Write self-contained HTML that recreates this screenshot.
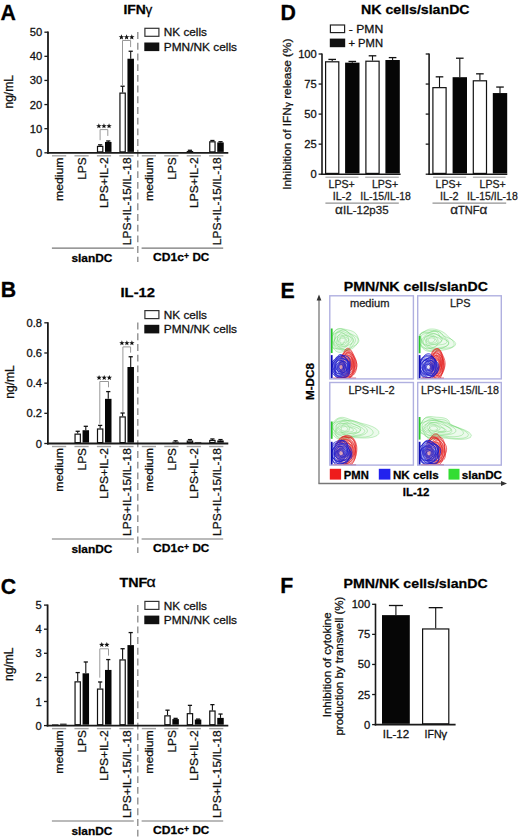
<!DOCTYPE html>
<html><head><meta charset="utf-8"><style>
html,body{margin:0;padding:0;background:#fff;}
svg{display:block;}
text{font-family:"Liberation Sans", sans-serif;stroke:#111;stroke-width:0.28px;paint-order:stroke;}
</style></head><body>
<svg width="520" height="838" viewBox="0 0 520 838">
<rect x="0" y="0" width="520" height="838" fill="#fff"/>
<text x="0.5" y="20.3" font-size="21.3" text-anchor="start" fill="#000" font-weight="bold" >A</text>
<text x="123.4" y="14.3" font-size="13.3" text-anchor="start" fill="#000" font-weight="bold" textLength="22.4" lengthAdjust="spacingAndGlyphs" >IFN</text>
<text x="145.6" y="14.3" font-size="13.5" text-anchor="start" fill="#000" font-family='Liberation Serif' >&#947;</text>
<text x="12.9" y="91.8" font-size="12" text-anchor="middle" fill="#111" textLength="33.5" lengthAdjust="spacingAndGlyphs" transform="rotate(-90 12.9 91.8)" >ng/mL</text>
<rect x="144.9" y="28.3" width="14" height="8" fill="#fff" stroke="#333" stroke-width="1.2"/>
<rect x="144.3" y="42.5" width="15" height="8.6" fill="#111"/>
<text x="163.8" y="36.4" font-size="11.3" text-anchor="start" fill="#111" textLength="43.2" lengthAdjust="spacingAndGlyphs" >NK cells</text>
<text x="163.8" y="50.9" font-size="11.3" text-anchor="start" fill="#111" textLength="73.2" lengthAdjust="spacingAndGlyphs" >PMN/NK cells</text>
<line x1="137.8" y1="32.1" x2="137.8" y2="262" stroke="#888" stroke-width="1.3" stroke-dasharray="6.9 3.8"/>
<line x1="48" y1="31.6" x2="48" y2="153.7" stroke="#1a1a1a" stroke-width="1.8" />
<line x1="47.1" y1="152.8" x2="228.3" y2="152.8" stroke="#1a1a1a" stroke-width="1.8" />
<line x1="44.4" y1="152.8" x2="48" y2="152.8" stroke="#1a1a1a" stroke-width="1.3" />
<text x="42.2" y="156.8" font-size="11.2" text-anchor="end" fill="#111" >0</text>
<line x1="44.4" y1="128.68" x2="48" y2="128.68" stroke="#1a1a1a" stroke-width="1.3" />
<text x="42.2" y="132.68" font-size="11.2" text-anchor="end" fill="#111" >10</text>
<line x1="44.4" y1="104.56" x2="48" y2="104.56" stroke="#1a1a1a" stroke-width="1.3" />
<text x="42.2" y="108.56" font-size="11.2" text-anchor="end" fill="#111" >20</text>
<line x1="44.4" y1="80.44" x2="48" y2="80.44" stroke="#1a1a1a" stroke-width="1.3" />
<text x="42.2" y="84.44" font-size="11.2" text-anchor="end" fill="#111" >30</text>
<line x1="44.4" y1="56.32" x2="48" y2="56.32" stroke="#1a1a1a" stroke-width="1.3" />
<text x="42.2" y="60.32" font-size="11.2" text-anchor="end" fill="#111" >40</text>
<line x1="44.4" y1="32.2" x2="48" y2="32.2" stroke="#1a1a1a" stroke-width="1.3" />
<text x="42.2" y="36.2" font-size="11.2" text-anchor="end" fill="#111" >50</text>
<line x1="52" y1="155.8" x2="66.2" y2="155.8" stroke="#a4a4a4" stroke-width="1.4" />
<text x="63.5" y="157.4" font-size="11.5" text-anchor="end" fill="#111" textLength="43.6" lengthAdjust="spacingAndGlyphs" transform="rotate(-90 63.5 157.4)" >medium</text>
<line x1="74.45" y1="155.8" x2="88.65" y2="155.8" stroke="#a4a4a4" stroke-width="1.4" />
<text x="85.95" y="157.4" font-size="11.5" text-anchor="end" fill="#111" textLength="22.3" lengthAdjust="spacingAndGlyphs" transform="rotate(-90 85.95 157.4)" >LPS</text>
<line x1="96.9" y1="155.8" x2="111.1" y2="155.8" stroke="#a4a4a4" stroke-width="1.4" />
<line x1="100.15" y1="145.81" x2="100.15" y2="144.84" stroke="#111" stroke-width="1.1" />
<line x1="98.05" y1="144.84" x2="102.25" y2="144.84" stroke="#111" stroke-width="1.3" />
<rect x="97.5" y="146.41" width="5.3" height="5.49" fill="#fff" stroke="#111" stroke-width="1.2"/>
<line x1="108.25" y1="141.95" x2="108.25" y2="140.98" stroke="#111" stroke-width="1.1" />
<line x1="106.15" y1="140.98" x2="110.35" y2="140.98" stroke="#111" stroke-width="1.3" />
<rect x="105" y="141.95" width="6.5" height="9.95" fill="#060606"/>
<text x="108.4" y="157.4" font-size="11.5" text-anchor="end" fill="#111" textLength="50.6" lengthAdjust="spacingAndGlyphs" transform="rotate(-90 108.4 157.4)" >LPS+IL-2</text>
<line x1="119.35" y1="155.8" x2="133.55" y2="155.8" stroke="#a4a4a4" stroke-width="1.4" />
<line x1="122.6" y1="92.5" x2="122.6" y2="86.23" stroke="#111" stroke-width="1.1" />
<line x1="120.5" y1="86.23" x2="124.7" y2="86.23" stroke="#111" stroke-width="1.3" />
<rect x="119.95" y="93.1" width="5.3" height="58.8" fill="#fff" stroke="#111" stroke-width="1.2"/>
<line x1="130.7" y1="58.73" x2="130.7" y2="51.25" stroke="#111" stroke-width="1.1" />
<line x1="128.6" y1="51.25" x2="132.8" y2="51.25" stroke="#111" stroke-width="1.3" />
<rect x="127.45" y="58.73" width="6.5" height="93.17" fill="#060606"/>
<text x="130.85" y="157.4" font-size="11.5" text-anchor="end" fill="#111" textLength="87.8" lengthAdjust="spacingAndGlyphs" transform="rotate(-90 130.85 157.4)" >LPS+IL-15/IL-18</text>
<line x1="141.8" y1="155.8" x2="156" y2="155.8" stroke="#a4a4a4" stroke-width="1.4" />
<text x="153.3" y="157.4" font-size="11.5" text-anchor="end" fill="#111" textLength="43.6" lengthAdjust="spacingAndGlyphs" transform="rotate(-90 153.3 157.4)" >medium</text>
<line x1="164.25" y1="155.8" x2="178.45" y2="155.8" stroke="#a4a4a4" stroke-width="1.4" />
<text x="175.75" y="157.4" font-size="11.5" text-anchor="end" fill="#111" textLength="22.3" lengthAdjust="spacingAndGlyphs" transform="rotate(-90 175.75 157.4)" >LPS</text>
<line x1="186.7" y1="155.8" x2="200.9" y2="155.8" stroke="#a4a4a4" stroke-width="1.4" />
<line x1="189.95" y1="150.99" x2="189.95" y2="150.27" stroke="#111" stroke-width="1.1" />
<line x1="187.85" y1="150.27" x2="192.05" y2="150.27" stroke="#111" stroke-width="1.3" />
<rect x="187.3" y="151.59" width="5.3" height="0.31" fill="#fff" stroke="#111" stroke-width="1.2"/>
<text x="198.2" y="157.4" font-size="11.5" text-anchor="end" fill="#111" textLength="50.6" lengthAdjust="spacingAndGlyphs" transform="rotate(-90 198.2 157.4)" >LPS+IL-2</text>
<line x1="209.15" y1="155.8" x2="223.35" y2="155.8" stroke="#a4a4a4" stroke-width="1.4" />
<line x1="212.4" y1="141.22" x2="212.4" y2="140.5" stroke="#111" stroke-width="1.1" />
<line x1="210.3" y1="140.5" x2="214.5" y2="140.5" stroke="#111" stroke-width="1.3" />
<rect x="209.75" y="141.82" width="5.3" height="10.08" fill="#fff" stroke="#111" stroke-width="1.2"/>
<line x1="220.5" y1="142.43" x2="220.5" y2="141.7" stroke="#111" stroke-width="1.1" />
<line x1="218.4" y1="141.7" x2="222.6" y2="141.7" stroke="#111" stroke-width="1.3" />
<rect x="217.25" y="142.43" width="6.5" height="9.47" fill="#060606"/>
<text x="220.65" y="157.4" font-size="11.5" text-anchor="end" fill="#111" textLength="87.8" lengthAdjust="spacingAndGlyphs" transform="rotate(-90 220.65 157.4)" >LPS+IL-15/IL-18</text>
<line x1="51.9" y1="248.1" x2="133.8" y2="248.1" stroke="#777" stroke-width="1.2" />
<line x1="141.6" y1="248.1" x2="223.2" y2="248.1" stroke="#777" stroke-width="1.2" />
<text x="91.9" y="261.6" font-size="11.6" text-anchor="middle" fill="#000" font-weight="bold" textLength="41" lengthAdjust="spacingAndGlyphs" >slanDC</text>
<text x="153.1" y="261.2" font-size="11.6" text-anchor="start" fill="#000" font-weight="bold" textLength="31" lengthAdjust="spacingAndGlyphs" >CD1c</text>
<text x="183.9" y="259.3" font-size="9.0" text-anchor="start" fill="#000" font-weight="bold" textLength="5" lengthAdjust="spacingAndGlyphs" >+</text>
<text x="192.4" y="261.2" font-size="11.6" text-anchor="start" fill="#000" font-weight="bold" textLength="16.9" lengthAdjust="spacingAndGlyphs" >DC</text>
<polyline points="100.1,140.2 100.1,129.6 107.8,129.6 107.8,135.9" fill="none" stroke="#999" stroke-width="1"/>
<polygon points="98.85,123.29 99.54,125.15 101.52,125.23 99.97,126.46 100.5,128.37 98.85,127.28 97.2,128.37 97.73,126.46 96.18,125.23 98.16,125.15" fill="#111"/>
<polygon points="103.95,123.29 104.64,125.15 106.62,125.23 105.07,126.46 105.6,128.37 103.95,127.28 102.3,128.37 102.83,126.46 101.28,125.23 103.26,125.15" fill="#111"/>
<polygon points="109.05,123.29 109.74,125.15 111.72,125.23 110.17,126.46 110.7,128.37 109.05,127.28 107.4,128.37 107.93,126.46 106.38,125.23 108.36,125.15" fill="#111"/>
<polyline points="122.5,85 122.5,40.5 130.6,40.5 130.6,47.1" fill="none" stroke="#999" stroke-width="1"/>
<polygon points="121.4,34.34 122.11,36.23 124.12,36.32 122.54,37.57 123.08,39.51 121.4,38.4 119.72,39.51 120.26,37.57 118.68,36.32 120.69,36.23" fill="#111"/>
<polygon points="126.6,34.34 127.31,36.23 129.32,36.32 127.74,37.57 128.28,39.51 126.6,38.4 124.92,39.51 125.46,37.57 123.88,36.32 125.89,36.23" fill="#111"/>
<polygon points="131.8,34.34 132.51,36.23 134.52,36.32 132.94,37.57 133.48,39.51 131.8,38.4 130.12,39.51 130.66,37.57 129.08,36.32 131.09,36.23" fill="#111"/>
<text x="0.8" y="297.4" font-size="21.3" text-anchor="start" fill="#000" font-weight="bold" >B</text>
<text x="120.5" y="296.6" font-size="13.3" text-anchor="start" fill="#000" font-weight="bold" textLength="34.5" lengthAdjust="spacingAndGlyphs" >IL-12</text>
<text x="13.6" y="382" font-size="12" text-anchor="middle" fill="#111" textLength="33.5" lengthAdjust="spacingAndGlyphs" transform="rotate(-90 13.6 382)" >ng/mL</text>
<rect x="144.9" y="310.6" width="14" height="8" fill="#fff" stroke="#333" stroke-width="1.2"/>
<rect x="144.3" y="324.8" width="15" height="8.6" fill="#111"/>
<text x="163.8" y="318.7" font-size="11.3" text-anchor="start" fill="#111" textLength="43.2" lengthAdjust="spacingAndGlyphs" >NK cells</text>
<text x="163.8" y="333.2" font-size="11.3" text-anchor="start" fill="#111" textLength="73.2" lengthAdjust="spacingAndGlyphs" >PMN/NK cells</text>
<line x1="137.8" y1="322.6" x2="137.8" y2="553" stroke="#888" stroke-width="1.3" stroke-dasharray="6.9 3.8"/>
<line x1="47.9" y1="322.2" x2="47.9" y2="444.4" stroke="#1a1a1a" stroke-width="1.8" />
<line x1="47" y1="443.5" x2="228.3" y2="443.5" stroke="#1a1a1a" stroke-width="1.8" />
<line x1="44.3" y1="443.5" x2="47.9" y2="443.5" stroke="#1a1a1a" stroke-width="1.3" />
<text x="42.1" y="447.5" font-size="11.2" text-anchor="end" fill="#111" >0</text>
<line x1="44.3" y1="413.32" x2="47.9" y2="413.32" stroke="#1a1a1a" stroke-width="1.3" />
<text x="42.1" y="417.32" font-size="11.2" text-anchor="end" fill="#111" >0.2</text>
<line x1="44.3" y1="383.15" x2="47.9" y2="383.15" stroke="#1a1a1a" stroke-width="1.3" />
<text x="42.1" y="387.15" font-size="11.2" text-anchor="end" fill="#111" >0.4</text>
<line x1="44.3" y1="352.98" x2="47.9" y2="352.98" stroke="#1a1a1a" stroke-width="1.3" />
<text x="42.1" y="356.98" font-size="11.2" text-anchor="end" fill="#111" >0.6</text>
<line x1="44.3" y1="322.8" x2="47.9" y2="322.8" stroke="#1a1a1a" stroke-width="1.3" />
<text x="42.1" y="326.8" font-size="11.2" text-anchor="end" fill="#111" >0.8</text>
<line x1="52" y1="446.5" x2="66.2" y2="446.5" stroke="#a4a4a4" stroke-width="1.4" />
<text x="63.5" y="448.1" font-size="11.5" text-anchor="end" fill="#111" textLength="43.6" lengthAdjust="spacingAndGlyphs" transform="rotate(-90 63.5 448.1)" >medium</text>
<line x1="74.45" y1="446.5" x2="88.65" y2="446.5" stroke="#a4a4a4" stroke-width="1.4" />
<line x1="77.7" y1="433.54" x2="77.7" y2="431.28" stroke="#111" stroke-width="1.1" />
<line x1="75.6" y1="431.28" x2="79.8" y2="431.28" stroke="#111" stroke-width="1.3" />
<rect x="75.05" y="434.14" width="5.3" height="8.46" fill="#fff" stroke="#111" stroke-width="1.2"/>
<line x1="85.8" y1="430.22" x2="85.8" y2="426.3" stroke="#111" stroke-width="1.1" />
<line x1="83.7" y1="426.3" x2="87.9" y2="426.3" stroke="#111" stroke-width="1.3" />
<rect x="82.55" y="430.22" width="6.5" height="12.38" fill="#060606"/>
<text x="85.95" y="448.1" font-size="11.5" text-anchor="end" fill="#111" textLength="22.3" lengthAdjust="spacingAndGlyphs" transform="rotate(-90 85.95 448.1)" >LPS</text>
<line x1="96.9" y1="446.5" x2="111.1" y2="446.5" stroke="#a4a4a4" stroke-width="1.4" />
<line x1="100.15" y1="428.41" x2="100.15" y2="425.39" stroke="#111" stroke-width="1.1" />
<line x1="98.05" y1="425.39" x2="102.25" y2="425.39" stroke="#111" stroke-width="1.3" />
<rect x="97.5" y="429.01" width="5.3" height="13.59" fill="#fff" stroke="#111" stroke-width="1.2"/>
<line x1="108.25" y1="398.84" x2="108.25" y2="391.6" stroke="#111" stroke-width="1.1" />
<line x1="106.15" y1="391.6" x2="110.35" y2="391.6" stroke="#111" stroke-width="1.3" />
<rect x="105" y="398.84" width="6.5" height="43.76" fill="#060606"/>
<text x="108.4" y="448.1" font-size="11.5" text-anchor="end" fill="#111" textLength="50.6" lengthAdjust="spacingAndGlyphs" transform="rotate(-90 108.4 448.1)" >LPS+IL-2</text>
<line x1="119.35" y1="446.5" x2="133.55" y2="446.5" stroke="#a4a4a4" stroke-width="1.4" />
<line x1="122.6" y1="416.34" x2="122.6" y2="413.02" stroke="#111" stroke-width="1.1" />
<line x1="120.5" y1="413.02" x2="124.7" y2="413.02" stroke="#111" stroke-width="1.3" />
<rect x="119.95" y="416.94" width="5.3" height="25.66" fill="#fff" stroke="#111" stroke-width="1.2"/>
<line x1="130.7" y1="367.01" x2="130.7" y2="356.75" stroke="#111" stroke-width="1.1" />
<line x1="128.6" y1="356.75" x2="132.8" y2="356.75" stroke="#111" stroke-width="1.3" />
<rect x="127.45" y="367.01" width="6.5" height="75.59" fill="#060606"/>
<text x="130.85" y="448.1" font-size="11.5" text-anchor="end" fill="#111" textLength="87.8" lengthAdjust="spacingAndGlyphs" transform="rotate(-90 130.85 448.1)" >LPS+IL-15/IL-18</text>
<line x1="141.8" y1="446.5" x2="156" y2="446.5" stroke="#a4a4a4" stroke-width="1.4" />
<text x="153.3" y="448.1" font-size="11.5" text-anchor="end" fill="#111" textLength="43.6" lengthAdjust="spacingAndGlyphs" transform="rotate(-90 153.3 448.1)" >medium</text>
<line x1="164.25" y1="446.5" x2="178.45" y2="446.5" stroke="#a4a4a4" stroke-width="1.4" />
<line x1="175.6" y1="441.69" x2="175.6" y2="440.78" stroke="#111" stroke-width="1.1" />
<line x1="173.5" y1="440.78" x2="177.7" y2="440.78" stroke="#111" stroke-width="1.3" />
<rect x="172.35" y="441.69" width="6.5" height="0.91" fill="#060606"/>
<text x="175.75" y="448.1" font-size="11.5" text-anchor="end" fill="#111" textLength="22.3" lengthAdjust="spacingAndGlyphs" transform="rotate(-90 175.75 448.1)" >LPS</text>
<line x1="186.7" y1="446.5" x2="200.9" y2="446.5" stroke="#a4a4a4" stroke-width="1.4" />
<line x1="189.95" y1="440.48" x2="189.95" y2="439.58" stroke="#111" stroke-width="1.1" />
<line x1="187.85" y1="439.58" x2="192.05" y2="439.58" stroke="#111" stroke-width="1.3" />
<rect x="187.3" y="441.08" width="5.3" height="1.52" fill="#fff" stroke="#111" stroke-width="1.2"/>
<rect x="194.8" y="441.99" width="6.5" height="0.61" fill="#060606"/>
<text x="198.2" y="448.1" font-size="11.5" text-anchor="end" fill="#111" textLength="50.6" lengthAdjust="spacingAndGlyphs" transform="rotate(-90 198.2 448.1)" >LPS+IL-2</text>
<line x1="209.15" y1="446.5" x2="223.35" y2="446.5" stroke="#a4a4a4" stroke-width="1.4" />
<line x1="212.4" y1="439.88" x2="212.4" y2="438.97" stroke="#111" stroke-width="1.1" />
<line x1="210.3" y1="438.97" x2="214.5" y2="438.97" stroke="#111" stroke-width="1.3" />
<rect x="209.75" y="440.48" width="5.3" height="2.12" fill="#fff" stroke="#111" stroke-width="1.2"/>
<line x1="220.5" y1="440.48" x2="220.5" y2="439.58" stroke="#111" stroke-width="1.1" />
<line x1="218.4" y1="439.58" x2="222.6" y2="439.58" stroke="#111" stroke-width="1.3" />
<rect x="217.25" y="440.48" width="6.5" height="2.12" fill="#060606"/>
<text x="220.65" y="448.1" font-size="11.5" text-anchor="end" fill="#111" textLength="87.8" lengthAdjust="spacingAndGlyphs" transform="rotate(-90 220.65 448.1)" >LPS+IL-15/IL-18</text>
<line x1="51.9" y1="539" x2="133.8" y2="539" stroke="#777" stroke-width="1.2" />
<line x1="141.6" y1="539" x2="223.2" y2="539" stroke="#777" stroke-width="1.2" />
<text x="91.9" y="552.5" font-size="11.6" text-anchor="middle" fill="#000" font-weight="bold" textLength="41" lengthAdjust="spacingAndGlyphs" >slanDC</text>
<text x="153.1" y="552.1" font-size="11.6" text-anchor="start" fill="#000" font-weight="bold" textLength="31" lengthAdjust="spacingAndGlyphs" >CD1c</text>
<text x="183.9" y="550.2" font-size="9.0" text-anchor="start" fill="#000" font-weight="bold" textLength="5" lengthAdjust="spacingAndGlyphs" >+</text>
<text x="192.4" y="552.1" font-size="11.6" text-anchor="start" fill="#000" font-weight="bold" textLength="16.9" lengthAdjust="spacingAndGlyphs" >DC</text>
<polyline points="99.8,423.8 99.8,381.5 108.5,381.5 108.5,387.3" fill="none" stroke="#999" stroke-width="1"/>
<polygon points="99.07,374.88 99.76,376.74 101.75,376.83 100.19,378.07 100.73,379.98 99.07,378.89 97.41,379.98 97.94,378.07 96.38,376.83 98.37,376.74" fill="#111"/>
<polygon points="104.2,374.88 104.9,376.74 106.89,376.83 105.33,378.07 105.86,379.98 104.2,378.89 102.54,379.98 103.07,378.07 101.51,376.83 103.5,376.74" fill="#111"/>
<polygon points="109.33,374.88 110.03,376.74 112.02,376.83 110.46,378.07 110.99,379.98 109.33,378.89 107.67,379.98 108.21,378.07 106.65,376.83 108.64,376.74" fill="#111"/>
<polyline points="122.9,411.9 122.9,346.9 130.6,346.9 130.6,352.7" fill="none" stroke="#999" stroke-width="1"/>
<polygon points="121.9,340.35 122.58,342.17 124.52,342.25 123,343.46 123.52,345.32 121.9,344.25 120.28,345.32 120.8,343.46 119.28,342.25 121.22,342.17" fill="#111"/>
<polygon points="126.9,340.35 127.58,342.17 129.52,342.25 128,343.46 128.52,345.32 126.9,344.25 125.28,345.32 125.8,343.46 124.28,342.25 126.22,342.17" fill="#111"/>
<polygon points="131.9,340.35 132.58,342.17 134.52,342.25 133,343.46 133.52,345.32 131.9,344.25 130.28,345.32 130.8,343.46 129.28,342.25 131.22,342.17" fill="#111"/>
<text x="0.8" y="593.5" font-size="21.3" text-anchor="start" fill="#000" font-weight="bold" >C</text>
<text x="119.5" y="587.3" font-size="13.3" text-anchor="start" fill="#000" font-weight="bold" textLength="27.8" lengthAdjust="spacingAndGlyphs" >TNF</text>
<text x="146.6" y="587.3" font-size="14.5" text-anchor="start" fill="#000" font-family='Liberation Serif' textLength="9.2" lengthAdjust="spacingAndGlyphs" >&#945;</text>
<text x="13" y="664.2" font-size="12" text-anchor="middle" fill="#111" textLength="33.5" lengthAdjust="spacingAndGlyphs" transform="rotate(-90 13 664.2)" >ng/mL</text>
<rect x="144.9" y="601.4" width="14" height="8" fill="#fff" stroke="#333" stroke-width="1.2"/>
<rect x="144.3" y="615.6" width="15" height="8.6" fill="#111"/>
<text x="163.8" y="609.5" font-size="11.3" text-anchor="start" fill="#111" textLength="43.2" lengthAdjust="spacingAndGlyphs" >NK cells</text>
<text x="163.8" y="624" font-size="11.3" text-anchor="start" fill="#111" textLength="73.2" lengthAdjust="spacingAndGlyphs" >PMN/NK cells</text>
<line x1="137.8" y1="605" x2="137.8" y2="838" stroke="#888" stroke-width="1.3" stroke-dasharray="6.9 3.8"/>
<line x1="47.6" y1="604.5" x2="47.6" y2="726.5" stroke="#1a1a1a" stroke-width="1.8" />
<line x1="46.7" y1="725.6" x2="228.3" y2="725.6" stroke="#1a1a1a" stroke-width="1.8" />
<line x1="44" y1="725.6" x2="47.6" y2="725.6" stroke="#1a1a1a" stroke-width="1.3" />
<text x="41.8" y="729.6" font-size="11.2" text-anchor="end" fill="#111" >0</text>
<line x1="44" y1="701.5" x2="47.6" y2="701.5" stroke="#1a1a1a" stroke-width="1.3" />
<text x="41.8" y="705.5" font-size="11.2" text-anchor="end" fill="#111" >1</text>
<line x1="44" y1="677.4" x2="47.6" y2="677.4" stroke="#1a1a1a" stroke-width="1.3" />
<text x="41.8" y="681.4" font-size="11.2" text-anchor="end" fill="#111" >2</text>
<line x1="44" y1="653.3" x2="47.6" y2="653.3" stroke="#1a1a1a" stroke-width="1.3" />
<text x="41.8" y="657.3" font-size="11.2" text-anchor="end" fill="#111" >3</text>
<line x1="44" y1="629.2" x2="47.6" y2="629.2" stroke="#1a1a1a" stroke-width="1.3" />
<text x="41.8" y="633.2" font-size="11.2" text-anchor="end" fill="#111" >4</text>
<line x1="44" y1="605.1" x2="47.6" y2="605.1" stroke="#1a1a1a" stroke-width="1.3" />
<text x="41.8" y="609.1" font-size="11.2" text-anchor="end" fill="#111" >5</text>
<line x1="52" y1="728.6" x2="66.2" y2="728.6" stroke="#a4a4a4" stroke-width="1.4" />
<rect x="52.6" y="725" width="5.3" height="0.1" fill="#fff" stroke="#111" stroke-width="1.2"/>
<rect x="60.1" y="723.67" width="6.5" height="1.03" fill="#060606"/>
<text x="63.5" y="730.2" font-size="11.5" text-anchor="end" fill="#111" textLength="43.6" lengthAdjust="spacingAndGlyphs" transform="rotate(-90 63.5 730.2)" >medium</text>
<line x1="74.45" y1="728.6" x2="88.65" y2="728.6" stroke="#a4a4a4" stroke-width="1.4" />
<line x1="77.7" y1="681.26" x2="77.7" y2="672.58" stroke="#111" stroke-width="1.1" />
<line x1="75.6" y1="672.58" x2="79.8" y2="672.58" stroke="#111" stroke-width="1.3" />
<rect x="75.05" y="681.86" width="5.3" height="42.84" fill="#fff" stroke="#111" stroke-width="1.2"/>
<line x1="85.8" y1="673.3" x2="85.8" y2="661.98" stroke="#111" stroke-width="1.1" />
<line x1="83.7" y1="661.98" x2="87.9" y2="661.98" stroke="#111" stroke-width="1.3" />
<rect x="82.55" y="673.3" width="6.5" height="51.4" fill="#060606"/>
<text x="85.95" y="730.2" font-size="11.5" text-anchor="end" fill="#111" textLength="22.3" lengthAdjust="spacingAndGlyphs" transform="rotate(-90 85.95 730.2)" >LPS</text>
<line x1="96.9" y1="728.6" x2="111.1" y2="728.6" stroke="#a4a4a4" stroke-width="1.4" />
<line x1="100.15" y1="688.49" x2="100.15" y2="681.98" stroke="#111" stroke-width="1.1" />
<line x1="98.05" y1="681.98" x2="102.25" y2="681.98" stroke="#111" stroke-width="1.3" />
<rect x="97.5" y="689.09" width="5.3" height="35.61" fill="#fff" stroke="#111" stroke-width="1.2"/>
<line x1="108.25" y1="669.93" x2="108.25" y2="659.57" stroke="#111" stroke-width="1.1" />
<line x1="106.15" y1="659.57" x2="110.35" y2="659.57" stroke="#111" stroke-width="1.3" />
<rect x="105" y="669.93" width="6.5" height="54.77" fill="#060606"/>
<text x="108.4" y="730.2" font-size="11.5" text-anchor="end" fill="#111" textLength="50.6" lengthAdjust="spacingAndGlyphs" transform="rotate(-90 108.4 730.2)" >LPS+IL-2</text>
<line x1="119.35" y1="728.6" x2="133.55" y2="728.6" stroke="#a4a4a4" stroke-width="1.4" />
<line x1="122.6" y1="659.33" x2="122.6" y2="648.72" stroke="#111" stroke-width="1.1" />
<line x1="120.5" y1="648.72" x2="124.7" y2="648.72" stroke="#111" stroke-width="1.3" />
<rect x="119.95" y="659.93" width="5.3" height="64.78" fill="#fff" stroke="#111" stroke-width="1.2"/>
<line x1="130.7" y1="645.11" x2="130.7" y2="632.57" stroke="#111" stroke-width="1.1" />
<line x1="128.6" y1="632.57" x2="132.8" y2="632.57" stroke="#111" stroke-width="1.3" />
<rect x="127.45" y="645.11" width="6.5" height="79.59" fill="#060606"/>
<text x="130.85" y="730.2" font-size="11.5" text-anchor="end" fill="#111" textLength="87.8" lengthAdjust="spacingAndGlyphs" transform="rotate(-90 130.85 730.2)" >LPS+IL-15/IL-18</text>
<line x1="141.8" y1="728.6" x2="156" y2="728.6" stroke="#a4a4a4" stroke-width="1.4" />
<text x="153.3" y="730.2" font-size="11.5" text-anchor="end" fill="#111" textLength="43.6" lengthAdjust="spacingAndGlyphs" transform="rotate(-90 153.3 730.2)" >medium</text>
<line x1="164.25" y1="728.6" x2="178.45" y2="728.6" stroke="#a4a4a4" stroke-width="1.4" />
<line x1="167.5" y1="715.24" x2="167.5" y2="710.18" stroke="#111" stroke-width="1.1" />
<line x1="165.4" y1="710.18" x2="169.6" y2="710.18" stroke="#111" stroke-width="1.3" />
<rect x="164.85" y="715.84" width="5.3" height="8.86" fill="#fff" stroke="#111" stroke-width="1.2"/>
<line x1="175.6" y1="719.09" x2="175.6" y2="718.37" stroke="#111" stroke-width="1.1" />
<line x1="173.5" y1="718.37" x2="177.7" y2="718.37" stroke="#111" stroke-width="1.3" />
<rect x="172.35" y="719.09" width="6.5" height="5.61" fill="#060606"/>
<text x="175.75" y="730.2" font-size="11.5" text-anchor="end" fill="#111" textLength="22.3" lengthAdjust="spacingAndGlyphs" transform="rotate(-90 175.75 730.2)" >LPS</text>
<line x1="186.7" y1="728.6" x2="200.9" y2="728.6" stroke="#a4a4a4" stroke-width="1.4" />
<line x1="189.95" y1="713.07" x2="189.95" y2="705.36" stroke="#111" stroke-width="1.1" />
<line x1="187.85" y1="705.36" x2="192.05" y2="705.36" stroke="#111" stroke-width="1.3" />
<rect x="187.3" y="713.67" width="5.3" height="11.03" fill="#fff" stroke="#111" stroke-width="1.2"/>
<line x1="198.05" y1="719.58" x2="198.05" y2="719.09" stroke="#111" stroke-width="1.1" />
<line x1="195.95" y1="719.09" x2="200.15" y2="719.09" stroke="#111" stroke-width="1.3" />
<rect x="194.8" y="719.58" width="6.5" height="5.12" fill="#060606"/>
<text x="198.2" y="730.2" font-size="11.5" text-anchor="end" fill="#111" textLength="50.6" lengthAdjust="spacingAndGlyphs" transform="rotate(-90 198.2 730.2)" >LPS+IL-2</text>
<line x1="209.15" y1="728.6" x2="223.35" y2="728.6" stroke="#a4a4a4" stroke-width="1.4" />
<line x1="212.4" y1="710.42" x2="212.4" y2="704.63" stroke="#111" stroke-width="1.1" />
<line x1="210.3" y1="704.63" x2="214.5" y2="704.63" stroke="#111" stroke-width="1.3" />
<rect x="209.75" y="711.02" width="5.3" height="13.68" fill="#fff" stroke="#111" stroke-width="1.2"/>
<line x1="220.5" y1="717.89" x2="220.5" y2="714.03" stroke="#111" stroke-width="1.1" />
<line x1="218.4" y1="714.03" x2="222.6" y2="714.03" stroke="#111" stroke-width="1.3" />
<rect x="217.25" y="717.89" width="6.5" height="6.81" fill="#060606"/>
<text x="220.65" y="730.2" font-size="11.5" text-anchor="end" fill="#111" textLength="87.8" lengthAdjust="spacingAndGlyphs" transform="rotate(-90 220.65 730.2)" >LPS+IL-15/IL-18</text>
<line x1="51.9" y1="821" x2="133.8" y2="821" stroke="#777" stroke-width="1.2" />
<line x1="141.6" y1="821" x2="223.2" y2="821" stroke="#777" stroke-width="1.2" />
<text x="91.9" y="834.5" font-size="11.6" text-anchor="middle" fill="#000" font-weight="bold" textLength="41" lengthAdjust="spacingAndGlyphs" >slanDC</text>
<text x="153.1" y="834.1" font-size="11.6" text-anchor="start" fill="#000" font-weight="bold" textLength="31" lengthAdjust="spacingAndGlyphs" >CD1c</text>
<text x="183.9" y="832.2" font-size="9.0" text-anchor="start" fill="#000" font-weight="bold" textLength="5" lengthAdjust="spacingAndGlyphs" >+</text>
<text x="192.4" y="834.1" font-size="11.6" text-anchor="start" fill="#000" font-weight="bold" textLength="16.9" lengthAdjust="spacingAndGlyphs" >DC</text>
<polyline points="99.8,677.7 99.8,648.8 108.5,648.8 108.5,655.6" fill="none" stroke="#999" stroke-width="1"/>
<polygon points="101.75,642 102.44,643.85 104.42,643.93 102.87,645.16 103.4,647.07 101.75,645.98 100.1,647.07 100.63,645.16 99.08,643.93 101.06,643.85" fill="#111"/>
<polygon points="106.85,642 107.54,643.85 109.52,643.93 107.97,645.16 108.5,647.07 106.85,645.98 105.2,647.07 105.73,645.16 104.18,643.93 106.16,643.85" fill="#111"/>
<text x="280.6" y="20.2" font-size="21.3" text-anchor="start" fill="#000" font-weight="bold" >D</text>
<text x="361" y="14.3" font-size="13.3" text-anchor="start" fill="#000" font-weight="bold" textLength="108.6" lengthAdjust="spacingAndGlyphs" >NK cells/slanDC</text>
<rect x="330.4" y="25" width="14.2" height="7.6" fill="#fff" stroke="#222" stroke-width="1.2"/>
<rect x="329.8" y="38.6" width="15.4" height="8.6" fill="#111"/>
<text x="348.8" y="33" font-size="11.4" text-anchor="start" fill="#111" textLength="34.4" lengthAdjust="spacingAndGlyphs" >- PMN</text>
<text x="348.4" y="47" font-size="11.4" text-anchor="start" fill="#111" textLength="34.6" lengthAdjust="spacingAndGlyphs" >+ PMN</text>
<text x="291.2" y="114.2" font-size="11.2" text-anchor="middle" fill="#111" textLength="151.3" lengthAdjust="spacingAndGlyphs" transform="rotate(-90 291.2 114.2)" >Inhibition of IFN<tspan font-family="Liberation Serif">&#947;</tspan> release (%)</text>
<line x1="322" y1="53.4" x2="322" y2="175.1" stroke="#1a1a1a" stroke-width="1.6" />
<line x1="321.2" y1="174.2" x2="400.6" y2="174.2" stroke="#1a1a1a" stroke-width="1.6" />
<line x1="318.6" y1="174.2" x2="322" y2="174.2" stroke="#1a1a1a" stroke-width="1.3" />
<text x="316.8" y="178.2" font-size="11.2" text-anchor="end" fill="#111" >0</text>
<line x1="318.6" y1="144.15" x2="322" y2="144.15" stroke="#1a1a1a" stroke-width="1.3" />
<text x="316.8" y="148.15" font-size="11.2" text-anchor="end" fill="#111" >25</text>
<line x1="318.6" y1="114.1" x2="322" y2="114.1" stroke="#1a1a1a" stroke-width="1.3" />
<text x="316.8" y="118.1" font-size="11.2" text-anchor="end" fill="#111" >50</text>
<line x1="318.6" y1="84.05" x2="322" y2="84.05" stroke="#1a1a1a" stroke-width="1.3" />
<text x="316.8" y="88.05" font-size="11.2" text-anchor="end" fill="#111" >75</text>
<line x1="318.6" y1="54" x2="322" y2="54" stroke="#1a1a1a" stroke-width="1.3" />
<text x="316.8" y="58" font-size="11.2" text-anchor="end" fill="#111" >100</text>
<line x1="332.2" y1="61.21" x2="332.2" y2="59.41" stroke="#111" stroke-width="1.1" />
<line x1="328.4" y1="59.41" x2="336" y2="59.41" stroke="#111" stroke-width="1.3" />
<rect x="325.6" y="61.81" width="13.2" height="111.59" fill="#fff" stroke="#111" stroke-width="1.2"/>
<line x1="352.3" y1="62.65" x2="352.3" y2="61.45" stroke="#111" stroke-width="1.1" />
<line x1="348.5" y1="61.45" x2="356.1" y2="61.45" stroke="#111" stroke-width="1.3" />
<rect x="345.1" y="62.65" width="14.4" height="110.75" fill="#060606"/>
<line x1="372.5" y1="60.61" x2="372.5" y2="55.8" stroke="#111" stroke-width="1.1" />
<line x1="368.7" y1="55.8" x2="376.3" y2="55.8" stroke="#111" stroke-width="1.3" />
<rect x="365.9" y="61.21" width="13.2" height="112.19" fill="#fff" stroke="#111" stroke-width="1.2"/>
<line x1="392.6" y1="60.01" x2="392.6" y2="57.61" stroke="#111" stroke-width="1.1" />
<line x1="388.8" y1="57.61" x2="396.4" y2="57.61" stroke="#111" stroke-width="1.3" />
<rect x="385.4" y="60.01" width="14.4" height="113.39" fill="#060606"/>
<line x1="325.4" y1="177.2" x2="358.5" y2="177.2" stroke="#999" stroke-width="1" />
<line x1="365.2" y1="177.2" x2="398.8" y2="177.2" stroke="#999" stroke-width="1" />
<text x="341.7" y="187.9" font-size="10.9" text-anchor="middle" fill="#222" textLength="26.2" lengthAdjust="spacingAndGlyphs" >LPS+</text>
<text x="342.1" y="200" font-size="10.9" text-anchor="middle" fill="#222" textLength="18.6" lengthAdjust="spacingAndGlyphs" >IL-2</text>
<text x="385" y="187.9" font-size="10.9" text-anchor="middle" fill="#222" textLength="26.2" lengthAdjust="spacingAndGlyphs" >LPS+</text>
<text x="385.6" y="200" font-size="10.9" text-anchor="middle" fill="#222" textLength="50.6" lengthAdjust="spacingAndGlyphs" >IL-15/IL-18</text>
<line x1="325.4" y1="203.1" x2="398.8" y2="203.1" stroke="#777" stroke-width="1" />
<line x1="429.1" y1="53.4" x2="429.1" y2="175.1" stroke="#1a1a1a" stroke-width="1.6" />
<line x1="428.3" y1="174.2" x2="507.3" y2="174.2" stroke="#1a1a1a" stroke-width="1.6" />
<line x1="425.7" y1="174.2" x2="429.1" y2="174.2" stroke="#1a1a1a" stroke-width="1.3" />
<line x1="425.7" y1="144.15" x2="429.1" y2="144.15" stroke="#1a1a1a" stroke-width="1.3" />
<line x1="425.7" y1="114.1" x2="429.1" y2="114.1" stroke="#1a1a1a" stroke-width="1.3" />
<line x1="425.7" y1="84.05" x2="429.1" y2="84.05" stroke="#1a1a1a" stroke-width="1.3" />
<line x1="425.7" y1="54" x2="429.1" y2="54" stroke="#1a1a1a" stroke-width="1.3" />
<line x1="439.5" y1="87.05" x2="439.5" y2="76.84" stroke="#111" stroke-width="1.1" />
<line x1="435.7" y1="76.84" x2="443.3" y2="76.84" stroke="#111" stroke-width="1.3" />
<rect x="432.9" y="87.65" width="13.2" height="85.74" fill="#fff" stroke="#111" stroke-width="1.2"/>
<line x1="459.8" y1="77.2" x2="459.8" y2="58.21" stroke="#111" stroke-width="1.1" />
<line x1="456" y1="58.21" x2="463.6" y2="58.21" stroke="#111" stroke-width="1.3" />
<rect x="452.6" y="77.2" width="14.4" height="96.2" fill="#060606"/>
<line x1="479.9" y1="80.2" x2="479.9" y2="73.83" stroke="#111" stroke-width="1.1" />
<line x1="476.1" y1="73.83" x2="483.7" y2="73.83" stroke="#111" stroke-width="1.3" />
<rect x="473.3" y="80.8" width="13.2" height="92.6" fill="#fff" stroke="#111" stroke-width="1.2"/>
<line x1="500" y1="93.06" x2="500" y2="87.05" stroke="#111" stroke-width="1.1" />
<line x1="496.2" y1="87.05" x2="503.8" y2="87.05" stroke="#111" stroke-width="1.3" />
<rect x="492.8" y="93.06" width="14.4" height="80.33" fill="#060606"/>
<line x1="433.1" y1="177.2" x2="466.2" y2="177.2" stroke="#999" stroke-width="1" />
<line x1="472.9" y1="177.2" x2="505.6" y2="177.2" stroke="#999" stroke-width="1" />
<text x="448.6" y="187.9" font-size="10.9" text-anchor="middle" fill="#222" textLength="26.2" lengthAdjust="spacingAndGlyphs" >LPS+</text>
<text x="449.3" y="200" font-size="10.9" text-anchor="middle" fill="#222" textLength="18.6" lengthAdjust="spacingAndGlyphs" >IL-2</text>
<text x="492.6" y="187.9" font-size="10.9" text-anchor="middle" fill="#222" textLength="26.2" lengthAdjust="spacingAndGlyphs" >LPS+</text>
<text x="492.4" y="200" font-size="10.9" text-anchor="middle" fill="#222" textLength="50.6" lengthAdjust="spacingAndGlyphs" >IL-15/IL-18</text>
<line x1="432.5" y1="203.1" x2="506.2" y2="203.1" stroke="#777" stroke-width="1" />
<text x="335" y="214.3" font-size="13.5" text-anchor="start" fill="#222" font-family='Liberation Serif' >&#945;</text>
<text x="343" y="214.3" font-size="11.5" text-anchor="start" fill="#222" textLength="45.6" lengthAdjust="spacingAndGlyphs" >IL-12p35</text>
<text x="450.2" y="214.3" font-size="13.5" text-anchor="start" fill="#222" font-family='Liberation Serif' >&#945;</text>
<text x="458" y="214.3" font-size="11.5" text-anchor="start" fill="#222" textLength="21.5" lengthAdjust="spacingAndGlyphs" >TNF</text>
<text x="479.6" y="214.3" font-size="13.5" text-anchor="start" fill="#222" font-family='Liberation Serif' >&#945;</text>
<text x="280.3" y="593" font-size="21.3" text-anchor="start" fill="#000" font-weight="bold" >F</text>
<text x="343.5" y="587.5" font-size="13.4" text-anchor="start" fill="#000" font-weight="bold" textLength="144.2" lengthAdjust="spacingAndGlyphs" >PMN/NK cells/slanDC</text>
<line x1="375.5" y1="603.7" x2="375.5" y2="725.5" stroke="#1a1a1a" stroke-width="1.6" />
<line x1="374.7" y1="724.6" x2="455.6" y2="724.6" stroke="#1a1a1a" stroke-width="1.6" />
<line x1="372.1" y1="724.6" x2="375.5" y2="724.6" stroke="#1a1a1a" stroke-width="1.3" />
<text x="370.3" y="728.6" font-size="11.2" text-anchor="end" fill="#111" >0</text>
<line x1="372.1" y1="694.52" x2="375.5" y2="694.52" stroke="#1a1a1a" stroke-width="1.3" />
<text x="370.3" y="698.52" font-size="11.2" text-anchor="end" fill="#111" >25</text>
<line x1="372.1" y1="664.45" x2="375.5" y2="664.45" stroke="#1a1a1a" stroke-width="1.3" />
<text x="370.3" y="668.45" font-size="11.2" text-anchor="end" fill="#111" >50</text>
<line x1="372.1" y1="634.38" x2="375.5" y2="634.38" stroke="#1a1a1a" stroke-width="1.3" />
<text x="370.3" y="638.38" font-size="11.2" text-anchor="end" fill="#111" >75</text>
<line x1="372.1" y1="604.3" x2="375.5" y2="604.3" stroke="#1a1a1a" stroke-width="1.3" />
<text x="370.3" y="608.3" font-size="11.2" text-anchor="end" fill="#111" >100</text>
<line x1="395.9" y1="615.13" x2="395.9" y2="605.5" stroke="#111" stroke-width="1.1" />
<line x1="388.9" y1="605.5" x2="402.9" y2="605.5" stroke="#111" stroke-width="1.3" />
<rect x="382" y="615.13" width="27.8" height="108.67" fill="#060606"/>
<line x1="435.7" y1="628.36" x2="435.7" y2="607.67" stroke="#111" stroke-width="1.1" />
<line x1="428.7" y1="607.67" x2="442.7" y2="607.67" stroke="#111" stroke-width="1.3" />
<rect x="422.6" y="628.96" width="26.2" height="94.84" fill="#fff" stroke="#111" stroke-width="1.2"/>
<text x="396" y="738.1" font-size="11.3" text-anchor="middle" fill="#111" textLength="26.4" lengthAdjust="spacingAndGlyphs" >IL-12</text>
<text x="424.6" y="738.1" font-size="11.3" text-anchor="start" fill="#111" textLength="17" lengthAdjust="spacingAndGlyphs" >IFN</text>
<text x="441.2" y="738.1" font-size="11.8" text-anchor="start" fill="#111" font-family='Liberation Serif' >&#947;</text>
<text x="331.4" y="664.8" font-size="11.2" text-anchor="middle" fill="#111" textLength="105" lengthAdjust="spacingAndGlyphs" transform="rotate(-90 331.4 664.8)" >Inhibition of cytokine</text>
<text x="343" y="666.1" font-size="11.2" text-anchor="middle" fill="#111" textLength="139" lengthAdjust="spacingAndGlyphs" transform="rotate(-90 343 666.1)" >production by transwell (%)</text>
<text x="280.6" y="297.6" font-size="21.3" text-anchor="start" fill="#000" font-weight="bold" >E</text>
<text x="343.7" y="290.7" font-size="13.4" text-anchor="start" fill="#000" font-weight="bold" textLength="144.2" lengthAdjust="spacingAndGlyphs" >PMN/NK cells/slanDC</text>
<line x1="319" y1="299" x2="319" y2="483.5" stroke="#777" stroke-width="1.3" />
<line x1="318.4" y1="483.5" x2="503" y2="483.5" stroke="#777" stroke-width="1.3" />
<polygon points="319,294.5 316.6,300.5 321.4,300.5" fill="#333"/>
<polygon points="507,483.5 501,481.1 501,485.9" fill="#333"/>
<text x="314.2" y="381.5" font-size="11.7" text-anchor="middle" fill="#000" font-weight="bold" textLength="37" lengthAdjust="spacingAndGlyphs" transform="rotate(-90 314.2 381.5)" >M-DC8</text>
<text x="416.1" y="496.2" font-size="11.7" text-anchor="middle" fill="#000" font-weight="bold" textLength="26.7" lengthAdjust="spacingAndGlyphs" >IL-12</text>
<defs><clipPath id="cb0"><rect x="331.3" y="296.2" width="82.2" height="82.2"/></clipPath><clipPath id="cb1"><rect x="419.2" y="296.2" width="82.2" height="82.2"/></clipPath><clipPath id="cb2"><rect x="331.3" y="382.9" width="82.2" height="82.2"/></clipPath><clipPath id="cb3"><rect x="419.2" y="382.9" width="82.2" height="82.2"/></clipPath></defs>
<g clip-path="url(#cb0)">
<path d="M329.47,340.6 L329.46,339.22 L329.72,337.86 L330.22,336.58 L330.91,335.41 L331.7,334.35 L332.54,333.37 L333.39,332.44 L334.27,331.54 L335.18,330.68 L336.16,329.89 L337.24,329.23 L338.41,328.75 L339.63,328.5 L340.88,328.47 L342.1,328.61 L343.48,328.88 L344.82,329.19 L346.14,329.5 L347.49,329.8 L348.89,330.1 L350.35,330.46 L351.83,330.96 L353.26,331.63 L354.6,332.49 L355.77,333.55 L356.76,334.77 L357.52,336.13 L358.02,337.58 L358.23,339.09 L358.15,340.6 L357.8,341.96 L357.25,343.24 L356.53,344.45 L355.7,345.58 L354.77,346.61 L353.74,347.54 L352.59,348.36 L351.34,349.03 L350.03,349.57 L348.71,350 L347.41,350.39 L346.13,350.78 L344.84,351.19 L343.51,351.62 L342.1,352.02 L340.82,352.3 L339.49,352.38 L338.16,352.21 L336.92,351.75 L335.81,351.04 L334.87,350.14 L334.08,349.13 L333.41,348.1 L332.79,347.08 L332.17,346.1 L331.52,345.12 L330.85,344.1 L330.24,343.02 L329.75,341.84Z" fill="#44cc44" fill-opacity="0.1" stroke="none"/>
<path d="M339.87,340.6 L339.9,340.36 L339.93,340.12 L339.94,339.87 L339.96,339.61 L340,339.34 L340.07,339.06 L340.18,338.8 L340.34,338.57 L340.55,338.38 L340.79,338.24 L341.06,338.16 L341.33,338.13 L341.6,338.13 L341.85,338.15 L342.1,338.17 L342.38,338.2 L342.67,338.22 L342.96,338.24 L343.27,338.26 L343.59,338.3 L343.91,338.37 L344.24,338.48 L344.54,338.64 L344.81,338.84 L345.03,339.09 L345.19,339.37 L345.27,339.68 L345.27,340 L345.2,340.31 L345.06,340.6 L344.88,340.84 L344.68,341.05 L344.49,341.24 L344.32,341.41 L344.18,341.59 L344.07,341.77 L343.97,341.98 L343.86,342.2 L343.72,342.43 L343.54,342.65 L343.32,342.84 L343.05,343 L342.75,343.11 L342.43,343.16 L342.1,343.17 L341.82,343.14 L341.55,343.08 L341.28,343.01 L341.03,342.91 L340.77,342.8 L340.53,342.67 L340.3,342.51 L340.11,342.32 L339.95,342.1 L339.84,341.85 L339.78,341.59 L339.76,341.33 L339.78,341.07 L339.82,340.83Z M338.27,340.6 L338.47,340.2 L338.74,339.86 L339.03,339.56 L339.29,339.3 L339.51,339.04 L339.7,338.78 L339.86,338.49 L340.01,338.19 L340.2,337.87 L340.42,337.57 L340.69,337.3 L341,337.09 L341.35,336.93 L341.72,336.83 L342.1,336.77 L342.55,336.76 L343.01,336.78 L343.46,336.85 L343.91,336.97 L344.33,337.15 L344.72,337.38 L345.06,337.67 L345.35,337.99 L345.59,338.33 L345.81,338.69 L346.02,339.04 L346.22,339.4 L346.42,339.78 L346.58,340.18 L346.66,340.6 L346.63,340.99 L346.48,341.37 L346.21,341.7 L345.84,341.97 L345.43,342.18 L345.01,342.34 L344.63,342.47 L344.31,342.62 L344.05,342.81 L343.83,343.06 L343.6,343.37 L343.33,343.72 L342.99,344.05 L342.58,344.33 L342.1,344.49 L341.67,344.51 L341.26,344.4 L340.89,344.18 L340.57,343.89 L340.3,343.58 L340.06,343.29 L339.81,343.04 L339.53,342.81 L339.22,342.6 L338.89,342.37 L338.58,342.1 L338.33,341.77 L338.19,341.4 L338.17,341Z M337.7,340.6 L337.59,340.11 L337.52,339.58 L337.54,339.06 L337.68,338.55 L337.93,338.09 L338.28,337.71 L338.69,337.4 L339.11,337.15 L339.53,336.92 L339.93,336.69 L340.33,336.45 L340.73,336.21 L341.16,335.99 L341.62,335.84 L342.1,335.79 L342.66,335.86 L343.19,336.03 L343.68,336.27 L344.12,336.54 L344.55,336.81 L345,337.03 L345.5,337.23 L346.06,337.42 L346.67,337.63 L347.3,337.92 L347.87,338.31 L348.31,338.8 L348.57,339.37 L348.59,339.99 L348.4,340.6 L348.04,341.11 L347.6,341.56 L347.16,341.95 L346.77,342.31 L346.45,342.66 L346.16,343.03 L345.88,343.39 L345.54,343.74 L345.15,344.04 L344.68,344.27 L344.16,344.4 L343.63,344.46 L343.1,344.48 L342.6,344.5 L342.1,344.55 L341.66,344.64 L341.18,344.76 L340.65,344.88 L340.08,344.95 L339.51,344.9 L338.98,344.72 L338.53,344.4 L338.21,343.95 L338.03,343.44 L337.95,342.9 L337.93,342.38 L337.93,341.9 L337.9,341.46 L337.82,341.03Z M336.78,340.6 L337.02,340.04 L337.2,339.52 L337.32,338.98 L337.38,338.41 L337.42,337.79 L337.51,337.12 L337.68,336.46 L337.99,335.84 L338.43,335.33 L338.98,334.98 L339.62,334.79 L340.28,334.75 L340.92,334.83 L341.53,334.97 L342.1,335.11 L342.73,335.22 L343.36,335.29 L344.02,335.34 L344.7,335.39 L345.41,335.49 L346.11,335.67 L346.77,335.97 L347.36,336.37 L347.85,336.87 L348.23,337.44 L348.51,338.05 L348.7,338.68 L348.81,339.33 L348.85,339.97 L348.82,340.6 L348.72,341.17 L348.57,341.73 L348.37,342.27 L348.14,342.81 L347.87,343.34 L347.56,343.86 L347.19,344.37 L346.75,344.85 L346.23,345.27 L345.63,345.62 L344.95,345.87 L344.24,346 L343.5,346.03 L342.79,345.95 L342.1,345.81 L341.55,345.62 L341.03,345.44 L340.52,345.27 L339.99,345.14 L339.43,345.03 L338.83,344.91 L338.21,344.74 L337.6,344.48 L337.06,344.11 L336.63,343.62 L336.37,343.05 L336.28,342.41 L336.35,341.77 L336.53,341.16Z M334.68,340.6 L334.64,339.78 L334.82,338.99 L335.23,338.28 L335.82,337.69 L336.5,337.23 L337.18,336.88 L337.79,336.56 L338.29,336.19 L338.7,335.72 L339.07,335.13 L339.48,334.47 L339.99,333.82 L340.61,333.29 L341.33,332.97 L342.1,332.93 L342.98,333.16 L343.77,333.59 L344.45,334.14 L345.04,334.7 L345.61,335.17 L346.22,335.53 L346.94,335.8 L347.77,336.04 L348.69,336.33 L349.61,336.73 L350.43,337.29 L351.04,338.01 L351.36,338.84 L351.34,339.73 L351.03,340.6 L350.53,341.33 L349.95,341.97 L349.42,342.55 L348.97,343.11 L348.61,343.69 L348.27,344.28 L347.89,344.88 L347.4,345.44 L346.79,345.9 L346.07,346.24 L345.27,346.45 L344.46,346.56 L343.65,346.6 L342.87,346.63 L342.1,346.67 L341.43,346.72 L340.73,346.76 L340.01,346.75 L339.3,346.63 L338.62,346.38 L338.01,345.99 L337.5,345.49 L337.09,344.93 L336.73,344.34 L336.4,343.75 L336.05,343.18 L335.66,342.6 L335.27,341.99 L334.92,341.32Z M334.45,340.6 L334.8,339.8 L335.14,339.06 L335.39,338.33 L335.56,337.57 L335.67,336.73 L335.79,335.83 L336.01,334.89 L336.38,333.99 L336.94,333.2 L337.67,332.61 L338.54,332.26 L339.46,332.15 L340.4,332.25 L341.28,332.5 L342.1,332.83 L342.97,333.19 L343.78,333.53 L344.56,333.85 L345.31,334.16 L346.07,334.47 L346.82,334.8 L347.58,335.17 L348.35,335.57 L349.15,336.03 L350,336.53 L350.89,337.11 L351.79,337.79 L352.61,338.6 L353.25,339.55 L353.56,340.6 L353.48,341.58 L353,342.5 L352.21,343.3 L351.23,343.94 L350.21,344.44 L349.23,344.86 L348.36,345.23 L347.6,345.62 L346.93,346.06 L346.29,346.56 L345.62,347.1 L344.87,347.6 L344.01,348 L343.08,348.23 L342.1,348.26 L341.28,348.1 L340.51,347.79 L339.8,347.39 L339.14,346.97 L338.49,346.59 L337.82,346.24 L337.1,345.92 L336.33,345.58 L335.57,345.14 L334.89,344.59 L334.37,343.9 L334.06,343.1 L334,342.25 L334.15,341.4Z M334.03,340.6 L334.19,339.73 L334.33,338.88 L334.44,338.01 L334.55,337.1 L334.69,336.14 L334.91,335.16 L335.24,334.16 L335.72,333.22 L336.36,332.38 L337.16,331.68 L338.07,331.18 L339.07,330.89 L340.1,330.81 L341.12,330.91 L342.1,331.16 L343.17,331.5 L344.17,331.89 L345.12,332.3 L346.04,332.7 L346.95,333.1 L347.87,333.51 L348.79,333.96 L349.71,334.49 L350.58,335.1 L351.38,335.82 L352.07,336.64 L352.6,337.55 L352.93,338.54 L353.03,339.57 L352.89,340.6 L352.57,341.5 L352.15,342.36 L351.72,343.17 L351.31,343.97 L350.95,344.8 L350.57,345.66 L350.13,346.54 L349.56,347.4 L348.8,348.18 L347.87,348.81 L346.79,349.25 L345.61,349.47 L344.4,349.49 L343.22,349.34 L342.1,349.08 L341.2,348.78 L340.35,348.47 L339.53,348.19 L338.7,347.93 L337.85,347.65 L337,347.33 L336.16,346.92 L335.39,346.39 L334.74,345.73 L334.24,344.95 L333.92,344.09 L333.77,343.19 L333.77,342.3 L333.87,341.43Z M331.99,340.6 L331.67,339.46 L331.52,338.26 L331.63,337.06 L332.04,335.93 L332.73,334.97 L333.64,334.2 L334.67,333.63 L335.72,333.22 L336.71,332.87 L337.61,332.5 L338.45,332.06 L339.27,331.54 L340.14,330.98 L341.08,330.47 L342.1,330.11 L343.35,329.99 L344.59,330.14 L345.76,330.54 L346.82,331.14 L347.76,331.85 L348.61,332.6 L349.44,333.32 L350.3,334 L351.23,334.68 L352.22,335.38 L353.23,336.18 L354.17,337.1 L354.92,338.17 L355.35,339.36 L355.4,340.6 L355.1,341.72 L354.56,342.78 L353.91,343.75 L353.24,344.68 L352.61,345.58 L351.97,346.49 L351.26,347.37 L350.41,348.18 L349.39,348.84 L348.22,349.3 L346.94,349.54 L345.65,349.57 L344.39,349.46 L343.21,349.29 L342.1,349.14 L341.17,349.06 L340.23,349.05 L339.23,349.06 L338.19,349.02 L337.14,348.84 L336.14,348.46 L335.26,347.88 L334.55,347.11 L334.03,346.22 L333.66,345.27 L333.37,344.32 L333.09,343.41 L332.77,342.5 L332.39,341.58Z M331.33,340.6 L331.88,339.48 L332.35,338.44 L332.69,337.42 L332.93,336.34 L333.12,335.2 L333.36,333.99 L333.75,332.77 L334.33,331.61 L335.12,330.59 L336.11,329.79 L337.24,329.23 L338.46,328.92 L339.7,328.83 L340.92,328.94 L342.1,329.21 L343.39,329.61 L344.6,330.12 L345.7,330.7 L346.72,331.34 L347.66,331.99 L348.58,332.64 L349.52,333.25 L350.54,333.82 L351.7,334.37 L353.04,334.96 L354.53,335.66 L356.07,336.55 L357.48,337.68 L358.5,339.06 L358.93,340.6 L358.66,342.03 L357.79,343.34 L356.51,344.45 L355.08,345.35 L353.7,346.1 L352.46,346.78 L351.38,347.46 L350.41,348.18 L349.46,348.92 L348.45,349.63 L347.32,350.23 L346.07,350.64 L344.74,350.81 L343.39,350.71 L342.1,350.4 L341.07,349.97 L340.12,349.52 L339.2,349.14 L338.25,348.89 L337.19,348.74 L336.01,348.64 L334.72,348.46 L333.4,348.11 L332.18,347.51 L331.2,346.63 L330.56,345.53 L330.3,344.27 L330.41,342.98 L330.79,341.74Z M329.47,340.6 L329.46,339.22 L329.72,337.86 L330.22,336.58 L330.91,335.41 L331.7,334.35 L332.54,333.37 L333.39,332.44 L334.27,331.54 L335.18,330.68 L336.16,329.89 L337.24,329.23 L338.41,328.75 L339.63,328.5 L340.88,328.47 L342.1,328.61 L343.48,328.88 L344.82,329.19 L346.14,329.5 L347.49,329.8 L348.89,330.1 L350.35,330.46 L351.83,330.96 L353.26,331.63 L354.6,332.49 L355.77,333.55 L356.76,334.77 L357.52,336.13 L358.02,337.58 L358.23,339.09 L358.15,340.6 L357.8,341.96 L357.25,343.24 L356.53,344.45 L355.7,345.58 L354.77,346.61 L353.74,347.54 L352.59,348.36 L351.34,349.03 L350.03,349.57 L348.71,350 L347.41,350.39 L346.13,350.78 L344.84,351.19 L343.51,351.62 L342.1,352.02 L340.82,352.3 L339.49,352.38 L338.16,352.21 L336.92,351.75 L335.81,351.04 L334.87,350.14 L334.08,349.13 L333.41,348.1 L332.79,347.08 L332.17,346.1 L331.52,345.12 L330.85,344.1 L330.24,343.02 L329.75,341.84Z" fill="none" stroke="#44cc44" stroke-width="0.55" stroke-opacity="0.55"/>
<path d="M339.13,364.6 L339.26,362.96 L339.56,361.4 L340,359.97 L340.55,358.71 L341.13,357.6 L341.72,356.59 L342.27,355.61 L342.8,354.6 L343.3,353.51 L343.83,352.36 L344.42,351.19 L345.09,350.09 L345.85,349.18 L346.7,348.55 L347.6,348.28 L348.6,348.4 L349.56,348.87 L350.45,349.64 L351.25,350.62 L351.97,351.71 L352.61,352.85 L353.21,353.99 L353.78,355.12 L354.34,356.25 L354.89,357.43 L355.41,358.67 L355.88,360.01 L356.28,361.46 L356.57,362.99 L356.74,364.6 L356.76,366.19 L356.64,367.77 L356.37,369.3 L355.96,370.73 L355.43,372.05 L354.8,373.22 L354.09,374.23 L353.33,375.09 L352.55,375.84 L351.76,376.48 L350.97,377.07 L350.17,377.61 L349.34,378.11 L348.49,378.54 L347.6,378.86 L346.76,379.02 L345.91,378.98 L345.07,378.7 L344.27,378.18 L343.51,377.44 L342.82,376.52 L342.2,375.48 L341.62,374.35 L341.09,373.17 L340.59,371.94 L340.12,370.63 L339.71,369.25 L339.38,367.77 L339.18,366.2Z" fill="#e41e1e" fill-opacity="0.18" stroke="none"/>
<path d="M345.54,364.6 L345.57,364.2 L345.62,363.81 L345.68,363.43 L345.74,363.05 L345.81,362.66 L345.89,362.28 L346,361.9 L346.15,361.57 L346.32,361.3 L346.52,361.11 L346.75,361 L346.97,360.98 L347.19,361 L347.4,361.05 L347.6,361.08 L347.82,361.07 L348.04,361.04 L348.29,361 L348.54,360.98 L348.81,361.03 L349.06,361.17 L349.28,361.42 L349.45,361.77 L349.55,362.18 L349.6,362.63 L349.61,363.08 L349.59,363.5 L349.58,363.88 L349.59,364.24 L349.62,364.6 L349.67,364.96 L349.72,365.34 L349.75,365.75 L349.74,366.17 L349.68,366.57 L349.56,366.94 L349.39,367.26 L349.19,367.52 L348.98,367.72 L348.75,367.88 L348.53,368.02 L348.3,368.15 L348.07,368.25 L347.84,368.33 L347.6,368.37 L347.38,368.35 L347.17,368.28 L346.97,368.14 L346.78,367.96 L346.6,367.74 L346.43,367.51 L346.28,367.26 L346.12,367.01 L345.98,366.74 L345.84,366.45 L345.71,366.12 L345.62,365.77 L345.56,365.39 L345.53,364.99Z M345.06,364.6 L345.16,364.12 L345.27,363.67 L345.38,363.25 L345.49,362.83 L345.58,362.41 L345.67,361.98 L345.78,361.53 L345.91,361.08 L346.07,360.66 L346.28,360.3 L346.51,360.02 L346.77,359.84 L347.05,359.75 L347.33,359.76 L347.6,359.83 L347.89,359.94 L348.16,360.1 L348.43,360.27 L348.68,360.46 L348.93,360.67 L349.17,360.91 L349.41,361.18 L349.63,361.49 L349.83,361.84 L350.01,362.23 L350.17,362.65 L350.3,363.1 L350.4,363.59 L350.45,364.09 L350.46,364.6 L350.43,365.09 L350.35,365.56 L350.24,366.01 L350.09,366.42 L349.92,366.8 L349.74,367.16 L349.55,367.5 L349.37,367.83 L349.17,368.16 L348.96,368.49 L348.73,368.8 L348.48,369.06 L348.2,369.25 L347.9,369.35 L347.6,369.35 L347.33,369.25 L347.07,369.08 L346.84,368.85 L346.62,368.61 L346.4,368.36 L346.19,368.12 L345.97,367.88 L345.75,367.62 L345.53,367.33 L345.33,366.98 L345.16,366.57 L345.05,366.1 L344.99,365.6 L345,365.1Z M344.78,364.6 L344.7,364.03 L344.65,363.42 L344.63,362.79 L344.67,362.16 L344.79,361.56 L344.98,361.03 L345.23,360.59 L345.52,360.26 L345.83,360.02 L346.14,359.86 L346.44,359.73 L346.73,359.61 L347.02,359.49 L347.31,359.37 L347.6,359.27 L347.93,359.21 L348.27,359.22 L348.61,359.32 L348.93,359.52 L349.23,359.79 L349.5,360.14 L349.75,360.53 L349.98,360.95 L350.19,361.39 L350.4,361.85 L350.59,362.33 L350.75,362.85 L350.89,363.41 L350.98,363.99 L351.03,364.6 L351.01,365.19 L350.95,365.77 L350.83,366.33 L350.67,366.85 L350.48,367.34 L350.26,367.79 L350.02,368.19 L349.76,368.55 L349.48,368.86 L349.18,369.12 L348.88,369.32 L348.56,369.48 L348.24,369.6 L347.92,369.69 L347.6,369.76 L347.3,369.81 L346.99,369.83 L346.67,369.8 L346.35,369.7 L346.03,369.52 L345.75,369.23 L345.5,368.83 L345.3,368.36 L345.16,367.82 L345.06,367.26 L345,366.7 L344.96,366.16 L344.91,365.64 L344.85,365.12Z M344.16,364.6 L344.16,363.92 L344.19,363.24 L344.25,362.56 L344.34,361.88 L344.47,361.21 L344.66,360.6 L344.91,360.06 L345.21,359.62 L345.55,359.3 L345.9,359.08 L346.26,358.95 L346.61,358.86 L346.94,358.78 L347.27,358.68 L347.6,358.57 L347.98,358.45 L348.38,358.37 L348.79,358.37 L349.2,358.49 L349.58,358.75 L349.93,359.14 L350.22,359.65 L350.45,360.22 L350.64,360.83 L350.81,361.44 L350.95,362.06 L351.09,362.66 L351.23,363.29 L351.34,363.93 L351.42,364.6 L351.43,365.26 L351.38,365.92 L351.25,366.55 L351.06,367.14 L350.82,367.66 L350.56,368.15 L350.29,368.6 L350.03,369.04 L349.76,369.49 L349.47,369.94 L349.16,370.37 L348.81,370.74 L348.43,371.02 L348.02,371.17 L347.6,371.18 L347.23,371.04 L346.87,370.79 L346.55,370.46 L346.25,370.1 L345.97,369.72 L345.7,369.34 L345.43,368.97 L345.17,368.57 L344.92,368.14 L344.69,367.65 L344.49,367.11 L344.34,366.52 L344.24,365.89 L344.18,365.25Z M343.59,364.6 L343.59,363.81 L343.64,363.02 L343.74,362.25 L343.9,361.51 L344.11,360.82 L344.36,360.18 L344.64,359.61 L344.96,359.1 L345.3,358.67 L345.66,358.31 L346.04,358.01 L346.42,357.78 L346.81,357.62 L347.2,357.53 L347.6,357.51 L348.03,357.56 L348.46,357.69 L348.88,357.9 L349.28,358.18 L349.66,358.52 L350.02,358.92 L350.36,359.38 L350.67,359.89 L350.96,360.44 L351.23,361.03 L351.47,361.66 L351.68,362.34 L351.86,363.06 L351.99,363.81 L352.07,364.6 L352.09,365.38 L352.04,366.16 L351.93,366.92 L351.75,367.64 L351.51,368.32 L351.21,368.92 L350.87,369.45 L350.5,369.9 L350.11,370.28 L349.7,370.59 L349.29,370.84 L348.87,371.04 L348.45,371.19 L348.03,371.29 L347.6,371.34 L347.21,371.33 L346.82,371.25 L346.43,371.1 L346.06,370.88 L345.7,370.57 L345.36,370.2 L345.04,369.76 L344.75,369.26 L344.48,368.7 L344.25,368.11 L344.05,367.47 L343.87,366.79 L343.74,366.09 L343.64,365.35Z M343.32,364.6 L343.31,363.75 L343.37,362.92 L343.51,362.11 L343.72,361.36 L343.96,360.66 L344.22,360 L344.5,359.36 L344.78,358.73 L345.09,358.11 L345.42,357.51 L345.79,356.96 L346.2,356.52 L346.65,356.21 L347.12,356.08 L347.6,356.12 L348.11,356.3 L348.6,356.59 L349.06,356.93 L349.5,357.31 L349.94,357.7 L350.37,358.11 L350.79,358.55 L351.2,359.07 L351.57,359.68 L351.88,360.38 L352.12,361.17 L352.26,362.02 L352.33,362.89 L352.32,363.75 L352.27,364.6 L352.19,365.4 L352.1,366.17 L351.98,366.95 L351.84,367.71 L351.65,368.45 L351.41,369.16 L351.11,369.8 L350.75,370.37 L350.35,370.83 L349.92,371.22 L349.48,371.55 L349.03,371.84 L348.57,372.11 L348.1,372.37 L347.6,372.61 L347.13,372.77 L346.64,372.82 L346.15,372.71 L345.68,372.42 L345.26,371.96 L344.89,371.35 L344.6,370.64 L344.36,369.89 L344.17,369.12 L344,368.37 L343.83,367.64 L343.67,366.91 L343.52,366.17 L343.39,365.4Z M342.67,364.6 L342.73,363.64 L342.87,362.71 L343.07,361.84 L343.31,361.02 L343.59,360.25 L343.88,359.53 L344.18,358.83 L344.52,358.18 L344.88,357.57 L345.27,357.02 L345.69,356.56 L346.14,356.19 L346.61,355.91 L347.1,355.71 L347.6,355.6 L348.16,355.57 L348.72,355.62 L349.28,355.78 L349.83,356.05 L350.36,356.45 L350.85,356.98 L351.28,357.64 L351.65,358.38 L351.97,359.19 L352.23,360.04 L352.46,360.91 L352.66,361.79 L352.84,362.7 L352.97,363.64 L353.04,364.6 L353.02,365.54 L352.9,366.46 L352.68,367.32 L352.35,368.08 L351.95,368.74 L351.51,369.28 L351.08,369.76 L350.67,370.21 L350.29,370.7 L349.94,371.27 L349.58,371.93 L349.19,372.64 L348.73,373.33 L348.19,373.91 L347.6,374.3 L347.03,374.42 L346.47,374.26 L345.95,373.83 L345.49,373.2 L345.1,372.44 L344.78,371.65 L344.49,370.87 L344.21,370.13 L343.93,369.44 L343.63,368.75 L343.34,368.04 L343.07,367.27 L342.85,366.43 L342.71,365.53Z M342.56,364.6 L342.69,363.63 L342.84,362.7 L342.98,361.78 L343.12,360.86 L343.28,359.93 L343.47,358.98 L343.71,358.04 L344.02,357.14 L344.39,356.33 L344.84,355.63 L345.34,355.1 L345.89,354.75 L346.47,354.59 L347.04,354.6 L347.6,354.76 L348.19,355.02 L348.75,355.35 L349.29,355.72 L349.82,356.1 L350.34,356.51 L350.86,356.95 L351.38,357.45 L351.88,358.04 L352.34,358.73 L352.75,359.54 L353.08,360.44 L353.32,361.43 L353.47,362.47 L353.53,363.54 L353.52,364.6 L353.45,365.61 L353.33,366.61 L353.16,367.58 L352.96,368.53 L352.7,369.45 L352.38,370.32 L351.99,371.12 L351.54,371.81 L351.03,372.38 L350.47,372.8 L349.89,373.07 L349.3,373.23 L348.72,373.29 L348.16,373.3 L347.6,373.3 L347.1,373.3 L346.58,373.3 L346.04,373.29 L345.48,373.22 L344.91,373.06 L344.34,372.75 L343.79,372.26 L343.31,371.6 L342.91,370.77 L342.62,369.82 L342.43,368.77 L342.35,367.69 L342.36,366.62 L342.44,365.58Z M342.35,364.6 L342.38,363.57 L342.4,362.53 L342.43,361.45 L342.51,360.35 L342.66,359.25 L342.9,358.2 L343.24,357.24 L343.66,356.39 L344.14,355.67 L344.66,355.04 L345.2,354.5 L345.77,354.03 L346.36,353.63 L346.97,353.34 L347.6,353.18 L348.3,353.22 L348.99,353.48 L349.63,353.95 L350.21,354.62 L350.71,355.42 L351.15,356.28 L351.53,357.16 L351.89,358.02 L352.24,358.85 L352.6,359.68 L352.95,360.54 L353.28,361.46 L353.54,362.45 L353.73,363.5 L353.82,364.6 L353.81,365.68 L353.72,366.74 L353.57,367.8 L353.37,368.84 L353.14,369.87 L352.87,370.91 L352.54,371.93 L352.13,372.89 L351.62,373.73 L351.03,374.38 L350.35,374.79 L349.64,374.94 L348.93,374.87 L348.24,374.64 L347.6,374.34 L347.05,374.04 L346.52,373.81 L345.98,373.66 L345.4,373.55 L344.79,373.41 L344.17,373.15 L343.58,372.7 L343.05,372.03 L342.64,371.14 L342.36,370.08 L342.22,368.94 L342.19,367.79 L342.23,366.67 L342.3,365.61Z M341.23,364.6 L341.17,363.33 L341.23,362.06 L341.4,360.83 L341.69,359.67 L342.08,358.62 L342.53,357.7 L343.03,356.89 L343.55,356.17 L344.08,355.52 L344.62,354.91 L345.16,354.34 L345.73,353.8 L346.32,353.33 L346.95,352.98 L347.6,352.77 L348.33,352.76 L349.05,352.95 L349.75,353.34 L350.39,353.91 L350.98,354.63 L351.5,355.44 L351.98,356.31 L352.42,357.21 L352.83,358.13 L353.22,359.07 L353.59,360.05 L353.93,361.09 L354.23,362.2 L354.45,363.37 L354.58,364.6 L354.61,365.81 L354.52,367.02 L354.31,368.19 L354.01,369.3 L353.61,370.32 L353.15,371.24 L352.64,372.08 L352.09,372.82 L351.52,373.5 L350.93,374.11 L350.32,374.66 L349.68,375.14 L349.01,375.54 L348.32,375.82 L347.6,375.97 L346.94,375.97 L346.29,375.78 L345.66,375.42 L345.07,374.9 L344.53,374.24 L344.04,373.47 L343.61,372.63 L343.22,371.75 L342.86,370.84 L342.52,369.91 L342.2,368.96 L341.89,367.96 L341.61,366.91 L341.38,365.78Z M341.18,364.6 L341.18,363.34 L341.21,362.05 L341.3,360.76 L341.46,359.47 L341.72,358.23 L342.09,357.09 L342.55,356.08 L343.1,355.23 L343.69,354.52 L344.32,353.94 L344.95,353.46 L345.6,353.04 L346.25,352.68 L346.92,352.39 L347.6,352.2 L348.37,352.16 L349.14,352.29 L349.88,352.61 L350.6,353.13 L351.26,353.8 L351.86,354.6 L352.42,355.48 L352.93,356.41 L353.42,357.39 L353.87,358.43 L354.28,359.53 L354.62,360.71 L354.87,361.97 L355,363.27 L355.02,364.6 L354.92,365.87 L354.72,367.09 L354.44,368.26 L354.12,369.38 L353.77,370.47 L353.39,371.53 L352.97,372.57 L352.5,373.57 L351.96,374.49 L351.34,375.28 L350.65,375.89 L349.91,376.3 L349.13,376.49 L348.36,376.49 L347.6,376.37 L346.93,376.16 L346.27,375.91 L345.62,375.63 L344.97,375.33 L344.3,374.94 L343.65,374.44 L343.04,373.78 L342.49,372.94 L342.04,371.92 L341.69,370.78 L341.46,369.56 L341.31,368.3 L341.24,367.05 L341.2,365.82Z M340.55,364.6 L340.57,363.21 L340.67,361.84 L340.87,360.5 L341.14,359.21 L341.49,357.99 L341.91,356.85 L342.38,355.79 L342.89,354.8 L343.45,353.89 L344.05,353.06 L344.69,352.33 L345.37,351.74 L346.09,351.3 L346.84,351.05 L347.6,351.01 L348.43,351.17 L349.23,351.52 L350,352.02 L350.73,352.63 L351.41,353.34 L352.07,354.12 L352.69,354.96 L353.28,355.88 L353.82,356.89 L354.3,358 L354.71,359.21 L355.01,360.49 L355.22,361.84 L355.33,363.21 L355.36,364.6 L355.3,365.93 L355.19,367.26 L355.01,368.57 L354.77,369.86 L354.46,371.13 L354.07,372.34 L353.57,373.46 L352.99,374.46 L352.31,375.29 L351.57,375.94 L350.79,376.4 L349.99,376.71 L349.19,376.89 L348.39,376.98 L347.6,376.99 L346.88,376.95 L346.16,376.85 L345.44,376.64 L344.72,376.31 L344.02,375.82 L343.37,375.16 L342.77,374.33 L342.24,373.35 L341.79,372.25 L341.42,371.06 L341.13,369.82 L340.89,368.55 L340.72,367.25 L340.6,365.93Z M340.11,364.6 L340.15,363.13 L340.24,361.67 L340.41,360.22 L340.67,358.81 L341.03,357.48 L341.49,356.27 L342.03,355.2 L342.64,354.27 L343.29,353.47 L343.95,352.75 L344.63,352.09 L345.32,351.45 L346.04,350.85 L346.8,350.34 L347.6,349.99 L348.51,349.89 L349.41,350.1 L350.26,350.63 L351.04,351.45 L351.71,352.48 L352.28,353.62 L352.79,354.77 L353.29,355.87 L353.81,356.9 L354.4,357.91 L355.02,358.97 L355.65,360.14 L356.22,361.48 L356.63,362.98 L356.82,364.6 L356.75,366.18 L356.43,367.69 L355.91,369.05 L355.25,370.21 L354.55,371.21 L353.85,372.09 L353.21,372.92 L352.62,373.79 L352.06,374.72 L351.48,375.69 L350.85,376.64 L350.14,377.49 L349.35,378.15 L348.49,378.56 L347.6,378.7 L346.79,378.58 L346,378.25 L345.24,377.76 L344.51,377.16 L343.82,376.48 L343.14,375.72 L342.5,374.86 L341.91,373.88 L341.39,372.77 L340.96,371.55 L340.62,370.24 L340.37,368.86 L340.22,367.44 L340.14,366.02Z M339.13,364.6 L339.26,362.96 L339.56,361.4 L340,359.97 L340.55,358.71 L341.13,357.6 L341.72,356.59 L342.27,355.61 L342.8,354.6 L343.3,353.51 L343.83,352.36 L344.42,351.19 L345.09,350.09 L345.85,349.18 L346.7,348.55 L347.6,348.28 L348.6,348.4 L349.56,348.87 L350.45,349.64 L351.25,350.62 L351.97,351.71 L352.61,352.85 L353.21,353.99 L353.78,355.12 L354.34,356.25 L354.89,357.43 L355.41,358.67 L355.88,360.01 L356.28,361.46 L356.57,362.99 L356.74,364.6 L356.76,366.19 L356.64,367.77 L356.37,369.3 L355.96,370.73 L355.43,372.05 L354.8,373.22 L354.09,374.23 L353.33,375.09 L352.55,375.84 L351.76,376.48 L350.97,377.07 L350.17,377.61 L349.34,378.11 L348.49,378.54 L347.6,378.86 L346.76,379.02 L345.91,378.98 L345.07,378.7 L344.27,378.18 L343.51,377.44 L342.82,376.52 L342.2,375.48 L341.62,374.35 L341.09,373.17 L340.59,371.94 L340.12,370.63 L339.71,369.25 L339.38,367.77 L339.18,366.2Z" fill="none" stroke="#e41e1e" stroke-width="0.75" stroke-opacity="0.85"/>
<ellipse cx="341.1" cy="367.1" rx="8.07" ry="10.2" fill="#fff" fill-opacity="0.55"/>
<path d="M330.08,367.1 L330.29,365.74 L330.72,364.45 L331.31,363.28 L332,362.24 L332.73,361.3 L333.47,360.45 L334.2,359.64 L334.93,358.87 L335.68,358.14 L336.47,357.48 L337.32,356.9 L338.22,356.45 L339.15,356.11 L340.12,355.89 L341.1,355.75 L342.05,355.65 L343.04,355.6 L344.06,355.59 L345.13,355.68 L346.21,355.92 L347.26,356.38 L348.23,357.1 L349.02,358.09 L349.61,359.29 L349.95,360.64 L350.08,362.05 L350.04,363.43 L349.92,364.73 L349.8,365.94 L349.74,367.1 L349.75,368.2 L349.81,369.34 L349.85,370.54 L349.81,371.8 L349.61,373.05 L349.21,374.23 L348.6,375.27 L347.81,376.12 L346.89,376.74 L345.91,377.18 L344.91,377.46 L343.93,377.65 L342.98,377.8 L342.04,377.91 L341.1,378 L340.1,378.01 L339.1,377.92 L338.11,377.7 L337.14,377.33 L336.22,376.82 L335.35,376.2 L334.52,375.5 L333.73,374.73 L332.95,373.91 L332.19,373.02 L331.48,372.03 L330.86,370.93 L330.39,369.72 L330.12,368.43Z" fill="#1a1acc" fill-opacity="0.12" stroke="none"/>
<path d="M338.99,367.1 L338.96,366.83 L338.99,366.56 L339.07,366.31 L339.18,366.07 L339.32,365.87 L339.48,365.69 L339.63,365.52 L339.78,365.35 L339.93,365.17 L340.09,365 L340.26,364.84 L340.45,364.7 L340.66,364.6 L340.88,364.54 L341.1,364.55 L341.31,364.59 L341.51,364.67 L341.7,364.78 L341.88,364.89 L342.06,365 L342.24,365.12 L342.41,365.26 L342.58,365.41 L342.73,365.6 L342.86,365.82 L342.95,366.06 L343.01,366.32 L343.03,366.58 L343.04,366.84 L343.03,367.1 L343.01,367.34 L342.99,367.59 L342.96,367.83 L342.91,368.08 L342.84,368.31 L342.73,368.53 L342.58,368.72 L342.41,368.87 L342.23,368.97 L342.03,369.05 L341.84,369.12 L341.66,369.18 L341.48,369.26 L341.3,369.35 L341.1,369.45 L340.88,369.53 L340.64,369.58 L340.4,369.57 L340.17,369.49 L339.97,369.35 L339.8,369.15 L339.68,368.92 L339.58,368.68 L339.5,368.44 L339.43,368.21 L339.34,368 L339.25,367.79 L339.15,367.58 L339.06,367.35Z M338.47,367.1 L338.53,366.78 L338.61,366.47 L338.69,366.16 L338.75,365.85 L338.83,365.52 L338.92,365.2 L339.04,364.88 L339.22,364.59 L339.44,364.36 L339.7,364.2 L339.99,364.12 L340.29,364.09 L340.57,364.1 L340.84,364.13 L341.1,364.14 L341.35,364.13 L341.6,364.12 L341.87,364.11 L342.14,364.15 L342.41,364.24 L342.64,364.41 L342.84,364.66 L342.99,364.95 L343.09,365.27 L343.17,365.59 L343.23,365.9 L343.3,366.2 L343.39,366.49 L343.49,366.78 L343.59,367.1 L343.67,367.43 L343.7,367.77 L343.66,368.11 L343.55,368.42 L343.38,368.69 L343.17,368.92 L342.94,369.1 L342.71,369.26 L342.5,369.42 L342.29,369.6 L342.09,369.79 L341.87,369.98 L341.64,370.15 L341.38,370.27 L341.1,370.32 L340.81,370.29 L340.53,370.18 L340.28,370 L340.06,369.8 L339.85,369.59 L339.66,369.38 L339.46,369.2 L339.25,369.02 L339.03,368.83 L338.83,368.61 L338.65,368.36 L338.51,368.07 L338.44,367.75 L338.43,367.42Z M337.81,367.1 L337.82,366.69 L337.91,366.29 L338.07,365.92 L338.28,365.59 L338.51,365.3 L338.73,365.04 L338.94,364.77 L339.14,364.48 L339.33,364.17 L339.54,363.85 L339.78,363.54 L340.07,363.28 L340.39,363.1 L340.74,363.02 L341.1,363.04 L341.43,363.14 L341.74,363.29 L342.03,363.47 L342.32,363.64 L342.61,363.81 L342.9,363.98 L343.19,364.17 L343.47,364.4 L343.72,364.7 L343.91,365.05 L344.02,365.46 L344.07,365.88 L344.05,366.31 L343.99,366.72 L343.92,367.1 L343.87,367.45 L343.83,367.8 L343.81,368.16 L343.77,368.54 L343.71,368.93 L343.6,369.3 L343.42,369.63 L343.19,369.91 L342.91,370.11 L342.61,370.26 L342.3,370.35 L341.99,370.43 L341.7,370.51 L341.41,370.61 L341.1,370.73 L340.76,370.83 L340.4,370.89 L340.03,370.88 L339.68,370.77 L339.36,370.57 L339.09,370.28 L338.88,369.94 L338.71,369.58 L338.57,369.22 L338.43,368.87 L338.29,368.54 L338.14,368.2 L338,367.86 L337.88,367.49Z M337.14,367.1 L337.19,366.61 L337.32,366.14 L337.53,365.71 L337.78,365.33 L338.05,364.99 L338.32,364.68 L338.58,364.37 L338.82,364.06 L339.06,363.73 L339.31,363.39 L339.6,363.06 L339.93,362.77 L340.29,362.54 L340.69,362.39 L341.1,362.32 L341.5,362.34 L341.89,362.42 L342.27,362.55 L342.65,362.72 L343.01,362.92 L343.36,363.18 L343.68,363.49 L343.95,363.86 L344.17,364.28 L344.31,364.76 L344.38,365.26 L344.37,365.76 L344.32,366.23 L344.25,366.68 L344.19,367.1 L344.16,367.49 L344.15,367.88 L344.16,368.3 L344.17,368.75 L344.14,369.22 L344.06,369.7 L343.9,370.15 L343.66,370.55 L343.36,370.87 L343.01,371.11 L342.64,371.28 L342.25,371.39 L341.87,371.46 L341.48,371.49 L341.1,371.5 L340.7,371.47 L340.31,371.4 L339.92,371.28 L339.55,371.09 L339.22,370.85 L338.91,370.56 L338.64,370.25 L338.38,369.91 L338.15,369.57 L337.91,369.22 L337.69,368.85 L337.48,368.45 L337.3,368.03 L337.18,367.57Z M336.98,367.1 L336.95,366.58 L336.92,366.03 L336.91,365.47 L336.97,364.89 L337.12,364.34 L337.37,363.85 L337.73,363.45 L338.15,363.16 L338.6,362.97 L339.05,362.83 L339.47,362.72 L339.88,362.58 L340.27,362.4 L340.67,362.18 L341.1,361.96 L341.54,361.79 L342.01,361.71 L342.47,361.77 L342.91,361.98 L343.29,362.32 L343.6,362.75 L343.85,363.24 L344.07,363.73 L344.26,364.2 L344.47,364.65 L344.68,365.09 L344.9,365.54 L345.1,366.03 L345.26,366.55 L345.33,367.1 L345.32,367.64 L345.22,368.16 L345.06,368.66 L344.84,369.12 L344.61,369.55 L344.36,369.97 L344.12,370.39 L343.85,370.8 L343.56,371.2 L343.22,371.55 L342.84,371.83 L342.42,372.01 L341.97,372.08 L341.53,372.04 L341.1,371.94 L340.67,371.8 L340.26,371.66 L339.85,371.54 L339.42,371.43 L338.98,371.33 L338.53,371.18 L338.08,370.95 L337.69,370.63 L337.37,370.22 L337.15,369.72 L337.02,369.19 L336.98,368.64 L336.98,368.11 L336.99,367.6Z M335.73,367.1 L335.68,366.42 L335.78,365.74 L336.04,365.13 L336.43,364.61 L336.9,364.19 L337.39,363.87 L337.86,363.6 L338.26,363.32 L338.61,362.99 L338.93,362.58 L339.25,362.11 L339.61,361.61 L340.05,361.17 L340.55,360.85 L341.1,360.71 L341.63,360.77 L342.13,361 L342.58,361.35 L342.98,361.76 L343.35,362.17 L343.72,362.55 L344.1,362.89 L344.51,363.22 L344.92,363.59 L345.31,364.03 L345.62,364.56 L345.82,365.16 L345.89,365.81 L345.84,366.47 L345.69,367.1 L345.5,367.66 L345.31,368.18 L345.14,368.69 L345.01,369.21 L344.91,369.76 L344.79,370.35 L344.62,370.94 L344.37,371.5 L344.03,371.97 L343.6,372.33 L343.11,372.56 L342.59,372.66 L342.08,372.66 L341.58,372.62 L341.1,372.55 L340.61,372.48 L340.12,372.41 L339.63,372.31 L339.14,372.16 L338.67,371.93 L338.25,371.62 L337.87,371.23 L337.55,370.78 L337.26,370.31 L336.99,369.83 L336.72,369.34 L336.44,368.84 L336.16,368.31 L335.91,367.73Z M335.51,367.1 L335.54,366.4 L335.64,365.71 L335.79,365.03 L335.96,364.35 L336.16,363.67 L336.39,363 L336.69,362.34 L337.08,361.74 L337.56,361.25 L338.12,360.9 L338.73,360.71 L339.36,360.66 L339.97,360.72 L340.55,360.82 L341.1,360.92 L341.61,360.98 L342.13,361 L342.66,361.03 L343.21,361.11 L343.75,361.31 L344.24,361.64 L344.64,362.13 L344.94,362.73 L345.14,363.39 L345.26,364.06 L345.36,364.71 L345.47,365.31 L345.64,365.88 L345.86,366.47 L346.1,367.1 L346.33,367.76 L346.46,368.48 L346.46,369.21 L346.29,369.9 L345.97,370.5 L345.53,371 L345.04,371.39 L344.54,371.72 L344.06,372.03 L343.62,372.38 L343.19,372.79 L342.75,373.24 L342.25,373.67 L341.7,374.02 L341.1,374.19 L340.46,374.15 L339.85,373.88 L339.32,373.41 L338.89,372.81 L338.55,372.18 L338.27,371.57 L338.01,371.05 L337.71,370.61 L337.36,370.23 L336.95,369.86 L336.52,369.44 L336.12,368.96 L335.8,368.39 L335.6,367.77Z M335.17,367.1 L335.18,366.35 L335.25,365.61 L335.38,364.87 L335.56,364.14 L335.79,363.42 L336.08,362.73 L336.43,362.06 L336.85,361.44 L337.34,360.89 L337.9,360.44 L338.52,360.13 L339.17,359.98 L339.84,359.99 L340.49,360.13 L341.1,360.37 L341.64,360.65 L342.14,360.92 L342.63,361.14 L343.14,361.31 L343.68,361.45 L344.26,361.6 L344.87,361.81 L345.47,362.13 L346.02,362.59 L346.48,363.18 L346.82,363.88 L347.04,364.66 L347.14,365.48 L347.15,366.3 L347.1,367.1 L347.01,367.85 L346.89,368.59 L346.74,369.32 L346.55,370.04 L346.28,370.72 L345.92,371.34 L345.48,371.87 L344.96,372.29 L344.39,372.58 L343.8,372.77 L343.23,372.88 L342.68,372.97 L342.15,373.07 L341.63,373.22 L341.1,373.39 L340.51,373.58 L339.87,373.73 L339.21,373.79 L338.54,373.72 L337.88,373.5 L337.29,373.13 L336.78,372.62 L336.36,372.01 L336.02,371.34 L335.77,370.64 L335.57,369.93 L335.41,369.23 L335.29,368.52 L335.21,367.81Z M334.34,367.1 L334.37,366.25 L334.48,365.41 L334.68,364.6 L334.97,363.82 L335.33,363.1 L335.75,362.43 L336.21,361.82 L336.71,361.24 L337.23,360.71 L337.78,360.21 L338.38,359.76 L339.01,359.39 L339.69,359.14 L340.39,359.04 L341.1,359.11 L341.75,359.34 L342.34,359.71 L342.89,360.16 L343.38,360.64 L343.85,361.09 L344.32,361.5 L344.83,361.86 L345.4,362.21 L346.01,362.59 L346.63,363.06 L347.22,363.66 L347.71,364.39 L348.05,365.23 L348.21,366.16 L348.19,367.1 L348,367.98 L347.69,368.79 L347.3,369.54 L346.88,370.22 L346.46,370.84 L346.04,371.44 L345.61,372.02 L345.17,372.57 L344.68,373.07 L344.15,373.5 L343.58,373.84 L342.97,374.07 L342.35,374.2 L341.72,374.25 L341.1,374.24 L340.45,374.19 L339.8,374.11 L339.15,374 L338.49,373.84 L337.83,373.61 L337.19,373.29 L336.58,372.87 L336.04,372.34 L335.57,371.72 L335.19,371.02 L334.88,370.28 L334.65,369.51 L334.49,368.72 L334.38,367.91Z M334.27,367.1 L334.18,366.23 L334.21,365.34 L334.37,364.47 L334.65,363.65 L335.02,362.89 L335.45,362.17 L335.91,361.49 L336.4,360.84 L336.92,360.2 L337.5,359.61 L338.13,359.09 L338.82,358.68 L339.56,358.43 L340.33,358.34 L341.1,358.4 L341.81,358.57 L342.49,358.81 L343.17,359.07 L343.84,359.32 L344.53,359.59 L345.24,359.9 L345.95,360.3 L346.6,360.85 L347.14,361.56 L347.53,362.41 L347.73,363.37 L347.76,364.37 L347.66,365.34 L347.48,366.25 L347.29,367.1 L347.14,367.87 L347.06,368.63 L347.02,369.43 L346.98,370.27 L346.87,371.13 L346.65,371.98 L346.27,372.74 L345.76,373.36 L345.14,373.82 L344.45,374.13 L343.76,374.34 L343.09,374.5 L342.43,374.69 L341.78,374.94 L341.1,375.24 L340.33,375.54 L339.5,375.76 L338.64,375.82 L337.79,375.65 L337.02,375.22 L336.38,374.57 L335.9,373.74 L335.57,372.83 L335.35,371.9 L335.19,371.02 L335.04,370.2 L334.87,369.43 L334.66,368.67 L334.45,367.9Z M333.06,367.1 L333.02,366.08 L333.16,365.08 L333.46,364.12 L333.89,363.25 L334.38,362.45 L334.91,361.7 L335.45,360.99 L336,360.3 L336.57,359.62 L337.2,358.99 L337.89,358.44 L338.65,358.03 L339.45,357.8 L340.28,357.75 L341.1,357.86 L341.85,358.09 L342.57,358.39 L343.26,358.71 L343.95,359.02 L344.65,359.34 L345.36,359.69 L346.08,360.12 L346.75,360.67 L347.34,361.37 L347.8,362.21 L348.11,363.16 L348.27,364.16 L348.3,365.17 L348.24,366.15 L348.15,367.1 L348.05,367.98 L347.96,368.86 L347.86,369.76 L347.71,370.66 L347.49,371.57 L347.16,372.43 L346.71,373.22 L346.15,373.89 L345.5,374.43 L344.8,374.85 L344.07,375.19 L343.35,375.47 L342.61,375.71 L341.87,375.93 L341.1,376.11 L340.27,376.19 L339.43,376.14 L338.61,375.92 L337.84,375.52 L337.16,374.95 L336.58,374.25 L336.09,373.5 L335.67,372.72 L335.27,371.97 L334.87,371.24 L334.44,370.51 L334.01,369.75 L333.6,368.93 L333.26,368.05Z M332.59,367.1 L332.45,366.01 L332.53,364.92 L332.83,363.87 L333.29,362.93 L333.86,362.08 L334.47,361.32 L335.09,360.6 L335.68,359.88 L336.28,359.14 L336.92,358.41 L337.63,357.75 L338.43,357.22 L339.3,356.91 L340.2,356.85 L341.1,357.03 L341.91,357.4 L342.65,357.86 L343.35,358.34 L344.04,358.77 L344.75,359.12 L345.51,359.44 L346.31,359.79 L347.12,360.25 L347.87,360.89 L348.49,361.71 L348.92,362.7 L349.13,363.8 L349.15,364.94 L349.02,366.05 L348.81,367.1 L348.6,368.05 L348.42,368.98 L348.27,369.92 L348.11,370.88 L347.9,371.85 L347.58,372.8 L347.11,373.65 L346.51,374.37 L345.79,374.91 L345.01,375.29 L344.21,375.55 L343.42,375.75 L342.66,375.96 L341.89,376.21 L341.1,376.48 L340.22,376.73 L339.29,376.87 L338.35,376.82 L337.45,376.53 L336.65,375.97 L335.98,375.2 L335.47,374.29 L335.09,373.32 L334.78,372.38 L334.48,371.5 L334.14,370.66 L333.74,369.85 L333.3,369.01 L332.89,368.09Z M331.51,367.1 L331.75,365.92 L332.15,364.82 L332.68,363.82 L333.29,362.93 L333.92,362.12 L334.55,361.39 L335.15,360.67 L335.74,359.96 L336.33,359.23 L336.95,358.48 L337.63,357.75 L338.39,357.07 L339.22,356.5 L340.13,356.07 L341.1,355.82 L342.04,355.77 L342.98,355.94 L343.88,356.3 L344.72,356.83 L345.49,357.5 L346.17,358.29 L346.77,359.15 L347.29,360.06 L347.74,361 L348.13,361.97 L348.47,362.95 L348.76,363.95 L349,364.98 L349.19,366.03 L349.3,367.1 L349.34,368.15 L349.29,369.21 L349.13,370.26 L348.88,371.29 L348.52,372.28 L348.06,373.22 L347.51,374.09 L346.88,374.87 L346.18,375.56 L345.42,376.15 L344.6,376.63 L343.75,376.98 L342.87,377.2 L341.98,377.29 L341.1,377.23 L340.19,377.05 L339.32,376.75 L338.48,376.37 L337.69,375.92 L336.92,375.43 L336.16,374.92 L335.41,374.37 L334.65,373.78 L333.91,373.11 L333.19,372.35 L332.55,371.48 L332.02,370.49 L331.65,369.41 L331.48,368.26Z M331.18,367.1 L330.94,365.82 L331,364.52 L331.39,363.31 L332.04,362.26 L332.86,361.39 L333.73,360.67 L334.55,360.02 L335.27,359.34 L335.92,358.55 L336.55,357.63 L337.22,356.65 L338.02,355.72 L338.95,354.98 L340,354.56 L341.1,354.53 L342.12,354.89 L343.04,355.56 L343.85,356.4 L344.56,357.28 L345.22,358.09 L345.88,358.79 L346.59,359.4 L347.35,359.99 L348.12,360.66 L348.83,361.46 L349.41,362.43 L349.79,363.53 L349.95,364.72 L349.94,365.93 L349.8,367.1 L349.61,368.18 L349.43,369.24 L349.29,370.32 L349.15,371.44 L348.97,372.6 L348.67,373.76 L348.22,374.86 L347.57,375.8 L346.76,376.52 L345.83,377.01 L344.85,377.29 L343.87,377.43 L342.93,377.51 L342.01,377.6 L341.1,377.73 L340.12,377.85 L339.1,377.91 L338.08,377.8 L337.09,377.46 L336.2,376.85 L335.47,376.01 L334.91,375 L334.5,373.94 L334.16,372.9 L333.82,371.93 L333.4,371.04 L332.87,370.17 L332.27,369.26 L331.66,368.24Z M330.08,367.1 L330.29,365.74 L330.72,364.45 L331.31,363.28 L332,362.24 L332.73,361.3 L333.47,360.45 L334.2,359.64 L334.93,358.87 L335.68,358.14 L336.47,357.48 L337.32,356.9 L338.22,356.45 L339.15,356.11 L340.12,355.89 L341.1,355.75 L342.05,355.65 L343.04,355.6 L344.06,355.59 L345.13,355.68 L346.21,355.92 L347.26,356.38 L348.23,357.1 L349.02,358.09 L349.61,359.29 L349.95,360.64 L350.08,362.05 L350.04,363.43 L349.92,364.73 L349.8,365.94 L349.74,367.1 L349.75,368.2 L349.81,369.34 L349.85,370.54 L349.81,371.8 L349.61,373.05 L349.21,374.23 L348.6,375.27 L347.81,376.12 L346.89,376.74 L345.91,377.18 L344.91,377.46 L343.93,377.65 L342.98,377.8 L342.04,377.91 L341.1,378 L340.1,378.01 L339.1,377.92 L338.11,377.7 L337.14,377.33 L336.22,376.82 L335.35,376.2 L334.52,375.5 L333.73,374.73 L332.95,373.91 L332.19,373.02 L331.48,372.03 L330.86,370.93 L330.39,369.72 L330.12,368.43Z" fill="none" stroke="#1a1acc" stroke-width="0.8" stroke-opacity="0.95"/>
</g>
<rect x="330.7" y="328.5" width="1.9" height="24.5" fill="#28c828"/>
<rect x="330.7" y="355.1" width="1.9" height="23.4" fill="#0c0cb4"/>
<line x1="333.1" y1="378.2" x2="356.1" y2="378.2" stroke="#c82040" stroke-width="1" />
<rect x="329.8" y="295.8" width="83.6" height="83.1" fill="none" stroke="#b0b0e0" stroke-width="1.4"/>
<text x="369.7" y="306.8" font-size="11.0" text-anchor="middle" fill="#222" textLength="39.6" lengthAdjust="spacingAndGlyphs" >medium</text>
<g clip-path="url(#cb1)">
<path d="M416.95,340.1 L416.91,338.85 L417.2,337.62 L417.8,336.47 L418.65,335.45 L419.65,334.56 L420.73,333.79 L421.81,333.1 L422.86,332.45 L423.88,331.81 L424.9,331.16 L425.96,330.52 L427.09,329.93 L428.32,329.44 L429.63,329.1 L431,328.94 L432.81,328.95 L434.6,329.14 L436.33,329.48 L438,329.93 L439.59,330.47 L441.11,331.09 L442.54,331.81 L443.86,332.61 L445.05,333.49 L446.13,334.45 L447.15,335.45 L448.2,336.48 L449.38,337.57 L450.75,338.76 L452.19,340.1 L453.45,341.7 L454.19,343.44 L454.11,345.18 L453.08,346.75 L451.24,348 L448.9,348.9 L446.43,349.5 L444.07,349.92 L441.91,350.26 L439.93,350.56 L438.07,350.84 L436.28,351.09 L434.52,351.3 L432.76,351.45 L431,351.53 L429.65,351.5 L428.3,351.34 L426.99,351.01 L425.76,350.52 L424.62,349.87 L423.61,349.1 L422.7,348.26 L421.86,347.38 L421.06,346.49 L420.25,345.59 L419.43,344.66 L418.62,343.66 L417.89,342.57 L417.3,341.37Z" fill="#44cc44" fill-opacity="0.1" stroke="none"/>
<path d="M428.25,340.1 L428.17,339.85 L428.15,339.59 L428.19,339.33 L428.31,339.09 L428.5,338.88 L428.75,338.72 L429.02,338.59 L429.3,338.5 L429.56,338.43 L429.81,338.35 L430.03,338.26 L430.25,338.16 L430.48,338.05 L430.73,337.95 L431,337.87 L431.37,337.83 L431.75,337.83 L432.12,337.87 L432.48,337.95 L432.83,338.05 L433.16,338.17 L433.49,338.31 L433.81,338.46 L434.11,338.64 L434.38,338.84 L434.59,339.07 L434.73,339.32 L434.8,339.58 L434.8,339.84 L434.74,340.1 L434.62,340.36 L434.48,340.6 L434.31,340.83 L434.14,341.05 L433.97,341.26 L433.8,341.47 L433.6,341.68 L433.37,341.88 L433.1,342.06 L432.8,342.2 L432.46,342.31 L432.1,342.38 L431.73,342.42 L431.36,342.44 L431,342.45 L430.72,342.46 L430.43,342.46 L430.14,342.44 L429.85,342.39 L429.56,342.3 L429.31,342.16 L429.1,341.97 L428.93,341.75 L428.81,341.51 L428.72,341.26 L428.65,341.03 L428.57,340.8 L428.47,340.58 L428.36,340.35Z M426.78,340.1 L426.77,339.72 L426.86,339.36 L427.05,339.01 L427.32,338.71 L427.65,338.47 L428.02,338.27 L428.38,338.1 L428.73,337.96 L429.05,337.82 L429.34,337.67 L429.62,337.48 L429.91,337.27 L430.23,337.04 L430.59,336.83 L431,336.64 L431.58,336.53 L432.18,336.5 L432.77,336.57 L433.32,336.73 L433.78,336.98 L434.16,337.28 L434.45,337.62 L434.68,337.96 L434.85,338.29 L435.02,338.6 L435.2,338.89 L435.42,339.17 L435.68,339.46 L435.97,339.76 L436.25,340.1 L436.49,340.49 L436.6,340.91 L436.56,341.32 L436.34,341.71 L435.98,342.05 L435.53,342.33 L435.04,342.56 L434.54,342.76 L434.04,342.94 L433.56,343.1 L433.07,343.25 L432.58,343.38 L432.06,343.48 L431.54,343.55 L431,343.57 L430.59,343.54 L430.19,343.46 L429.82,343.33 L429.46,343.15 L429.14,342.94 L428.85,342.72 L428.58,342.48 L428.32,342.24 L428.06,341.99 L427.8,341.74 L427.53,341.46 L427.28,341.17 L427.06,340.84 L426.89,340.48Z M426.19,340.1 L426.24,339.68 L426.3,339.25 L426.38,338.83 L426.5,338.4 L426.65,337.98 L426.87,337.56 L427.14,337.16 L427.49,336.8 L427.9,336.49 L428.37,336.24 L428.88,336.07 L429.42,335.97 L429.95,335.94 L430.49,335.96 L431,336.01 L431.65,336.09 L432.29,336.18 L432.92,336.27 L433.56,336.38 L434.2,336.52 L434.83,336.69 L435.44,336.91 L436,337.19 L436.49,337.52 L436.88,337.9 L437.19,338.32 L437.42,338.75 L437.61,339.19 L437.78,339.64 L437.93,340.1 L438.05,340.6 L438.1,341.12 L438.03,341.65 L437.83,342.16 L437.48,342.63 L437.01,343.05 L436.46,343.42 L435.84,343.74 L435.18,343.99 L434.49,344.19 L433.78,344.32 L433.06,344.39 L432.35,344.4 L431.66,344.38 L431,344.33 L430.5,344.27 L430.01,344.2 L429.52,344.12 L429.03,344.02 L428.53,343.88 L428.05,343.7 L427.59,343.45 L427.18,343.14 L426.84,342.78 L426.56,342.37 L426.37,341.92 L426.25,341.47 L426.19,341.01 L426.17,340.55Z M425.13,340.1 L424.84,339.55 L424.65,338.96 L424.62,338.35 L424.79,337.76 L425.14,337.24 L425.65,336.81 L426.24,336.47 L426.86,336.21 L427.45,335.97 L428.02,335.74 L428.57,335.48 L429.13,335.22 L429.71,334.98 L430.34,334.8 L431,334.74 L431.86,334.82 L432.67,335.03 L433.39,335.35 L434.01,335.73 L434.56,336.11 L435.08,336.47 L435.64,336.77 L436.28,337.02 L437.01,337.27 L437.82,337.55 L438.67,337.89 L439.5,338.31 L440.26,338.83 L440.89,339.43 L441.34,340.1 L441.53,340.85 L441.4,341.6 L440.96,342.29 L440.24,342.88 L439.35,343.36 L438.39,343.73 L437.43,344.02 L436.51,344.24 L435.62,344.4 L434.78,344.53 L433.97,344.62 L433.21,344.69 L432.47,344.77 L431.74,344.89 L431,345.05 L430.39,345.24 L429.72,345.42 L429,345.54 L428.26,345.54 L427.56,345.37 L426.95,345.04 L426.48,344.54 L426.17,343.94 L426.02,343.3 L425.96,342.68 L425.92,342.1 L425.85,341.58 L425.69,341.1 L425.43,340.62Z M423.47,340.1 L423.7,339.45 L423.95,338.83 L424.23,338.24 L424.56,337.67 L424.97,337.16 L425.47,336.7 L426.03,336.32 L426.65,336.01 L427.27,335.75 L427.88,335.52 L428.46,335.28 L429.04,335 L429.64,334.68 L430.29,334.35 L431,334.04 L432.02,333.81 L433.1,333.7 L434.2,333.74 L435.25,333.92 L436.25,334.22 L437.17,334.61 L438.03,335.05 L438.85,335.53 L439.64,336.04 L440.39,336.59 L441.08,337.2 L441.66,337.86 L442.07,338.58 L442.26,339.33 L442.13,340.1 L441.67,340.86 L440.89,341.52 L439.96,342.07 L439.05,342.52 L438.32,342.96 L437.82,343.45 L437.49,344.05 L437.2,344.76 L436.84,345.54 L436.28,346.29 L435.49,346.92 L434.47,347.31 L433.3,347.43 L432.11,347.27 L431,346.9 L430.25,346.42 L429.59,345.95 L428.99,345.57 L428.38,345.31 L427.7,345.16 L426.93,345.05 L426.1,344.91 L425.26,344.68 L424.48,344.29 L423.86,343.75 L423.43,343.08 L423.22,342.34 L423.18,341.57 L423.29,340.82Z M421.85,340.1 L422.18,339.32 L422.63,338.59 L423.12,337.93 L423.61,337.31 L424.09,336.72 L424.56,336.14 L425.06,335.57 L425.6,335.02 L426.2,334.51 L426.88,334.06 L427.62,333.68 L428.42,333.39 L429.27,333.19 L430.13,333.09 L431,333.09 L432.13,333.17 L433.22,333.34 L434.26,333.6 L435.25,333.93 L436.17,334.31 L437.04,334.73 L437.88,335.16 L438.74,335.59 L439.65,336.03 L440.65,336.5 L441.76,337 L442.98,337.58 L444.26,338.28 L445.51,339.11 L446.53,340.1 L447.05,341.24 L446.84,342.38 L445.84,343.36 L444.2,344.08 L442.27,344.5 L440.41,344.72 L438.83,344.87 L437.6,345.06 L436.65,345.37 L435.87,345.81 L435.11,346.34 L434.27,346.9 L433.29,347.38 L432.18,347.71 L431,347.83 L430.09,347.74 L429.23,347.46 L428.44,347.06 L427.72,346.61 L427.04,346.17 L426.35,345.77 L425.61,345.4 L424.82,345.02 L424,344.6 L423.21,344.08 L422.52,343.44 L422.01,342.68 L421.72,341.84 L421.68,340.97Z M421.63,340.1 L421.27,339.23 L421.01,338.3 L420.95,337.34 L421.13,336.38 L421.59,335.5 L422.32,334.77 L423.26,334.2 L424.31,333.81 L425.39,333.56 L426.41,333.38 L427.36,333.19 L428.25,332.93 L429.11,332.57 L430.01,332.14 L431,331.7 L432.42,331.37 L433.91,331.24 L435.38,331.38 L436.69,331.83 L437.75,332.54 L438.49,333.43 L438.92,334.41 L439.16,335.35 L439.33,336.18 L439.61,336.88 L440.15,337.46 L441.05,337.99 L442.36,338.54 L444.02,339.21 L445.84,340.1 L447.5,341.27 L448.57,342.63 L448.76,344 L447.98,345.21 L446.45,346.13 L444.53,346.75 L442.57,347.15 L440.75,347.43 L439.14,347.68 L437.69,347.94 L436.32,348.19 L434.99,348.41 L433.66,348.57 L432.33,348.65 L431,348.62 L430,348.5 L429.03,348.28 L428.11,347.97 L427.23,347.59 L426.41,347.13 L425.67,346.6 L425,346 L424.42,345.34 L423.93,344.64 L423.52,343.92 L423.15,343.19 L422.8,342.46 L422.43,341.71 L422.04,340.93Z M421.66,340.1 L421.35,339.24 L420.91,338.28 L420.48,337.21 L420.24,336.05 L420.36,334.9 L420.89,333.89 L421.83,333.11 L423.06,332.64 L424.43,332.45 L425.8,332.48 L427.05,332.59 L428.14,332.66 L429.11,332.59 L430.04,332.34 L431,331.95 L432.39,331.52 L433.93,331.17 L435.56,331.01 L437.18,331.11 L438.68,331.49 L439.97,332.11 L441.02,332.9 L441.85,333.78 L442.54,334.67 L443.18,335.55 L443.87,336.39 L444.67,337.23 L445.62,338.09 L446.68,339.03 L447.72,340.1 L448.49,341.34 L448.78,342.66 L448.48,343.94 L447.61,345.1 L446.34,346.09 L444.87,346.92 L443.37,347.63 L441.88,348.27 L440.39,348.85 L438.86,349.31 L437.25,349.6 L435.6,349.67 L433.96,349.52 L432.42,349.21 L431,348.85 L430,348.54 L429.02,348.34 L427.99,348.28 L426.87,348.31 L425.65,348.3 L424.38,348.16 L423.18,347.78 L422.19,347.12 L421.5,346.2 L421.18,345.12 L421.17,343.97 L421.37,342.87 L421.61,341.87 L421.74,340.96Z M418.58,340.1 L418.56,338.99 L418.67,337.88 L418.92,336.78 L419.32,335.7 L419.87,334.66 L420.6,333.71 L421.51,332.87 L422.57,332.18 L423.75,331.66 L425,331.3 L426.25,331.08 L427.48,330.93 L428.67,330.82 L429.84,330.72 L431,330.63 L432.55,330.56 L434.12,330.59 L435.69,330.75 L437.19,331.1 L438.55,331.64 L439.72,332.34 L440.69,333.14 L441.52,333.97 L442.31,334.78 L443.21,335.54 L444.37,336.25 L445.91,336.97 L447.9,337.78 L450.26,338.79 L452.72,340.1 L454.74,341.79 L455.71,343.65 L455.23,345.42 L453.31,346.82 L450.44,347.69 L447.28,348.1 L444.35,348.23 L441.91,348.3 L439.97,348.46 L438.4,348.77 L437.01,349.23 L435.64,349.76 L434.19,350.26 L432.64,350.63 L431,350.78 L429.74,350.69 L428.54,350.35 L427.43,349.83 L426.42,349.19 L425.51,348.51 L424.64,347.84 L423.78,347.19 L422.91,346.55 L422.01,345.87 L421.14,345.14 L420.33,344.3 L419.64,343.36 L419.11,342.33 L418.76,341.24Z M416.95,340.1 L416.91,338.85 L417.2,337.62 L417.8,336.47 L418.65,335.45 L419.65,334.56 L420.73,333.79 L421.81,333.1 L422.86,332.45 L423.88,331.81 L424.9,331.16 L425.96,330.52 L427.09,329.93 L428.32,329.44 L429.63,329.1 L431,328.94 L432.81,328.95 L434.6,329.14 L436.33,329.48 L438,329.93 L439.59,330.47 L441.11,331.09 L442.54,331.81 L443.86,332.61 L445.05,333.49 L446.13,334.45 L447.15,335.45 L448.2,336.48 L449.38,337.57 L450.75,338.76 L452.19,340.1 L453.45,341.7 L454.19,343.44 L454.11,345.18 L453.08,346.75 L451.24,348 L448.9,348.9 L446.43,349.5 L444.07,349.92 L441.91,350.26 L439.93,350.56 L438.07,350.84 L436.28,351.09 L434.52,351.3 L432.76,351.45 L431,351.53 L429.65,351.5 L428.3,351.34 L426.99,351.01 L425.76,350.52 L424.62,349.87 L423.61,349.1 L422.7,348.26 L421.86,347.38 L421.06,346.49 L420.25,345.59 L419.43,344.66 L418.62,343.66 L417.89,342.57 L417.3,341.37Z" fill="none" stroke="#44cc44" stroke-width="0.55" stroke-opacity="0.55"/>
<path d="M430.24,364.1 L430.43,362.57 L430.59,361.08 L430.73,359.59 L430.86,358.04 L431.02,356.46 L431.27,354.88 L431.63,353.39 L432.11,352.07 L432.7,351 L433.37,350.19 L434.09,349.61 L434.82,349.23 L435.55,348.97 L436.27,348.81 L437,348.75 L437.78,348.8 L438.55,349.02 L439.3,349.45 L440.02,350.1 L440.67,350.96 L441.27,351.97 L441.81,353.06 L442.33,354.19 L442.84,355.33 L443.37,356.5 L443.89,357.76 L444.39,359.14 L444.81,360.67 L445.07,362.35 L445.14,364.1 L444.99,365.78 L444.64,367.35 L444.15,368.74 L443.58,369.96 L443.02,371.05 L442.51,372.11 L442.06,373.22 L441.66,374.45 L441.25,375.8 L440.77,377.17 L440.19,378.43 L439.49,379.42 L438.69,380 L437.84,380.11 L437,379.79 L436.26,379.14 L435.59,378.33 L434.97,377.5 L434.37,376.76 L433.75,376.15 L433.1,375.62 L432.4,375.05 L431.7,374.33 L431.05,373.37 L430.51,372.12 L430.14,370.64 L429.96,369 L429.95,367.31 L430.06,365.66Z" fill="#e41e1e" fill-opacity="0.18" stroke="none"/>
<path d="M435.18,364.1 L435.17,363.67 L435.19,363.25 L435.23,362.83 L435.3,362.42 L435.39,362.04 L435.51,361.7 L435.65,361.4 L435.8,361.14 L435.96,360.92 L436.12,360.72 L436.29,360.56 L436.46,360.42 L436.64,360.32 L436.82,360.25 L437,360.23 L437.2,360.25 L437.39,360.3 L437.58,360.39 L437.77,360.51 L437.96,360.65 L438.15,360.83 L438.33,361.04 L438.5,361.3 L438.65,361.62 L438.77,361.98 L438.86,362.39 L438.9,362.82 L438.9,363.26 L438.87,363.69 L438.82,364.1 L438.77,364.47 L438.72,364.83 L438.68,365.19 L438.65,365.57 L438.62,365.97 L438.58,366.39 L438.5,366.81 L438.4,367.2 L438.25,367.53 L438.06,367.77 L437.85,367.92 L437.63,367.97 L437.41,367.94 L437.2,367.86 L437,367.76 L436.82,367.67 L436.65,367.59 L436.48,367.51 L436.31,367.43 L436.13,367.33 L435.96,367.18 L435.79,366.97 L435.65,366.71 L435.52,366.4 L435.42,366.05 L435.34,365.68 L435.28,365.3 L435.23,364.9 L435.2,364.51Z M434.83,364.1 L434.8,363.59 L434.81,363.07 L434.85,362.56 L434.94,362.07 L435.06,361.62 L435.21,361.23 L435.39,360.89 L435.58,360.62 L435.78,360.38 L435.97,360.17 L436.17,359.96 L436.36,359.74 L436.56,359.53 L436.77,359.34 L437,359.18 L437.25,359.09 L437.52,359.09 L437.77,359.18 L438.02,359.37 L438.24,359.66 L438.44,360 L438.61,360.4 L438.76,360.82 L438.9,361.25 L439.01,361.7 L439.12,362.15 L439.22,362.61 L439.3,363.09 L439.35,363.59 L439.38,364.1 L439.38,364.6 L439.35,365.1 L439.27,365.58 L439.17,366.03 L439.04,366.45 L438.88,366.83 L438.7,367.17 L438.52,367.47 L438.32,367.74 L438.12,367.97 L437.91,368.18 L437.69,368.37 L437.47,368.53 L437.24,368.67 L437,368.78 L436.77,368.85 L436.53,368.86 L436.29,368.81 L436.05,368.67 L435.83,368.45 L435.63,368.15 L435.45,367.78 L435.31,367.36 L435.2,366.91 L435.11,366.44 L435.03,365.98 L434.97,365.51 L434.92,365.05 L434.87,364.58Z M434.27,364.1 L434.31,363.47 L434.39,362.87 L434.5,362.3 L434.63,361.77 L434.78,361.27 L434.95,360.79 L435.11,360.34 L435.3,359.91 L435.49,359.5 L435.7,359.13 L435.94,358.82 L436.19,358.59 L436.46,358.44 L436.73,358.39 L437,358.42 L437.28,358.51 L437.56,358.66 L437.82,358.85 L438.08,359.07 L438.33,359.32 L438.58,359.61 L438.82,359.93 L439.04,360.31 L439.24,360.74 L439.42,361.22 L439.56,361.74 L439.68,362.3 L439.78,362.88 L439.84,363.48 L439.88,364.1 L439.9,364.71 L439.88,365.33 L439.83,365.94 L439.73,366.53 L439.58,367.08 L439.39,367.58 L439.16,367.99 L438.9,368.32 L438.63,368.58 L438.35,368.76 L438.07,368.9 L437.8,369 L437.53,369.1 L437.27,369.19 L437,369.26 L436.74,369.3 L436.48,369.3 L436.22,369.24 L435.96,369.1 L435.71,368.89 L435.47,368.61 L435.25,368.27 L435.04,367.88 L434.85,367.45 L434.68,366.97 L434.53,366.46 L434.41,365.91 L434.32,365.32 L434.27,364.71Z M434.19,364.1 L434.17,363.44 L434.15,362.76 L434.17,362.06 L434.24,361.38 L434.37,360.73 L434.55,360.15 L434.77,359.65 L435.02,359.23 L435.28,358.86 L435.54,358.51 L435.81,358.16 L436.08,357.81 L436.37,357.49 L436.67,357.22 L437,357.06 L437.36,357.05 L437.71,357.21 L438.03,357.53 L438.32,357.98 L438.57,358.49 L438.79,359.02 L438.99,359.53 L439.2,360 L439.43,360.45 L439.67,360.92 L439.91,361.43 L440.12,362 L440.29,362.66 L440.39,363.36 L440.41,364.1 L440.35,364.8 L440.24,365.48 L440.09,366.11 L439.92,366.7 L439.74,367.27 L439.56,367.82 L439.37,368.36 L439.15,368.87 L438.9,369.33 L438.62,369.7 L438.31,369.96 L437.98,370.11 L437.64,370.16 L437.32,370.15 L437,370.12 L436.71,370.09 L436.41,370.09 L436.09,370.09 L435.76,370.06 L435.42,369.95 L435.1,369.71 L434.8,369.33 L434.56,368.81 L434.39,368.17 L434.28,367.47 L434.23,366.74 L434.22,366.04 L434.21,365.37 L434.21,364.73Z M433.47,364.1 L433.52,363.29 L433.62,362.51 L433.77,361.78 L433.96,361.1 L434.16,360.47 L434.38,359.89 L434.61,359.33 L434.84,358.78 L435.07,358.23 L435.33,357.7 L435.61,357.2 L435.92,356.77 L436.27,356.45 L436.63,356.27 L437,356.25 L437.39,356.38 L437.77,356.64 L438.12,357 L438.44,357.41 L438.75,357.85 L439.04,358.29 L439.34,358.73 L439.64,359.19 L439.93,359.7 L440.21,360.27 L440.46,360.92 L440.65,361.65 L440.77,362.44 L440.82,363.27 L440.79,364.1 L440.69,364.88 L440.54,365.61 L440.37,366.29 L440.18,366.93 L439.99,367.55 L439.79,368.15 L439.58,368.76 L439.36,369.35 L439.11,369.92 L438.83,370.44 L438.51,370.88 L438.16,371.23 L437.78,371.46 L437.39,371.57 L437,371.56 L436.64,371.44 L436.29,371.24 L435.96,370.97 L435.64,370.64 L435.34,370.26 L435.05,369.85 L434.78,369.39 L434.51,368.9 L434.27,368.35 L434.04,367.76 L433.84,367.11 L433.67,366.42 L433.55,365.67 L433.48,364.89Z M433.42,364.1 L433.45,363.27 L433.52,362.46 L433.6,361.65 L433.69,360.84 L433.8,360.01 L433.94,359.17 L434.11,358.34 L434.34,357.55 L434.62,356.84 L434.96,356.26 L435.34,355.84 L435.75,355.59 L436.17,355.49 L436.59,355.5 L437,355.58 L437.43,355.71 L437.85,355.86 L438.26,356.06 L438.67,356.33 L439.07,356.69 L439.43,357.18 L439.75,357.79 L440,358.51 L440.2,359.29 L440.35,360.11 L440.46,360.91 L440.57,361.7 L440.69,362.48 L440.82,363.27 L440.95,364.1 L441.07,364.95 L441.12,365.85 L441.1,366.76 L440.97,367.63 L440.73,368.41 L440.42,369.06 L440.04,369.58 L439.65,369.99 L439.26,370.33 L438.89,370.66 L438.54,371.02 L438.19,371.43 L437.83,371.88 L437.43,372.31 L437,372.65 L436.57,372.84 L436.13,372.83 L435.71,372.6 L435.32,372.18 L434.98,371.6 L434.69,370.92 L434.44,370.2 L434.22,369.46 L434.02,368.73 L433.85,368 L433.69,367.26 L433.56,366.5 L433.47,365.71 L433.42,364.91Z M432.84,364.1 L432.76,363.11 L432.71,362.08 L432.71,361.01 L432.78,359.94 L432.93,358.9 L433.18,357.96 L433.53,357.17 L433.94,356.57 L434.39,356.15 L434.87,355.91 L435.33,355.81 L435.78,355.78 L436.2,355.77 L436.6,355.76 L437,355.73 L437.43,355.69 L437.87,355.69 L438.31,355.75 L438.76,355.92 L439.2,356.21 L439.62,356.64 L440.01,357.19 L440.36,357.84 L440.68,358.58 L440.95,359.38 L441.19,360.24 L441.39,361.15 L441.54,362.11 L441.64,363.09 L441.67,364.1 L441.64,365.07 L441.54,366.03 L441.38,366.94 L441.17,367.81 L440.92,368.63 L440.64,369.39 L440.34,370.12 L440.01,370.79 L439.66,371.42 L439.27,371.98 L438.86,372.45 L438.41,372.8 L437.95,373.03 L437.47,373.12 L437,373.09 L436.57,372.95 L436.14,372.72 L435.74,372.42 L435.35,372.05 L434.97,371.63 L434.62,371.13 L434.28,370.57 L433.98,369.92 L433.72,369.21 L433.5,368.43 L433.32,367.61 L433.17,366.76 L433.05,365.9 L432.94,365.01Z M432.57,364.1 L432.41,363.03 L432.31,361.89 L432.31,360.73 L432.44,359.6 L432.69,358.59 L433.06,357.77 L433.51,357.14 L433.98,356.68 L434.44,356.31 L434.88,355.96 L435.28,355.56 L435.67,355.07 L436.08,354.52 L436.52,354 L437,353.58 L437.54,353.39 L438.09,353.46 L438.62,353.81 L439.09,354.41 L439.5,355.16 L439.85,355.99 L440.17,356.83 L440.48,357.63 L440.79,358.41 L441.12,359.19 L441.44,360.01 L441.73,360.92 L441.95,361.93 L442.08,363 L442.1,364.1 L442.02,365.16 L441.87,366.17 L441.66,367.13 L441.43,368.05 L441.18,368.93 L440.92,369.8 L440.64,370.65 L440.31,371.46 L439.93,372.17 L439.5,372.76 L439.02,373.18 L438.52,373.44 L438.01,373.57 L437.5,373.61 L437,373.61 L436.53,373.6 L436.06,373.58 L435.57,373.53 L435.07,373.39 L434.58,373.08 L434.13,372.57 L433.74,371.86 L433.44,370.97 L433.24,369.96 L433.11,368.91 L433.03,367.89 L432.96,366.92 L432.86,365.99 L432.73,365.06Z M431.89,364.1 L431.96,362.93 L432.1,361.79 L432.29,360.71 L432.52,359.69 L432.78,358.7 L433.04,357.73 L433.32,356.76 L433.63,355.82 L434,354.94 L434.41,354.18 L434.89,353.6 L435.41,353.25 L435.95,353.13 L436.48,353.22 L437,353.46 L437.53,353.76 L438.03,354.07 L438.54,354.33 L439.06,354.55 L439.61,354.77 L440.18,355.06 L440.75,355.5 L441.28,356.13 L441.74,356.99 L442.08,358.04 L442.29,359.23 L442.38,360.49 L442.36,361.75 L442.27,362.95 L442.15,364.1 L442.03,365.16 L441.91,366.19 L441.8,367.22 L441.67,368.25 L441.49,369.29 L441.26,370.29 L440.96,371.22 L440.58,372.06 L440.15,372.78 L439.68,373.38 L439.18,373.89 L438.66,374.3 L438.12,374.64 L437.57,374.89 L437,375.04 L436.46,375.05 L435.93,374.91 L435.41,374.58 L434.92,374.09 L434.48,373.46 L434.08,372.72 L433.71,371.92 L433.38,371.09 L433.06,370.23 L432.76,369.35 L432.48,368.42 L432.23,367.42 L432.04,366.36 L431.92,365.24Z M431.58,364.1 L431.66,362.86 L431.79,361.65 L431.96,360.48 L432.17,359.34 L432.41,358.23 L432.68,357.15 L432.99,356.11 L433.35,355.12 L433.76,354.21 L434.22,353.42 L434.72,352.78 L435.27,352.32 L435.84,352.05 L436.42,351.97 L437,352.06 L437.6,352.31 L438.17,352.68 L438.72,353.14 L439.24,353.68 L439.74,354.28 L440.22,354.93 L440.69,355.64 L441.13,356.41 L441.56,357.26 L441.95,358.19 L442.31,359.22 L442.61,360.33 L442.85,361.53 L443.01,362.79 L443.09,364.1 L443.07,365.38 L442.95,366.63 L442.75,367.83 L442.46,368.96 L442.11,370 L441.7,370.93 L441.26,371.77 L440.79,372.52 L440.31,373.2 L439.8,373.81 L439.28,374.34 L438.74,374.8 L438.18,375.16 L437.59,375.4 L437,375.52 L436.44,375.5 L435.89,375.33 L435.34,375.03 L434.82,374.61 L434.31,374.07 L433.83,373.44 L433.38,372.71 L432.96,371.89 L432.58,370.99 L432.24,369.99 L431.96,368.91 L431.75,367.75 L431.62,366.55 L431.56,365.32Z M431.39,364.1 L431.26,362.76 L431.15,361.35 L431.13,359.88 L431.24,358.42 L431.5,357.06 L431.9,355.9 L432.43,354.98 L433.02,354.31 L433.63,353.82 L434.22,353.44 L434.78,353.08 L435.32,352.68 L435.86,352.23 L436.42,351.78 L437,351.4 L437.66,351.19 L438.33,351.21 L438.98,351.51 L439.59,352.06 L440.15,352.83 L440.65,353.73 L441.09,354.71 L441.5,355.73 L441.87,356.78 L442.22,357.87 L442.53,359.02 L442.77,360.22 L442.94,361.49 L443.03,362.79 L443.04,364.1 L442.99,365.36 L442.9,366.61 L442.8,367.87 L442.68,369.16 L442.54,370.5 L442.34,371.86 L442.05,373.2 L441.64,374.41 L441.11,375.41 L440.46,376.08 L439.74,376.4 L438.99,376.37 L438.27,376.08 L437.61,375.65 L437,375.22 L436.47,374.91 L435.94,374.74 L435.39,374.7 L434.8,374.7 L434.17,374.6 L433.54,374.3 L432.96,373.72 L432.47,372.84 L432.11,371.72 L431.87,370.44 L431.74,369.12 L431.67,367.81 L431.6,366.56 L431.52,365.34Z M430.62,364.1 L430.68,362.63 L430.83,361.2 L431.07,359.83 L431.39,358.57 L431.77,357.42 L432.2,356.38 L432.66,355.44 L433.13,354.58 L433.61,353.76 L434.1,352.98 L434.62,352.25 L435.16,351.57 L435.74,351 L436.36,350.56 L437,350.29 L437.71,350.22 L438.41,350.36 L439.11,350.69 L439.78,351.21 L440.41,351.89 L441,352.71 L441.55,353.66 L442.04,354.72 L442.48,355.87 L442.85,357.12 L443.16,358.43 L443.39,359.81 L443.57,361.22 L443.67,362.65 L443.72,364.1 L443.7,365.51 L443.62,366.91 L443.46,368.3 L443.22,369.64 L442.89,370.9 L442.47,372.05 L441.97,373.04 L441.4,373.87 L440.79,374.53 L440.16,375.03 L439.52,375.41 L438.89,375.73 L438.27,376.01 L437.64,376.28 L437,376.54 L436.38,376.75 L435.73,376.87 L435.07,376.84 L434.4,376.62 L433.75,376.16 L433.14,375.47 L432.6,374.58 L432.12,373.51 L431.73,372.31 L431.39,371.04 L431.12,369.71 L430.91,368.34 L430.75,366.95 L430.65,365.53Z M430.58,364.1 L430.51,362.59 L430.53,361.05 L430.64,359.53 L430.86,358.05 L431.18,356.65 L431.57,355.36 L432.02,354.17 L432.52,353.09 L433.06,352.11 L433.64,351.21 L434.25,350.41 L434.89,349.73 L435.57,349.18 L436.27,348.81 L437,348.66 L437.78,348.75 L438.54,349.1 L439.26,349.7 L439.92,350.53 L440.51,351.53 L441.02,352.66 L441.47,353.85 L441.86,355.06 L442.22,356.26 L442.57,357.45 L442.92,358.65 L443.27,359.89 L443.6,361.2 L443.9,362.6 L444.13,364.1 L444.26,365.63 L444.26,367.19 L444.12,368.73 L443.84,370.19 L443.43,371.52 L442.91,372.69 L442.33,373.7 L441.71,374.57 L441.08,375.33 L440.44,376.02 L439.8,376.67 L439.14,377.3 L438.46,377.87 L437.75,378.36 L437,378.71 L436.28,378.85 L435.55,378.74 L434.84,378.35 L434.18,377.68 L433.58,376.78 L433.07,375.69 L432.64,374.49 L432.27,373.23 L431.96,371.95 L431.67,370.69 L431.41,369.43 L431.16,368.17 L430.93,366.87 L430.73,365.51Z M430.24,364.1 L430.43,362.57 L430.59,361.08 L430.73,359.59 L430.86,358.04 L431.02,356.46 L431.27,354.88 L431.63,353.39 L432.11,352.07 L432.7,351 L433.37,350.19 L434.09,349.61 L434.82,349.23 L435.55,348.97 L436.27,348.81 L437,348.75 L437.78,348.8 L438.55,349.02 L439.3,349.45 L440.02,350.1 L440.67,350.96 L441.27,351.97 L441.81,353.06 L442.33,354.19 L442.84,355.33 L443.37,356.5 L443.89,357.76 L444.39,359.14 L444.81,360.67 L445.07,362.35 L445.14,364.1 L444.99,365.78 L444.64,367.35 L444.15,368.74 L443.58,369.96 L443.02,371.05 L442.51,372.11 L442.06,373.22 L441.66,374.45 L441.25,375.8 L440.77,377.17 L440.19,378.43 L439.49,379.42 L438.69,380 L437.84,380.11 L437,379.79 L436.26,379.14 L435.59,378.33 L434.97,377.5 L434.37,376.76 L433.75,376.15 L433.1,375.62 L432.4,375.05 L431.7,374.33 L431.05,373.37 L430.51,372.12 L430.14,370.64 L429.96,369 L429.95,367.31 L430.06,365.66Z" fill="none" stroke="#e41e1e" stroke-width="0.75" stroke-opacity="0.85"/>
<ellipse cx="428.5" cy="367.1" rx="8.5" ry="10.2" fill="#fff" fill-opacity="0.55"/>
<path d="M418.33,367.1 L418.08,365.85 L418.02,364.55 L418.19,363.27 L418.61,362.07 L419.22,360.97 L419.96,360.01 L420.77,359.15 L421.6,358.34 L422.43,357.54 L423.25,356.72 L424.12,355.87 L425.07,355.05 L426.13,354.36 L427.28,353.88 L428.5,353.72 L429.65,353.91 L430.74,354.45 L431.7,355.27 L432.52,356.26 L433.22,357.3 L433.83,358.3 L434.43,359.2 L435.07,360 L435.78,360.75 L436.55,361.53 L437.32,362.39 L438.03,363.38 L438.6,364.52 L438.94,365.78 L439.04,367.1 L438.89,368.36 L438.53,369.55 L438.02,370.66 L437.43,371.67 L436.8,372.61 L436.16,373.5 L435.52,374.37 L434.86,375.23 L434.17,376.08 L433.42,376.9 L432.59,377.66 L431.68,378.34 L430.68,378.9 L429.62,379.31 L428.5,379.56 L427.3,379.6 L426.11,379.43 L424.96,379.03 L423.91,378.4 L422.98,377.58 L422.2,376.59 L421.58,375.51 L421.1,374.39 L420.72,373.29 L420.37,372.24 L420.02,371.24 L419.62,370.26 L419.17,369.27 L418.73,368.23Z" fill="#1a1acc" fill-opacity="0.12" stroke="none"/>
<path d="M426.21,367.1 L426.23,366.83 L426.3,366.57 L426.41,366.33 L426.55,366.11 L426.7,365.92 L426.85,365.73 L426.98,365.54 L427.11,365.33 L427.24,365.11 L427.39,364.9 L427.57,364.71 L427.78,364.56 L428.01,364.48 L428.26,364.47 L428.5,364.53 L428.72,364.63 L428.91,364.76 L429.1,364.89 L429.28,365.01 L429.46,365.11 L429.65,365.2 L429.85,365.3 L430.05,365.43 L430.22,365.6 L430.37,365.8 L430.47,366.05 L430.52,366.31 L430.54,366.58 L430.52,366.84 L430.5,367.1 L430.47,367.34 L430.45,367.58 L430.43,367.82 L430.4,368.07 L430.34,368.32 L430.25,368.56 L430.12,368.77 L429.94,368.94 L429.75,369.07 L429.54,369.16 L429.32,369.23 L429.12,369.28 L428.91,369.33 L428.71,369.38 L428.5,369.43 L428.27,369.47 L428.04,369.48 L427.81,369.44 L427.59,369.35 L427.39,369.21 L427.22,369.03 L427.08,368.83 L426.95,368.63 L426.83,368.43 L426.71,368.23 L426.58,368.03 L426.46,367.83 L426.34,367.6 L426.25,367.36Z M425.78,367.1 L425.84,366.78 L425.88,366.46 L425.9,366.13 L425.92,365.79 L425.97,365.43 L426.07,365.08 L426.24,364.78 L426.49,364.54 L426.78,364.4 L427.1,364.33 L427.42,364.33 L427.72,364.35 L427.99,364.35 L428.25,364.33 L428.5,364.26 L428.76,364.17 L429.03,364.08 L429.33,364.04 L429.62,364.07 L429.9,364.19 L430.13,364.4 L430.32,364.67 L430.47,364.98 L430.58,365.29 L430.68,365.59 L430.78,365.88 L430.89,366.17 L431.01,366.46 L431.12,366.77 L431.2,367.1 L431.23,367.43 L431.2,367.76 L431.11,368.07 L430.97,368.36 L430.8,368.63 L430.62,368.87 L430.45,369.12 L430.27,369.36 L430.09,369.61 L429.88,369.85 L429.64,370.05 L429.37,370.2 L429.08,370.25 L428.79,370.22 L428.5,370.11 L428.23,369.94 L427.98,369.75 L427.76,369.59 L427.54,369.46 L427.3,369.37 L427.03,369.32 L426.73,369.25 L426.42,369.15 L426.13,368.98 L425.9,368.75 L425.73,368.45 L425.66,368.11 L425.66,367.76 L425.71,367.42Z M425.28,367.1 L425.17,366.7 L425.1,366.27 L425.09,365.83 L425.18,365.41 L425.37,365.03 L425.64,364.72 L425.96,364.49 L426.31,364.32 L426.64,364.17 L426.94,364.02 L427.23,363.84 L427.51,363.62 L427.81,363.39 L428.14,363.18 L428.5,363.03 L428.86,362.98 L429.22,363.05 L429.54,363.24 L429.83,363.52 L430.07,363.84 L430.27,364.17 L430.47,364.48 L430.67,364.75 L430.89,365.01 L431.13,365.28 L431.37,365.57 L431.58,365.9 L431.74,366.27 L431.82,366.68 L431.83,367.1 L431.77,367.49 L431.66,367.87 L431.54,368.24 L431.41,368.59 L431.28,368.94 L431.13,369.3 L430.97,369.65 L430.76,369.98 L430.5,370.26 L430.19,370.46 L429.84,370.57 L429.49,370.59 L429.14,370.55 L428.81,370.49 L428.5,370.43 L428.18,370.41 L427.86,370.42 L427.51,370.45 L427.13,370.46 L426.75,370.42 L426.38,370.29 L426.06,370.07 L425.82,369.75 L425.66,369.36 L425.57,368.95 L425.53,368.55 L425.51,368.16 L425.47,367.81 L425.39,367.46Z M424.55,367.1 L424.57,366.63 L424.62,366.16 L424.71,365.69 L424.83,365.23 L424.99,364.78 L425.19,364.35 L425.43,363.94 L425.72,363.57 L426.05,363.24 L426.41,362.97 L426.82,362.78 L427.24,362.67 L427.67,362.64 L428.09,362.69 L428.5,362.81 L428.86,362.98 L429.2,363.17 L429.51,363.36 L429.82,363.54 L430.14,363.7 L430.47,363.85 L430.82,364.01 L431.19,364.2 L431.55,364.44 L431.9,364.75 L432.19,365.13 L432.43,365.57 L432.59,366.06 L432.66,366.58 L432.66,367.1 L432.6,367.6 L432.48,368.07 L432.32,368.53 L432.13,368.96 L431.9,369.36 L431.64,369.73 L431.35,370.05 L431.02,370.32 L430.67,370.54 L430.31,370.7 L429.93,370.81 L429.57,370.87 L429.21,370.92 L428.85,370.95 L428.5,370.99 L428.12,371.02 L427.73,371.04 L427.33,371.04 L426.91,371 L426.5,370.9 L426.1,370.72 L425.73,370.47 L425.4,370.15 L425.13,369.78 L424.92,369.36 L424.77,368.92 L424.66,368.47 L424.59,368.01 L424.56,367.55Z M423.91,367.1 L423.96,366.55 L424.11,366.03 L424.34,365.55 L424.6,365.12 L424.87,364.7 L425.11,364.29 L425.33,363.84 L425.55,363.36 L425.79,362.84 L426.09,362.33 L426.47,361.88 L426.92,361.53 L427.42,361.32 L427.96,361.26 L428.5,361.35 L428.99,361.54 L429.44,361.8 L429.86,362.09 L430.25,362.38 L430.63,362.68 L430.99,362.99 L431.32,363.34 L431.62,363.73 L431.85,364.18 L432.02,364.66 L432.12,365.17 L432.18,365.67 L432.22,366.15 L432.28,366.62 L432.37,367.1 L432.48,367.58 L432.61,368.1 L432.71,368.67 L432.73,369.27 L432.64,369.85 L432.43,370.38 L432.09,370.82 L431.67,371.15 L431.19,371.36 L430.71,371.5 L430.24,371.59 L429.8,371.69 L429.37,371.81 L428.94,371.95 L428.5,372.1 L428.01,372.22 L427.5,372.24 L427,372.15 L426.54,371.92 L426.13,371.59 L425.8,371.17 L425.53,370.71 L425.3,370.26 L425.08,369.82 L424.85,369.41 L424.6,369 L424.35,368.58 L424.13,368.12 L423.97,367.62Z M423.72,367.1 L423.77,366.53 L423.8,365.96 L423.84,365.37 L423.9,364.76 L424.01,364.14 L424.21,363.54 L424.5,362.98 L424.88,362.5 L425.33,362.12 L425.83,361.82 L426.36,361.62 L426.9,361.47 L427.44,361.38 L427.97,361.32 L428.5,361.29 L429.01,361.31 L429.51,361.38 L430.01,361.52 L430.49,361.74 L430.94,362.04 L431.35,362.4 L431.73,362.8 L432.07,363.24 L432.39,363.71 L432.69,364.2 L432.96,364.72 L433.19,365.27 L433.38,365.85 L433.5,366.47 L433.54,367.1 L433.49,367.7 L433.36,368.29 L433.17,368.85 L432.93,369.37 L432.67,369.87 L432.38,370.34 L432.07,370.8 L431.74,371.24 L431.38,371.66 L430.97,372.03 L430.52,372.33 L430.04,372.54 L429.53,372.66 L429.01,372.68 L428.5,372.63 L427.98,372.54 L427.47,372.42 L426.96,372.29 L426.45,372.15 L425.92,371.99 L425.4,371.77 L424.9,371.48 L424.44,371.1 L424.07,370.63 L423.8,370.07 L423.64,369.47 L423.58,368.85 L423.6,368.24 L423.65,367.66Z M422.82,367.1 L422.95,366.43 L423.13,365.8 L423.36,365.19 L423.63,364.62 L423.92,364.08 L424.25,363.57 L424.6,363.08 L424.97,362.62 L425.37,362.18 L425.8,361.76 L426.27,361.37 L426.76,360.99 L427.3,360.65 L427.88,360.35 L428.5,360.11 L429.13,359.94 L429.78,359.9 L430.43,359.98 L431.05,360.22 L431.62,360.61 L432.11,361.14 L432.49,361.78 L432.76,362.49 L432.94,363.23 L433.05,363.95 L433.11,364.64 L433.16,365.28 L433.21,365.9 L433.28,366.5 L433.37,367.1 L433.44,367.7 L433.48,368.32 L433.47,368.96 L433.38,369.6 L433.2,370.22 L432.93,370.81 L432.6,371.34 L432.19,371.82 L431.75,372.24 L431.27,372.61 L430.76,372.92 L430.22,373.19 L429.66,373.4 L429.09,373.54 L428.5,373.6 L427.88,373.58 L427.26,373.47 L426.67,373.29 L426.09,373.02 L425.55,372.7 L425.04,372.31 L424.57,371.88 L424.13,371.41 L423.74,370.89 L423.4,370.33 L423.12,369.72 L422.92,369.08 L422.81,368.43 L422.77,367.76Z M422.52,367.1 L422.58,366.39 L422.61,365.67 L422.61,364.91 L422.63,364.11 L422.72,363.29 L422.93,362.47 L423.3,361.75 L423.83,361.17 L424.49,360.79 L425.22,360.61 L425.97,360.6 L426.68,360.69 L427.33,360.8 L427.93,360.85 L428.5,360.8 L429.06,360.66 L429.68,360.46 L430.34,360.29 L431.05,360.22 L431.76,360.32 L432.43,360.61 L433,361.1 L433.46,361.74 L433.8,362.48 L434.02,363.27 L434.17,364.07 L434.26,364.85 L434.31,365.62 L434.33,366.36 L434.3,367.1 L434.22,367.79 L434.08,368.46 L433.87,369.11 L433.62,369.72 L433.33,370.31 L433.02,370.88 L432.71,371.46 L432.38,372.06 L432.02,372.67 L431.6,373.28 L431.11,373.83 L430.53,374.27 L429.88,374.55 L429.19,374.65 L428.5,374.55 L427.81,374.3 L427.17,373.95 L426.59,373.55 L426.04,373.16 L425.5,372.8 L424.95,372.46 L424.39,372.1 L423.83,371.7 L423.32,371.22 L422.9,370.64 L422.6,369.98 L422.44,369.26 L422.4,368.52 L422.44,367.8Z M421.16,367.1 L420.94,366.19 L420.92,365.26 L421.1,364.35 L421.46,363.52 L421.96,362.79 L422.53,362.15 L423.14,361.58 L423.74,361.06 L424.35,360.57 L424.98,360.12 L425.63,359.73 L426.32,359.44 L427.05,359.29 L427.78,359.3 L428.5,359.45 L429.15,359.71 L429.75,360.03 L430.33,360.35 L430.9,360.64 L431.48,360.91 L432.09,361.17 L432.72,361.48 L433.33,361.88 L433.89,362.4 L434.34,363.05 L434.67,363.8 L434.87,364.62 L434.96,365.45 L434.99,366.28 L435,367.1 L435.03,367.89 L435.06,368.7 L435.08,369.56 L435.03,370.44 L434.86,371.32 L434.52,372.13 L434.02,372.82 L433.37,373.32 L432.62,373.62 L431.84,373.76 L431.09,373.79 L430.39,373.78 L429.74,373.82 L429.12,373.92 L428.5,374.09 L427.81,374.29 L427.08,374.42 L426.33,374.41 L425.61,374.22 L424.96,373.82 L424.42,373.24 L424.01,372.56 L423.7,371.83 L423.44,371.13 L423.17,370.47 L422.84,369.86 L422.43,369.26 L421.98,368.62 L421.53,367.9Z M420.55,367.1 L420.71,366.16 L420.97,365.27 L421.3,364.43 L421.69,363.64 L422.13,362.9 L422.62,362.22 L423.16,361.6 L423.73,361.04 L424.34,360.55 L424.97,360.11 L425.62,359.71 L426.3,359.35 L427,359.02 L427.73,358.73 L428.5,358.49 L429.27,358.33 L430.06,358.28 L430.86,358.38 L431.64,358.63 L432.37,359.06 L433.02,359.64 L433.56,360.35 L434.01,361.15 L434.35,362 L434.62,362.86 L434.82,363.73 L434.97,364.58 L435.09,365.42 L435.19,366.26 L435.25,367.1 L435.27,367.92 L435.23,368.75 L435.14,369.58 L434.97,370.41 L434.73,371.24 L434.41,372.04 L434.01,372.81 L433.53,373.52 L432.96,374.16 L432.31,374.7 L431.6,375.1 L430.83,375.36 L430.05,375.47 L429.26,375.42 L428.5,375.24 L427.74,374.98 L427.03,374.65 L426.36,374.32 L425.7,373.98 L425.04,373.66 L424.36,373.33 L423.67,372.98 L422.97,372.55 L422.3,372.03 L421.69,371.4 L421.19,370.67 L420.81,369.84 L420.58,368.94 L420.5,368.02Z M419.86,367.1 L419.77,366.05 L419.84,365 L420.1,363.98 L420.54,363.05 L421.14,362.24 L421.86,361.58 L422.63,361.06 L423.42,360.65 L424.17,360.29 L424.89,359.95 L425.58,359.6 L426.26,359.21 L426.96,358.81 L427.7,358.43 L428.5,358.12 L429.3,357.93 L430.13,357.88 L430.97,357.99 L431.78,358.25 L432.57,358.65 L433.3,359.17 L433.98,359.8 L434.59,360.52 L435.11,361.34 L435.53,362.23 L435.84,363.18 L436.03,364.17 L436.09,365.16 L436.06,366.15 L435.96,367.1 L435.82,367.98 L435.67,368.85 L435.51,369.72 L435.33,370.6 L435.12,371.5 L434.83,372.39 L434.44,373.25 L433.92,374.03 L433.28,374.67 L432.54,375.15 L431.73,375.45 L430.9,375.59 L430.07,375.61 L429.27,375.56 L428.5,375.47 L427.71,375.38 L426.91,375.28 L426.11,375.16 L425.3,374.97 L424.5,374.69 L423.74,374.28 L423.04,373.75 L422.42,373.1 L421.88,372.36 L421.43,371.57 L421.03,370.74 L420.67,369.89 L420.34,369 L420.06,368.07Z M419.79,367.1 L419.79,366.05 L419.83,364.99 L419.91,363.91 L420.09,362.82 L420.42,361.77 L420.93,360.82 L421.64,360.04 L422.51,359.49 L423.46,359.17 L424.43,359.04 L425.34,358.99 L426.17,358.91 L426.94,358.7 L427.69,358.33 L428.5,357.81 L429.36,357.25 L430.33,356.78 L431.36,356.56 L432.37,356.68 L433.27,357.18 L433.99,358.03 L434.5,359.11 L434.81,360.28 L435,361.44 L435.16,362.49 L435.37,363.43 L435.69,364.3 L436.1,365.16 L436.53,366.09 L436.89,367.1 L437.08,368.14 L437.03,369.18 L436.72,370.17 L436.2,371.04 L435.54,371.78 L434.85,372.4 L434.19,372.99 L433.59,373.6 L433.05,374.3 L432.51,375.08 L431.91,375.9 L431.2,376.67 L430.38,377.27 L429.46,377.6 L428.5,377.63 L427.52,377.35 L426.61,376.84 L425.8,376.2 L425.08,375.52 L424.41,374.86 L423.74,374.27 L423.06,373.72 L422.36,373.16 L421.67,372.53 L421.05,371.81 L420.54,370.98 L420.17,370.07 L419.94,369.09 L419.83,368.1Z M419.65,367.1 L419.75,366.05 L419.88,365.01 L420.03,363.96 L420.23,362.89 L420.49,361.81 L420.85,360.75 L421.34,359.73 L421.98,358.82 L422.75,358.06 L423.64,357.48 L424.6,357.08 L425.58,356.85 L426.57,356.73 L427.54,356.69 L428.5,356.69 L429.41,356.71 L430.33,356.76 L431.27,356.88 L432.2,357.12 L433.11,357.51 L433.95,358.09 L434.69,358.85 L435.29,359.76 L435.75,360.77 L436.09,361.84 L436.33,362.92 L436.5,363.98 L436.65,365.02 L436.79,366.05 L436.91,367.1 L436.99,368.13 L437,369.18 L436.9,370.24 L436.67,371.29 L436.31,372.28 L435.81,373.21 L435.2,374.04 L434.51,374.78 L433.76,375.43 L432.96,375.99 L432.13,376.47 L431.26,376.88 L430.36,377.19 L429.44,377.4 L428.5,377.48 L427.51,377.43 L426.53,377.25 L425.58,376.94 L424.67,376.53 L423.8,376.02 L422.98,375.42 L422.22,374.74 L421.52,373.98 L420.91,373.14 L420.4,372.22 L420.01,371.24 L419.76,370.21 L419.62,369.17 L419.6,368.12Z M418.48,367.1 L418.68,365.92 L418.99,364.79 L419.39,363.72 L419.84,362.7 L420.33,361.71 L420.85,360.75 L421.41,359.8 L422.02,358.88 L422.71,358 L423.49,357.19 L424.37,356.5 L425.33,355.95 L426.35,355.56 L427.42,355.36 L428.5,355.33 L429.52,355.47 L430.51,355.76 L431.46,356.19 L432.35,356.73 L433.18,357.38 L433.93,358.12 L434.62,358.95 L435.23,359.83 L435.77,360.76 L436.26,361.73 L436.7,362.72 L437.11,363.74 L437.49,364.81 L437.82,365.92 L438.08,367.1 L438.23,368.28 L438.23,369.48 L438.06,370.67 L437.71,371.81 L437.17,372.86 L436.48,373.77 L435.68,374.54 L434.82,375.17 L433.93,375.69 L433.03,376.13 L432.15,376.52 L431.26,376.88 L430.37,377.2 L429.45,377.48 L428.5,377.67 L427.48,377.75 L426.44,377.69 L425.42,377.47 L424.44,377.1 L423.5,376.59 L422.62,375.97 L421.8,375.25 L421.04,374.46 L420.34,373.59 L419.72,372.65 L419.2,371.64 L418.79,370.55 L418.53,369.42 L418.43,368.26Z M418.33,367.1 L418.08,365.85 L418.02,364.55 L418.19,363.27 L418.61,362.07 L419.22,360.97 L419.96,360.01 L420.77,359.15 L421.6,358.34 L422.43,357.54 L423.25,356.72 L424.12,355.87 L425.07,355.05 L426.13,354.36 L427.28,353.88 L428.5,353.72 L429.65,353.91 L430.74,354.45 L431.7,355.27 L432.52,356.26 L433.22,357.3 L433.83,358.3 L434.43,359.2 L435.07,360 L435.78,360.75 L436.55,361.53 L437.32,362.39 L438.03,363.38 L438.6,364.52 L438.94,365.78 L439.04,367.1 L438.89,368.36 L438.53,369.55 L438.02,370.66 L437.43,371.67 L436.8,372.61 L436.16,373.5 L435.52,374.37 L434.86,375.23 L434.17,376.08 L433.42,376.9 L432.59,377.66 L431.68,378.34 L430.68,378.9 L429.62,379.31 L428.5,379.56 L427.3,379.6 L426.11,379.43 L424.96,379.03 L423.91,378.4 L422.98,377.58 L422.2,376.59 L421.58,375.51 L421.1,374.39 L420.72,373.29 L420.37,372.24 L420.02,371.24 L419.62,370.26 L419.17,369.27 L418.73,368.23Z" fill="none" stroke="#1a1acc" stroke-width="0.8" stroke-opacity="0.95"/>
</g>
<rect x="418.6" y="335.9" width="1.9" height="17.3" fill="#28c828"/>
<rect x="418.6" y="355.1" width="1.9" height="23.4" fill="#0c0cb4"/>
<line x1="421" y1="378.2" x2="444" y2="378.2" stroke="#c82040" stroke-width="1" />
<rect x="417.7" y="295.8" width="83.6" height="83.1" fill="none" stroke="#b0b0e0" stroke-width="1.4"/>
<text x="460.3" y="306.8" font-size="11.0" text-anchor="middle" fill="#222" textLength="20.6" lengthAdjust="spacingAndGlyphs" >LPS</text>
<g clip-path="url(#cb2)">
<path d="M330.17,428.8 L330.17,427.65 L330.4,426.51 L330.83,425.41 L331.43,424.37 L332.14,423.38 L332.93,422.43 L333.78,421.5 L334.69,420.59 L335.69,419.71 L336.82,418.89 L338.08,418.18 L339.49,417.66 L341.01,417.37 L342.57,417.33 L344.1,417.53 L345.76,417.93 L347.3,418.45 L348.72,419.02 L350.08,419.57 L351.41,420.09 L352.8,420.57 L354.26,421.04 L355.82,421.55 L357.52,422.09 L359.48,422.69 L361.89,423.36 L364.94,424.14 L368.68,425.21 L372.75,426.73 L376.41,428.8 L378.7,431.19 L378.88,433.65 L376.8,435.77 L372.95,437.23 L368.24,437.95 L363.59,438.09 L359.61,437.96 L356.48,437.83 L354.09,437.82 L352.17,437.97 L350.49,438.22 L348.92,438.53 L347.35,438.84 L345.75,439.13 L344.1,439.35 L342.6,439.48 L341.08,439.46 L339.57,439.26 L338.12,438.87 L336.8,438.29 L335.63,437.55 L334.62,436.69 L333.77,435.77 L333.04,434.83 L332.39,433.87 L331.78,432.91 L331.23,431.94 L330.74,430.93 L330.37,429.88Z" fill="#44cc44" fill-opacity="0.1" stroke="none"/>
<path d="M341.33,428.8 L341.39,428.58 L341.42,428.35 L341.42,428.12 L341.43,427.87 L341.47,427.61 L341.57,427.35 L341.75,427.13 L342,426.97 L342.31,426.86 L342.64,426.81 L342.97,426.8 L343.28,426.81 L343.56,426.81 L343.83,426.77 L344.1,426.71 L344.43,426.63 L344.8,426.55 L345.18,426.51 L345.57,426.53 L345.93,426.63 L346.23,426.78 L346.47,426.99 L346.65,427.22 L346.8,427.45 L346.94,427.67 L347.1,427.88 L347.32,428.08 L347.58,428.29 L347.87,428.53 L348.11,428.8 L348.24,429.09 L348.21,429.37 L348,429.63 L347.67,429.84 L347.29,430.01 L346.92,430.14 L346.6,430.28 L346.33,430.43 L346.09,430.6 L345.84,430.78 L345.56,430.95 L345.23,431.08 L344.86,431.15 L344.48,431.15 L344.1,431.08 L343.8,430.96 L343.53,430.83 L343.28,430.7 L343.04,430.59 L342.78,430.51 L342.5,430.45 L342.2,430.38 L341.89,430.29 L341.61,430.16 L341.39,429.97 L341.24,429.75 L341.18,429.51 L341.2,429.26 L341.26,429.02Z M339.64,428.8 L339.61,428.43 L339.71,428.07 L339.94,427.74 L340.25,427.45 L340.6,427.21 L340.94,427 L341.25,426.78 L341.52,426.54 L341.77,426.28 L342.05,426.01 L342.37,425.75 L342.76,425.55 L343.19,425.43 L343.65,425.41 L344.1,425.48 L344.59,425.62 L345.03,425.78 L345.46,425.92 L345.89,426.03 L346.36,426.11 L346.87,426.18 L347.41,426.27 L347.95,426.42 L348.43,426.64 L348.82,426.92 L349.11,427.27 L349.29,427.64 L349.4,428.03 L349.46,428.41 L349.49,428.8 L349.52,429.17 L349.52,429.56 L349.47,429.95 L349.33,430.33 L349.06,430.68 L348.68,430.98 L348.21,431.23 L347.7,431.42 L347.15,431.56 L346.6,431.64 L346.06,431.69 L345.55,431.72 L345.06,431.76 L344.58,431.82 L344.1,431.89 L343.66,431.96 L343.2,431.99 L342.73,431.95 L342.3,431.83 L341.93,431.62 L341.63,431.35 L341.4,431.05 L341.22,430.74 L341.06,430.46 L340.87,430.2 L340.64,429.96 L340.36,429.71 L340.07,429.44 L339.81,429.14Z M338.29,428.8 L338.2,428.31 L338.24,427.82 L338.43,427.35 L338.76,426.93 L339.19,426.57 L339.68,426.28 L340.2,426.04 L340.71,425.84 L341.2,425.66 L341.65,425.47 L342.09,425.26 L342.54,425.03 L343.02,424.8 L343.54,424.58 L344.1,424.41 L344.79,424.32 L345.48,424.33 L346.16,424.45 L346.77,424.67 L347.31,424.98 L347.74,425.35 L348.09,425.75 L348.39,426.15 L348.66,426.52 L348.99,426.86 L349.41,427.17 L350,427.48 L350.76,427.83 L351.66,428.25 L352.56,428.8 L353.26,429.43 L353.54,430.12 L353.3,430.76 L352.59,431.28 L351.58,431.63 L350.49,431.84 L349.46,431.97 L348.57,432.06 L347.81,432.15 L347.15,432.26 L346.54,432.39 L345.95,432.53 L345.35,432.67 L344.74,432.78 L344.1,432.86 L343.53,432.88 L342.96,432.83 L342.41,432.69 L341.91,432.49 L341.47,432.22 L341.08,431.92 L340.74,431.6 L340.44,431.27 L340.13,430.96 L339.82,430.65 L339.49,430.34 L339.14,430.01 L338.8,429.64 L338.51,429.24Z M337.13,428.8 L337.33,428.24 L337.57,427.71 L337.82,427.2 L338.06,426.69 L338.33,426.18 L338.64,425.69 L339.03,425.21 L339.5,424.78 L340.05,424.42 L340.67,424.13 L341.34,423.92 L342.02,423.77 L342.71,423.67 L343.4,423.6 L344.1,423.57 L344.9,423.58 L345.69,423.65 L346.47,423.79 L347.19,424.04 L347.82,424.37 L348.35,424.78 L348.77,425.23 L349.12,425.69 L349.45,426.13 L349.84,426.52 L350.41,426.87 L351.22,427.21 L352.34,427.6 L353.7,428.11 L355.12,428.8 L356.28,429.64 L356.85,430.58 L356.63,431.47 L355.7,432.19 L354.33,432.68 L352.84,432.97 L351.45,433.14 L350.25,433.29 L349.22,433.43 L348.3,433.57 L347.41,433.68 L346.54,433.73 L345.69,433.7 L344.87,433.58 L344.1,433.39 L343.49,433.14 L342.94,432.88 L342.43,432.65 L341.93,432.46 L341.38,432.33 L340.78,432.23 L340.11,432.13 L339.39,431.98 L338.67,431.76 L338.03,431.43 L337.51,431 L337.16,430.49 L336.99,429.93 L337,429.36Z M336.5,428.8 L336.59,428.18 L336.6,427.55 L336.57,426.88 L336.57,426.17 L336.68,425.44 L336.98,424.74 L337.51,424.14 L338.24,423.68 L339.11,423.4 L340.05,423.29 L340.98,423.29 L341.84,423.33 L342.63,423.36 L343.37,423.33 L344.1,423.24 L344.97,423.12 L345.88,423.04 L346.82,423.05 L347.73,423.19 L348.56,423.48 L349.28,423.9 L349.88,424.39 L350.41,424.9 L350.95,425.38 L351.64,425.81 L352.59,426.2 L353.89,426.61 L355.57,427.12 L357.47,427.83 L359.22,428.8 L360.32,429.92 L360.38,431.07 L359.33,432.05 L357.49,432.71 L355.37,433.07 L353.4,433.23 L351.8,433.35 L350.58,433.52 L349.62,433.79 L348.78,434.12 L347.94,434.46 L347.03,434.71 L346.05,434.83 L345.06,434.78 L344.1,434.58 L343.33,434.27 L342.64,433.94 L342,433.64 L341.36,433.41 L340.67,433.26 L339.89,433.15 L339.05,433.01 L338.2,432.79 L337.42,432.44 L336.81,431.96 L336.41,431.37 L336.23,430.72 L336.25,430.05 L336.36,429.41Z M335.31,428.8 L335.17,428.06 L335.13,427.3 L335.26,426.54 L335.6,425.83 L336.13,425.19 L336.81,424.64 L337.56,424.17 L338.32,423.76 L339.06,423.35 L339.79,422.93 L340.52,422.49 L341.31,422.06 L342.18,421.71 L343.12,421.51 L344.1,421.48 L345.19,421.65 L346.21,421.97 L347.14,422.38 L347.99,422.79 L348.85,423.14 L349.79,423.42 L350.85,423.65 L352.06,423.87 L353.39,424.16 L354.8,424.55 L356.25,425.08 L357.73,425.76 L359.13,426.6 L360.23,427.63 L360.77,428.8 L360.62,429.94 L359.85,431 L358.72,431.92 L357.46,432.7 L356.18,433.38 L354.93,433.96 L353.7,434.47 L352.5,434.92 L351.28,435.29 L350.01,435.52 L348.69,435.56 L347.38,435.43 L346.16,435.16 L345.07,434.87 L344.1,434.65 L343.29,434.57 L342.45,434.63 L341.5,434.8 L340.44,434.96 L339.31,435.02 L338.21,434.88 L337.23,434.52 L336.48,433.95 L335.99,433.22 L335.73,432.42 L335.64,431.63 L335.61,430.87 L335.57,430.16 L335.46,429.48Z M333.44,428.8 L333.23,427.9 L333.2,426.98 L333.37,426.06 L333.76,425.18 L334.36,424.38 L335.14,423.68 L336.04,423.1 L337.01,422.61 L338.01,422.22 L339.01,421.88 L340,421.57 L340.99,421.29 L342,421.03 L343.03,420.83 L344.1,420.71 L345.34,420.69 L346.57,420.8 L347.77,421.04 L348.89,421.4 L349.93,421.86 L350.89,422.38 L351.78,422.94 L352.64,423.51 L353.53,424.09 L354.54,424.66 L355.78,425.23 L357.36,425.84 L359.29,426.58 L361.41,427.55 L363.32,428.8 L364.56,430.21 L364.76,431.68 L363.84,433.01 L362.05,434.04 L359.8,434.75 L357.52,435.2 L355.49,435.53 L353.78,435.85 L352.31,436.22 L350.96,436.6 L349.61,436.93 L348.23,437.13 L346.81,437.18 L345.42,437.06 L344.1,436.8 L343.03,436.45 L342.05,436.05 L341.14,435.62 L340.3,435.2 L339.49,434.78 L338.72,434.36 L337.96,433.91 L337.24,433.43 L336.55,432.92 L335.9,432.35 L335.29,431.74 L334.73,431.08 L334.22,430.37 L333.78,429.61Z M332.9,428.8 L332.34,427.83 L331.96,426.77 L331.9,425.68 L332.19,424.63 L332.84,423.69 L333.79,422.91 L334.93,422.31 L336.16,421.87 L337.39,421.54 L338.58,421.28 L339.71,421.05 L340.8,420.82 L341.89,420.61 L342.98,420.44 L344.1,420.33 L345.4,420.3 L346.71,420.36 L348.02,420.5 L349.34,420.71 L350.66,420.98 L352.01,421.31 L353.37,421.72 L354.73,422.22 L356.11,422.8 L357.53,423.47 L359.11,424.21 L360.93,425.04 L362.98,426.04 L365.02,427.29 L366.63,428.8 L367.42,430.41 L367.16,432.02 L365.91,433.45 L363.88,434.58 L361.43,435.36 L358.9,435.86 L356.58,436.17 L354.57,436.43 L352.83,436.68 L351.25,436.92 L349.74,437.12 L348.28,437.24 L346.85,437.3 L345.47,437.33 L344.1,437.36 L342.89,437.4 L341.66,437.42 L340.39,437.37 L339.13,437.17 L337.95,436.79 L336.93,436.2 L336.13,435.44 L335.57,434.56 L335.22,433.64 L335,432.74 L334.79,431.91 L334.51,431.14 L334.08,430.4 L333.52,429.63Z M330.57,428.8 L330.69,427.69 L331.13,426.63 L331.78,425.66 L332.54,424.76 L333.3,423.9 L334.02,423.05 L334.71,422.16 L335.44,421.25 L336.29,420.36 L337.32,419.57 L338.54,418.98 L339.91,418.67 L341.35,418.65 L342.77,418.88 L344.1,419.29 L345.48,419.74 L346.78,420.14 L348.06,420.43 L349.41,420.59 L350.91,420.69 L352.53,420.82 L354.22,421.08 L355.88,421.51 L357.46,422.13 L359.03,422.88 L360.73,423.71 L362.77,424.63 L365.26,425.71 L368.04,427.07 L370.7,428.8 L372.64,430.77 L373.23,432.86 L372.1,434.77 L369.35,436.18 L365.59,436.94 L361.61,437.15 L358.05,437.04 L355.18,436.87 L352.97,436.81 L351.23,436.9 L349.77,437.16 L348.43,437.54 L347.08,438.01 L345.65,438.5 L344.1,438.9 L342.66,439.11 L341.19,439.06 L339.8,438.72 L338.58,438.1 L337.56,437.29 L336.75,436.38 L336.09,435.48 L335.46,434.64 L334.78,433.88 L333.99,433.18 L333.1,432.47 L332.19,431.7 L331.38,430.83 L330.81,429.85Z M330.17,428.8 L330.17,427.65 L330.4,426.51 L330.83,425.41 L331.43,424.37 L332.14,423.38 L332.93,422.43 L333.78,421.5 L334.69,420.59 L335.69,419.71 L336.82,418.89 L338.08,418.18 L339.49,417.66 L341.01,417.37 L342.57,417.33 L344.1,417.53 L345.76,417.93 L347.3,418.45 L348.72,419.02 L350.08,419.57 L351.41,420.09 L352.8,420.57 L354.26,421.04 L355.82,421.55 L357.52,422.09 L359.48,422.69 L361.89,423.36 L364.94,424.14 L368.68,425.21 L372.75,426.73 L376.41,428.8 L378.7,431.19 L378.88,433.65 L376.8,435.77 L372.95,437.23 L368.24,437.95 L363.59,438.09 L359.61,437.96 L356.48,437.83 L354.09,437.82 L352.17,437.97 L350.49,438.22 L348.92,438.53 L347.35,438.84 L345.75,439.13 L344.1,439.35 L342.6,439.48 L341.08,439.46 L339.57,439.26 L338.12,438.87 L336.8,438.29 L335.63,437.55 L334.62,436.69 L333.77,435.77 L333.04,434.83 L332.39,433.87 L331.78,432.91 L331.23,431.94 L330.74,430.93 L330.37,429.88Z" fill="none" stroke="#44cc44" stroke-width="0.55" stroke-opacity="0.55"/>
<path d="M334.57,450.8 L334.66,449.11 L334.92,447.45 L335.32,445.87 L335.86,444.37 L336.51,443 L337.25,441.74 L338.06,440.6 L338.94,439.59 L339.86,438.69 L340.81,437.89 L341.8,437.19 L342.82,436.59 L343.88,436.09 L344.97,435.71 L346.1,435.48 L347.25,435.4 L348.41,435.51 L349.56,435.81 L350.68,436.31 L351.76,437 L352.77,437.87 L353.69,438.92 L354.53,440.11 L355.25,441.43 L355.85,442.87 L356.31,444.39 L356.63,445.98 L356.81,447.59 L356.85,449.21 L356.77,450.8 L356.58,452.25 L356.33,453.67 L356.01,455.05 L355.66,456.41 L355.26,457.77 L354.8,459.13 L354.26,460.49 L353.62,461.8 L352.84,463.03 L351.92,464.1 L350.88,464.95 L349.73,465.54 L348.53,465.84 L347.3,465.86 L346.1,465.62 L344.95,465.18 L343.88,464.6 L342.86,463.94 L341.9,463.24 L340.97,462.52 L340.05,461.78 L339.14,460.99 L338.25,460.12 L337.39,459.14 L336.59,458.03 L335.89,456.79 L335.32,455.42 L334.9,453.94 L334.65,452.39Z" fill="#e41e1e" fill-opacity="0.18" stroke="none"/>
<path d="M343.28,450.8 L343.28,450.38 L343.31,449.96 L343.38,449.55 L343.47,449.15 L343.6,448.77 L343.77,448.41 L343.96,448.08 L344.18,447.8 L344.43,447.55 L344.69,447.35 L344.96,447.19 L345.24,447.07 L345.52,446.97 L345.81,446.89 L346.1,446.84 L346.4,446.82 L346.7,446.83 L347,446.91 L347.29,447.04 L347.56,447.25 L347.79,447.51 L348,447.83 L348.17,448.18 L348.3,448.54 L348.42,448.91 L348.53,449.27 L348.64,449.63 L348.76,450 L348.86,450.39 L348.95,450.8 L349,451.2 L349,451.61 L348.95,452.02 L348.83,452.4 L348.66,452.75 L348.45,453.05 L348.21,453.3 L347.96,453.52 L347.71,453.71 L347.46,453.9 L347.21,454.07 L346.95,454.25 L346.68,454.4 L346.4,454.53 L346.1,454.61 L345.8,454.62 L345.49,454.57 L345.2,454.45 L344.92,454.28 L344.67,454.06 L344.44,453.8 L344.24,453.53 L344.05,453.24 L343.87,452.93 L343.72,452.61 L343.58,452.28 L343.46,451.93 L343.37,451.57 L343.31,451.19Z M343.04,450.8 L342.94,450.33 L342.83,449.82 L342.76,449.27 L342.76,448.71 L342.85,448.16 L343.04,447.67 L343.31,447.26 L343.64,446.94 L343.99,446.71 L344.35,446.52 L344.7,446.36 L345.04,446.2 L345.38,446.03 L345.73,445.87 L346.1,445.76 L346.48,445.72 L346.85,445.8 L347.21,445.99 L347.53,446.29 L347.79,446.66 L348.02,447.07 L348.22,447.48 L348.41,447.87 L348.61,448.23 L348.84,448.57 L349.08,448.93 L349.32,449.33 L349.53,449.77 L349.69,450.27 L349.77,450.8 L349.76,451.31 L349.67,451.8 L349.52,452.26 L349.32,452.69 L349.1,453.08 L348.87,453.46 L348.64,453.81 L348.39,454.15 L348.12,454.46 L347.82,454.73 L347.5,454.96 L347.16,455.12 L346.81,455.22 L346.46,455.27 L346.1,455.29 L345.74,455.29 L345.38,455.27 L345.01,455.24 L344.63,455.15 L344.26,455 L343.91,454.77 L343.62,454.43 L343.39,454.01 L343.24,453.53 L343.17,453.03 L343.15,452.53 L343.16,452.06 L343.16,451.62 L343.12,451.21Z M342.14,450.8 L342.07,450.2 L342.06,449.59 L342.13,448.98 L342.27,448.4 L342.49,447.86 L342.76,447.38 L343.07,446.96 L343.4,446.58 L343.74,446.23 L344.1,445.91 L344.46,445.62 L344.84,445.36 L345.25,445.14 L345.67,445 L346.1,444.93 L346.54,444.94 L346.97,445.04 L347.39,445.2 L347.8,445.43 L348.18,445.71 L348.55,446.05 L348.89,446.44 L349.19,446.88 L349.44,447.38 L349.64,447.92 L349.78,448.49 L349.87,449.07 L349.92,449.66 L349.94,450.23 L349.95,450.8 L349.96,451.34 L349.96,451.88 L349.95,452.45 L349.9,453.03 L349.78,453.6 L349.59,454.14 L349.32,454.62 L348.97,455.01 L348.58,455.29 L348.15,455.47 L347.72,455.58 L347.3,455.66 L346.89,455.72 L346.5,455.81 L346.1,455.93 L345.68,456.05 L345.24,456.14 L344.78,456.17 L344.32,456.08 L343.88,455.86 L343.51,455.51 L343.2,455.05 L342.97,454.52 L342.8,453.96 L342.68,453.4 L342.58,452.87 L342.48,452.35 L342.36,451.85 L342.25,451.33Z M341.23,450.8 L341.12,450.06 L341.13,449.31 L341.27,448.59 L341.53,447.93 L341.88,447.36 L342.27,446.88 L342.68,446.46 L343.07,446.06 L343.45,445.66 L343.82,445.24 L344.21,444.8 L344.62,444.39 L345.08,444.05 L345.58,443.83 L346.1,443.77 L346.62,443.86 L347.11,444.09 L347.57,444.41 L348,444.8 L348.4,445.2 L348.78,445.6 L349.16,446.02 L349.52,446.46 L349.86,446.96 L350.14,447.51 L350.36,448.13 L350.49,448.79 L350.55,449.47 L350.54,450.14 L350.5,450.8 L350.46,451.4 L350.43,452.01 L350.41,452.65 L350.38,453.31 L350.32,454.01 L350.18,454.71 L349.94,455.36 L349.6,455.92 L349.16,456.35 L348.65,456.63 L348.12,456.78 L347.59,456.83 L347.07,456.81 L346.58,456.79 L346.1,456.78 L345.62,456.77 L345.14,456.75 L344.65,456.68 L344.17,456.51 L343.72,456.23 L343.33,455.83 L343,455.33 L342.74,454.78 L342.53,454.22 L342.34,453.66 L342.13,453.13 L341.91,452.6 L341.66,452.04 L341.42,451.45Z M340.52,450.8 L340.49,449.97 L340.57,449.14 L340.74,448.35 L341.02,447.61 L341.37,446.95 L341.78,446.38 L342.23,445.89 L342.69,445.47 L343.15,445.09 L343.62,444.74 L344.08,444.4 L344.55,444.08 L345.04,443.77 L345.56,443.5 L346.1,443.29 L346.67,443.17 L347.25,443.15 L347.84,443.26 L348.41,443.49 L348.94,443.87 L349.42,444.36 L349.84,444.95 L350.18,445.63 L350.45,446.35 L350.65,447.1 L350.81,447.85 L350.92,448.59 L351.02,449.33 L351.1,450.06 L351.17,450.8 L351.23,451.51 L351.25,452.24 L351.22,452.99 L351.12,453.75 L350.94,454.48 L350.65,455.16 L350.28,455.76 L349.84,456.27 L349.34,456.67 L348.81,456.98 L348.26,457.2 L347.72,457.37 L347.18,457.49 L346.64,457.58 L346.1,457.64 L345.55,457.65 L345,457.59 L344.46,457.46 L343.93,457.23 L343.43,456.9 L342.97,456.48 L342.56,455.99 L342.19,455.44 L341.86,454.86 L341.56,454.26 L341.28,453.63 L341.03,452.97 L340.8,452.28 L340.63,451.56Z M339.94,450.8 L339.95,449.89 L340.05,448.99 L340.22,448.11 L340.45,447.26 L340.73,446.43 L341.07,445.65 L341.47,444.92 L341.93,444.27 L342.46,443.74 L343.04,443.33 L343.65,443.06 L344.28,442.91 L344.9,442.85 L345.51,442.85 L346.1,442.88 L346.69,442.9 L347.29,442.94 L347.9,443 L348.52,443.15 L349.13,443.41 L349.7,443.82 L350.21,444.38 L350.63,445.06 L350.96,445.83 L351.21,446.65 L351.4,447.48 L351.57,448.3 L351.72,449.12 L351.88,449.94 L352.02,450.8 L352.12,451.63 L352.14,452.49 L352.04,453.35 L351.83,454.16 L351.49,454.9 L351.06,455.55 L350.56,456.1 L350.04,456.57 L349.52,457 L349,457.41 L348.47,457.83 L347.93,458.24 L347.36,458.62 L346.75,458.92 L346.1,459.07 L345.44,459.06 L344.8,458.85 L344.21,458.48 L343.68,457.98 L343.21,457.4 L342.8,456.79 L342.41,456.2 L342.03,455.63 L341.64,455.07 L341.24,454.5 L340.85,453.88 L340.5,453.2 L340.22,452.45 L340.03,451.64Z M339.53,450.8 L339.53,449.83 L339.63,448.86 L339.82,447.93 L340.1,447.03 L340.43,446.19 L340.81,445.38 L341.22,444.61 L341.66,443.85 L342.14,443.12 L342.67,442.44 L343.27,441.84 L343.93,441.38 L344.64,441.1 L345.37,441.04 L346.1,441.17 L346.79,441.49 L347.44,441.92 L348.03,442.42 L348.59,442.93 L349.13,443.42 L349.67,443.87 L350.24,444.32 L350.83,444.8 L351.4,445.37 L351.94,446.05 L352.39,446.86 L352.72,447.77 L352.91,448.76 L352.96,449.78 L352.89,450.8 L352.73,451.72 L352.5,452.59 L352.24,453.43 L351.96,454.24 L351.65,455.02 L351.31,455.79 L350.92,456.52 L350.48,457.21 L349.98,457.83 L349.42,458.37 L348.81,458.81 L348.16,459.16 L347.49,459.42 L346.8,459.58 L346.1,459.66 L345.39,459.64 L344.69,459.52 L344.01,459.29 L343.35,458.93 L342.75,458.46 L342.2,457.88 L341.72,457.22 L341.3,456.5 L340.93,455.75 L340.6,454.99 L340.3,454.2 L340.03,453.4 L339.8,452.56 L339.63,451.7Z M338.87,450.8 L339,449.75 L339.19,448.73 L339.4,447.73 L339.63,446.74 L339.89,445.75 L340.21,444.77 L340.62,443.84 L341.12,443.01 L341.73,442.33 L342.42,441.82 L343.16,441.49 L343.91,441.3 L344.65,441.2 L345.38,441.12 L346.1,441.04 L346.84,440.93 L347.6,440.85 L348.39,440.86 L349.19,441.01 L349.96,441.38 L350.65,441.98 L351.22,442.78 L351.67,443.74 L351.99,444.77 L352.22,445.82 L352.42,446.84 L352.61,447.82 L352.83,448.78 L353.06,449.77 L353.26,450.8 L353.37,451.81 L353.36,452.83 L353.17,453.83 L352.83,454.75 L352.34,455.55 L351.78,456.24 L351.18,456.83 L350.6,457.39 L350.05,457.96 L349.51,458.59 L348.96,459.26 L348.35,459.95 L347.67,460.56 L346.91,461.01 L346.1,461.22 L345.27,461.16 L344.48,460.84 L343.76,460.3 L343.12,459.62 L342.55,458.9 L342.03,458.18 L341.52,457.5 L341,456.85 L340.48,456.19 L339.96,455.47 L339.51,454.67 L339.15,453.78 L338.93,452.81 L338.84,451.81Z M338.3,450.8 L338.37,449.66 L338.51,448.53 L338.69,447.41 L338.92,446.3 L339.21,445.19 L339.56,444.11 L340.01,443.07 L340.55,442.12 L341.2,441.29 L341.93,440.62 L342.72,440.12 L343.56,439.78 L344.41,439.61 L345.26,439.57 L346.1,439.66 L346.92,439.85 L347.71,440.14 L348.47,440.53 L349.19,441.02 L349.87,441.59 L350.51,442.25 L351.1,442.97 L351.65,443.76 L352.16,444.59 L352.63,445.48 L353.06,446.43 L353.44,447.44 L353.74,448.51 L353.95,449.64 L354.05,450.8 L354.02,451.9 L353.87,452.98 L353.61,454.02 L353.27,455.01 L352.86,455.94 L352.41,456.84 L351.93,457.72 L351.41,458.58 L350.85,459.42 L350.22,460.2 L349.51,460.88 L348.72,461.41 L347.86,461.74 L346.98,461.84 L346.1,461.7 L345.26,461.36 L344.48,460.87 L343.76,460.3 L343.1,459.69 L342.47,459.09 L341.85,458.51 L341.23,457.92 L340.62,457.31 L340.02,456.63 L339.47,455.85 L339,454.97 L338.64,453.99 L338.41,452.95 L338.3,451.88Z M337.44,450.8 L337.46,449.52 L337.59,448.25 L337.84,447.02 L338.18,445.83 L338.62,444.71 L339.14,443.68 L339.74,442.73 L340.41,441.89 L341.13,441.16 L341.9,440.54 L342.7,440.04 L343.53,439.66 L344.38,439.38 L345.24,439.22 L346.1,439.18 L346.96,439.25 L347.81,439.44 L348.65,439.75 L349.45,440.19 L350.23,440.73 L350.96,441.37 L351.66,442.09 L352.33,442.9 L352.96,443.77 L353.56,444.73 L354.12,445.77 L354.6,446.91 L354.99,448.14 L355.24,449.45 L355.33,450.8 L355.23,452.06 L354.94,453.28 L354.49,454.4 L353.92,455.39 L353.26,456.25 L352.57,457 L351.89,457.67 L351.23,458.31 L350.6,458.97 L349.98,459.65 L349.33,460.36 L348.63,461.05 L347.85,461.67 L347.01,462.15 L346.1,462.45 L345.17,462.51 L344.24,462.33 L343.36,461.93 L342.54,461.35 L341.79,460.64 L341.12,459.84 L340.5,459 L339.93,458.12 L339.4,457.22 L338.9,456.28 L338.45,455.29 L338.06,454.24 L337.75,453.14 L337.54,451.99Z M337.04,450.8 L337.4,449.51 L337.86,448.33 L338.34,447.25 L338.8,446.22 L339.19,445.18 L339.53,444.07 L339.84,442.86 L340.21,441.58 L340.67,440.28 L341.29,439.06 L342.06,438.02 L342.98,437.27 L344,436.86 L345.05,436.78 L346.1,436.98 L347.1,437.4 L348.04,437.95 L348.92,438.56 L349.77,439.19 L350.59,439.85 L351.39,440.54 L352.16,441.32 L352.87,442.21 L353.5,443.22 L354.02,444.36 L354.42,445.58 L354.69,446.87 L354.84,448.18 L354.91,449.5 L354.89,450.8 L354.81,452.01 L354.66,453.2 L354.44,454.37 L354.14,455.52 L353.75,456.62 L353.27,457.67 L352.71,458.65 L352.09,459.56 L351.4,460.41 L350.65,461.19 L349.85,461.9 L348.99,462.52 L348.07,463.01 L347.1,463.35 L346.1,463.48 L345.1,463.4 L344.12,463.09 L343.19,462.6 L342.33,461.96 L341.54,461.22 L340.79,460.44 L340.07,459.63 L339.37,458.79 L338.68,457.9 L338.04,456.93 L337.49,455.85 L337.08,454.66 L336.86,453.39 L336.85,452.08Z M336.06,450.8 L335.97,449.3 L336.07,447.8 L336.37,446.34 L336.85,444.99 L337.47,443.78 L338.19,442.7 L338.98,441.76 L339.8,440.94 L340.64,440.22 L341.5,439.57 L342.37,439 L343.26,438.5 L344.18,438.07 L345.12,437.72 L346.1,437.47 L347.11,437.32 L348.14,437.29 L349.19,437.41 L350.24,437.71 L351.26,438.2 L352.23,438.91 L353.1,439.85 L353.84,440.98 L354.43,442.27 L354.86,443.67 L355.15,445.12 L355.32,446.58 L355.41,448.01 L355.44,449.42 L355.44,450.8 L355.4,452.09 L355.32,453.38 L355.15,454.68 L354.87,455.95 L354.46,457.16 L353.91,458.28 L353.24,459.27 L352.48,460.14 L351.65,460.88 L350.8,461.53 L349.93,462.13 L349.03,462.69 L348.1,463.23 L347.13,463.7 L346.1,464.06 L345.03,464.24 L343.94,464.18 L342.89,463.84 L341.9,463.23 L341.02,462.39 L340.27,461.37 L339.64,460.25 L339.1,459.11 L338.61,457.98 L338.13,456.87 L337.65,455.76 L337.16,454.63 L336.71,453.43 L336.32,452.16Z M335.65,450.8 L335.92,449.29 L336.27,447.86 L336.64,446.47 L337.03,445.11 L337.44,443.75 L337.89,442.4 L338.43,441.07 L339.08,439.82 L339.87,438.71 L340.78,437.81 L341.79,437.15 L342.86,436.73 L343.95,436.53 L345.03,436.48 L346.1,436.54 L347.15,436.66 L348.21,436.82 L349.27,437.05 L350.34,437.38 L351.4,437.86 L352.42,438.55 L353.34,439.47 L354.13,440.61 L354.77,441.92 L355.24,443.37 L355.56,444.87 L355.75,446.38 L355.87,447.87 L355.93,449.34 L355.96,450.8 L355.95,452.17 L355.9,453.55 L355.78,454.94 L355.55,456.34 L355.19,457.72 L354.7,459.03 L354.07,460.26 L353.31,461.35 L352.44,462.3 L351.48,463.09 L350.46,463.69 L349.38,464.12 L348.29,464.35 L347.18,464.4 L346.1,464.28 L345.05,464.02 L344.03,463.64 L343.05,463.18 L342.09,462.67 L341.15,462.11 L340.2,461.5 L339.26,460.81 L338.34,460.01 L337.48,459.05 L336.72,457.94 L336.12,456.66 L335.7,455.25 L335.49,453.77 L335.49,452.27Z M334.57,450.8 L334.66,449.11 L334.92,447.45 L335.32,445.87 L335.86,444.37 L336.51,443 L337.25,441.74 L338.06,440.6 L338.94,439.59 L339.86,438.69 L340.81,437.89 L341.8,437.19 L342.82,436.59 L343.88,436.09 L344.97,435.71 L346.1,435.48 L347.25,435.4 L348.41,435.51 L349.56,435.81 L350.68,436.31 L351.76,437 L352.77,437.87 L353.69,438.92 L354.53,440.11 L355.25,441.43 L355.85,442.87 L356.31,444.39 L356.63,445.98 L356.81,447.59 L356.85,449.21 L356.77,450.8 L356.58,452.25 L356.33,453.67 L356.01,455.05 L355.66,456.41 L355.26,457.77 L354.8,459.13 L354.26,460.49 L353.62,461.8 L352.84,463.03 L351.92,464.1 L350.88,464.95 L349.73,465.54 L348.53,465.84 L347.3,465.86 L346.1,465.62 L344.95,465.18 L343.88,464.6 L342.86,463.94 L341.9,463.24 L340.97,462.52 L340.05,461.78 L339.14,460.99 L338.25,460.12 L337.39,459.14 L336.59,458.03 L335.89,456.79 L335.32,455.42 L334.9,453.94 L334.65,452.39Z" fill="none" stroke="#e41e1e" stroke-width="0.75" stroke-opacity="0.85"/>
<ellipse cx="341.1" cy="453.3" rx="8.92" ry="10.62" fill="#fff" fill-opacity="0.55"/>
<path d="M331.55,453.3 L331.23,452.12 L330.93,450.84 L330.75,449.48 L330.76,448.07 L331.02,446.69 L331.54,445.41 L332.29,444.29 L333.22,443.35 L334.25,442.59 L335.35,441.98 L336.47,441.47 L337.6,441.04 L338.74,440.68 L339.91,440.42 L341.1,440.29 L342.24,440.35 L343.36,440.62 L344.43,441.11 L345.4,441.79 L346.29,442.61 L347.08,443.49 L347.83,444.4 L348.55,445.32 L349.27,446.24 L349.98,447.2 L350.66,448.24 L351.24,449.38 L351.65,450.63 L351.86,451.95 L351.81,453.3 L351.54,454.5 L351.07,455.62 L350.49,456.64 L349.87,457.58 L349.26,458.46 L348.7,459.35 L348.17,460.27 L347.63,461.25 L347.04,462.26 L346.35,463.26 L345.53,464.19 L344.56,464.98 L343.48,465.57 L342.31,465.95 L341.1,466.1 L339.82,466.05 L338.56,465.8 L337.35,465.38 L336.21,464.79 L335.17,464.03 L334.27,463.13 L333.54,462.08 L332.98,460.94 L332.61,459.75 L332.39,458.56 L332.27,457.41 L332.17,456.33 L332.04,455.31 L331.84,454.32Z" fill="#1a1acc" fill-opacity="0.12" stroke="none"/>
<path d="M338.84,453.3 L338.88,453.04 L338.94,452.78 L339.02,452.53 L339.09,452.28 L339.16,452.03 L339.24,451.77 L339.34,451.5 L339.47,451.25 L339.64,451.02 L339.85,450.84 L340.09,450.71 L340.34,450.65 L340.61,450.66 L340.86,450.71 L341.1,450.79 L341.31,450.88 L341.52,450.97 L341.71,451.05 L341.91,451.14 L342.1,451.23 L342.3,451.34 L342.48,451.48 L342.65,451.64 L342.8,451.83 L342.93,452.04 L343.04,452.27 L343.14,452.51 L343.24,452.76 L343.32,453.02 L343.38,453.3 L343.42,453.57 L343.42,453.84 L343.37,454.11 L343.27,454.36 L343.12,454.58 L342.93,454.76 L342.73,454.91 L342.52,455.02 L342.31,455.12 L342.11,455.22 L341.92,455.32 L341.73,455.43 L341.53,455.54 L341.32,455.63 L341.1,455.7 L340.86,455.72 L340.61,455.69 L340.38,455.61 L340.17,455.49 L339.97,455.35 L339.79,455.19 L339.62,455.02 L339.46,454.84 L339.3,454.66 L339.16,454.47 L339.02,454.27 L338.92,454.04 L338.85,453.8 L338.83,453.55Z M338.3,453.3 L338.26,452.96 L338.24,452.61 L338.27,452.26 L338.35,451.91 L338.48,451.58 L338.65,451.28 L338.87,451.01 L339.11,450.79 L339.38,450.6 L339.65,450.46 L339.94,450.33 L340.22,450.23 L340.51,450.15 L340.8,450.08 L341.1,450.02 L341.39,449.98 L341.69,449.98 L341.99,450.03 L342.28,450.13 L342.56,450.3 L342.8,450.52 L343,450.79 L343.15,451.1 L343.27,451.42 L343.36,451.74 L343.44,452.06 L343.51,452.37 L343.58,452.67 L343.66,452.98 L343.74,453.3 L343.8,453.61 L343.84,453.94 L343.83,454.27 L343.77,454.6 L343.64,454.91 L343.46,455.18 L343.24,455.41 L342.99,455.6 L342.72,455.75 L342.46,455.87 L342.19,455.98 L341.93,456.09 L341.66,456.19 L341.39,456.28 L341.1,456.36 L340.79,456.4 L340.47,456.4 L340.15,456.34 L339.85,456.22 L339.58,456.05 L339.35,455.82 L339.15,455.57 L338.99,455.29 L338.85,455.01 L338.74,454.72 L338.64,454.45 L338.54,454.17 L338.45,453.89 L338.37,453.6Z M337.51,453.3 L337.49,452.87 L337.51,452.43 L337.59,452 L337.71,451.58 L337.87,451.18 L338.08,450.81 L338.32,450.46 L338.6,450.15 L338.92,449.88 L339.25,449.67 L339.61,449.5 L339.98,449.4 L340.36,449.34 L340.73,449.33 L341.1,449.36 L341.44,449.42 L341.78,449.52 L342.1,449.64 L342.41,449.79 L342.71,449.98 L342.99,450.2 L343.25,450.45 L343.49,450.74 L343.69,451.06 L343.86,451.4 L344.01,451.76 L344.13,452.13 L344.23,452.51 L344.32,452.9 L344.39,453.3 L344.43,453.68 L344.44,454.08 L344.42,454.48 L344.34,454.88 L344.22,455.27 L344.04,455.64 L343.8,455.97 L343.53,456.25 L343.22,456.49 L342.88,456.68 L342.53,456.83 L342.18,456.93 L341.82,456.98 L341.45,457 L341.1,456.97 L340.74,456.9 L340.39,456.79 L340.06,456.65 L339.75,456.47 L339.46,456.27 L339.19,456.05 L338.94,455.81 L338.69,455.57 L338.46,455.3 L338.24,455.03 L338.03,454.73 L337.85,454.4 L337.7,454.06 L337.58,453.69Z M336.89,453.3 L336.92,452.8 L337,452.31 L337.13,451.84 L337.31,451.38 L337.52,450.95 L337.77,450.55 L338.05,450.17 L338.35,449.83 L338.69,449.52 L339.04,449.25 L339.42,449.02 L339.82,448.83 L340.24,448.69 L340.66,448.59 L341.1,448.54 L341.52,448.54 L341.94,448.61 L342.35,448.74 L342.73,448.94 L343.09,449.19 L343.42,449.5 L343.71,449.85 L343.97,450.23 L344.2,450.62 L344.41,451.03 L344.6,451.44 L344.78,451.88 L344.94,452.33 L345.07,452.8 L345.15,453.3 L345.17,453.77 L345.12,454.23 L344.99,454.69 L344.8,455.11 L344.56,455.49 L344.28,455.83 L343.98,456.14 L343.67,456.42 L343.35,456.69 L343.02,456.94 L342.68,457.18 L342.32,457.4 L341.93,457.58 L341.52,457.71 L341.1,457.76 L340.65,457.75 L340.22,457.65 L339.8,457.49 L339.41,457.27 L339.05,457.01 L338.72,456.73 L338.4,456.43 L338.11,456.12 L337.83,455.78 L337.57,455.43 L337.34,455.05 L337.15,454.64 L337,454.21 L336.91,453.76Z M335.62,453.3 L335.79,452.67 L336.09,452.09 L336.49,451.6 L336.91,451.18 L337.31,450.81 L337.66,450.46 L337.97,450.09 L338.24,449.69 L338.52,449.27 L338.83,448.84 L339.2,448.46 L339.63,448.16 L340.1,447.96 L340.6,447.87 L341.1,447.87 L341.57,447.95 L342.03,448.07 L342.49,448.21 L342.94,448.39 L343.38,448.6 L343.81,448.86 L344.2,449.2 L344.55,449.6 L344.83,450.07 L345.05,450.59 L345.21,451.12 L345.35,451.66 L345.47,452.19 L345.6,452.74 L345.72,453.3 L345.83,453.84 L345.88,454.41 L345.85,454.99 L345.7,455.54 L345.42,456.03 L345.04,456.43 L344.58,456.73 L344.08,456.93 L343.6,457.06 L343.15,457.18 L342.73,457.32 L342.34,457.49 L341.96,457.71 L341.55,457.95 L341.1,458.14 L340.6,458.26 L340.09,458.25 L339.6,458.12 L339.16,457.87 L338.76,457.54 L338.41,457.17 L338.08,456.81 L337.73,456.47 L337.35,456.15 L336.93,455.81 L336.5,455.44 L336.1,455 L335.79,454.48 L335.62,453.9Z M336.04,453.3 L336.13,452.71 L336.25,452.13 L336.38,451.56 L336.53,450.99 L336.7,450.42 L336.91,449.84 L337.16,449.27 L337.47,448.71 L337.83,448.19 L338.26,447.72 L338.76,447.33 L339.31,447.04 L339.9,446.86 L340.5,446.81 L341.1,446.87 L341.65,447.04 L342.17,447.3 L342.65,447.62 L343.09,447.97 L343.51,448.33 L343.91,448.69 L344.31,449.05 L344.72,449.41 L345.14,449.8 L345.55,450.24 L345.94,450.74 L346.27,451.3 L346.52,451.93 L346.66,452.6 L346.68,453.3 L346.58,453.93 L346.37,454.53 L346.07,455.07 L345.72,455.55 L345.34,455.98 L344.95,456.37 L344.57,456.73 L344.21,457.08 L343.84,457.43 L343.47,457.79 L343.07,458.14 L342.63,458.46 L342.16,458.75 L341.64,458.97 L341.1,459.12 L340.51,459.17 L339.91,459.14 L339.33,459.01 L338.76,458.8 L338.22,458.51 L337.72,458.16 L337.28,457.74 L336.89,457.26 L336.56,456.74 L336.31,456.19 L336.13,455.61 L336.02,455.03 L335.97,454.44 L335.99,453.86Z M334.94,453.3 L335.1,452.58 L335.33,451.91 L335.6,451.27 L335.88,450.66 L336.18,450.07 L336.48,449.48 L336.8,448.9 L337.15,448.32 L337.56,447.76 L338.03,447.26 L338.57,446.84 L339.16,446.52 L339.8,446.34 L340.45,446.28 L341.1,446.35 L341.7,446.51 L342.27,446.74 L342.82,447.01 L343.34,447.31 L343.86,447.61 L344.37,447.94 L344.88,448.3 L345.38,448.71 L345.85,449.19 L346.26,449.76 L346.59,450.39 L346.82,451.09 L346.95,451.82 L346.97,452.57 L346.89,453.3 L346.75,453.95 L346.55,454.57 L346.33,455.16 L346.09,455.73 L345.84,456.3 L345.57,456.86 L345.27,457.41 L344.92,457.94 L344.51,458.45 L344.05,458.89 L343.52,459.26 L342.95,459.52 L342.34,459.68 L341.72,459.72 L341.1,459.66 L340.47,459.52 L339.88,459.32 L339.31,459.07 L338.76,458.8 L338.22,458.51 L337.69,458.21 L337.16,457.87 L336.65,457.49 L336.16,457.06 L335.71,456.55 L335.35,455.98 L335.08,455.35 L334.92,454.67 L334.88,453.98Z M334.55,453.3 L334.66,452.53 L334.78,451.77 L334.92,451.02 L335.05,450.24 L335.22,449.44 L335.47,448.65 L335.82,447.9 L336.3,447.24 L336.9,446.74 L337.6,446.41 L338.34,446.24 L339.07,446.21 L339.78,446.24 L340.45,446.28 L341.1,446.29 L341.72,446.26 L342.36,446.24 L343.02,446.27 L343.68,446.41 L344.3,446.69 L344.87,447.13 L345.35,447.69 L345.74,448.32 L346.08,448.99 L346.41,449.65 L346.75,450.31 L347.12,450.97 L347.51,451.68 L347.86,452.45 L348.1,453.3 L348.16,454.11 L348,454.91 L347.61,455.62 L347.04,456.2 L346.38,456.64 L345.7,456.96 L345.09,457.23 L344.59,457.55 L344.19,457.96 L343.85,458.53 L343.5,459.21 L343.07,459.94 L342.52,460.61 L341.85,461.11 L341.1,461.34 L340.3,461.29 L339.54,460.96 L338.89,460.42 L338.34,459.79 L337.87,459.14 L337.45,458.55 L337.03,458.03 L336.57,457.57 L336.08,457.11 L335.59,456.63 L335.15,456.07 L334.81,455.44 L334.6,454.75 L334.52,454.02Z M333.71,453.3 L333.8,452.43 L334,451.58 L334.31,450.79 L334.71,450.06 L335.16,449.4 L335.65,448.8 L336.14,448.23 L336.64,447.67 L337.14,447.1 L337.67,446.54 L338.24,446 L338.87,445.51 L339.57,445.11 L340.32,444.85 L341.1,444.72 L341.86,444.75 L342.6,444.9 L343.32,445.17 L344.01,445.52 L344.67,445.94 L345.29,446.43 L345.88,446.98 L346.41,447.61 L346.86,448.32 L347.23,449.09 L347.49,449.91 L347.66,450.76 L347.75,451.62 L347.78,452.46 L347.77,453.3 L347.74,454.06 L347.69,454.83 L347.61,455.62 L347.47,456.41 L347.24,457.19 L346.9,457.92 L346.44,458.56 L345.86,459.09 L345.21,459.49 L344.5,459.76 L343.79,459.93 L343.1,460.04 L342.43,460.14 L341.77,460.25 L341.1,460.38 L340.38,460.51 L339.61,460.61 L338.82,460.63 L338.02,460.53 L337.25,460.28 L336.53,459.87 L335.9,459.34 L335.37,458.7 L334.93,457.99 L334.57,457.24 L334.27,456.48 L334.03,455.7 L333.85,454.91 L333.73,454.11Z M334.26,453.3 L334.18,452.47 L334.1,451.61 L334.07,450.7 L334.12,449.77 L334.28,448.83 L334.57,447.91 L335,447.06 L335.55,446.3 L336.21,445.65 L336.94,445.11 L337.72,444.68 L338.55,444.36 L339.39,444.15 L340.24,444.04 L341.1,444.04 L341.91,444.13 L342.7,444.32 L343.47,444.62 L344.2,445.01 L344.88,445.5 L345.51,446.07 L346.08,446.71 L346.59,447.42 L347.03,448.17 L347.4,448.97 L347.71,449.8 L347.97,450.64 L348.17,451.51 L348.33,452.4 L348.44,453.3 L348.49,454.15 L348.47,455.01 L348.36,455.88 L348.14,456.73 L347.81,457.54 L347.36,458.28 L346.8,458.92 L346.15,459.45 L345.45,459.86 L344.73,460.18 L344,460.43 L343.28,460.65 L342.57,460.86 L341.85,461.1 L341.1,461.34 L340.27,461.58 L339.38,461.75 L338.46,461.8 L337.53,461.69 L336.64,461.37 L335.85,460.85 L335.21,460.14 L334.74,459.28 L334.45,458.35 L334.31,457.4 L334.27,456.48 L334.29,455.61 L334.31,454.81 L334.31,454.05Z M332.11,453.3 L332.26,452.24 L332.54,451.23 L332.91,450.28 L333.37,449.39 L333.89,448.57 L334.45,447.81 L335.05,447.11 L335.68,446.47 L336.35,445.88 L337.06,445.34 L337.79,444.86 L338.56,444.42 L339.37,444.04 L340.21,443.73 L341.1,443.49 L341.98,443.37 L342.87,443.41 L343.74,443.62 L344.57,444.03 L345.3,444.63 L345.92,445.4 L346.42,446.27 L346.8,447.19 L347.11,448.1 L347.4,448.97 L347.73,449.79 L348.12,450.58 L348.59,451.41 L349.1,452.3 L349.58,453.3 L349.96,454.32 L350.15,455.41 L350.09,456.5 L349.76,457.52 L349.17,458.4 L348.38,459.09 L347.48,459.59 L346.54,459.91 L345.62,460.12 L344.78,460.28 L344.01,460.45 L343.29,460.67 L342.58,460.94 L341.86,461.23 L341.1,461.49 L340.26,461.68 L339.38,461.74 L338.5,461.65 L337.64,461.42 L336.82,461.05 L336.05,460.57 L335.32,460.01 L334.64,459.38 L334,458.69 L333.43,457.93 L332.92,457.11 L332.52,456.21 L332.24,455.27 L332.1,454.29Z M331.93,453.3 L332.08,452.22 L332.32,451.18 L332.61,450.17 L332.95,449.18 L333.34,448.21 L333.78,447.26 L334.3,446.34 L334.89,445.47 L335.59,444.67 L336.37,443.99 L337.23,443.43 L338.16,443.03 L339.13,442.78 L340.12,442.7 L341.1,442.75 L342.02,442.93 L342.9,443.22 L343.75,443.6 L344.56,444.06 L345.33,444.59 L346.06,445.18 L346.75,445.84 L347.39,446.56 L347.98,447.35 L348.51,448.21 L348.96,449.13 L349.33,450.12 L349.59,451.15 L349.76,452.22 L349.81,453.3 L349.76,454.3 L349.61,455.28 L349.37,456.24 L349.05,457.18 L348.66,458.08 L348.21,458.95 L347.68,459.79 L347.08,460.57 L346.4,461.29 L345.64,461.91 L344.8,462.41 L343.91,462.77 L342.98,462.97 L342.03,463.01 L341.1,462.91 L340.16,462.68 L339.26,462.36 L338.4,461.98 L337.58,461.57 L336.78,461.13 L335.98,460.66 L335.2,460.15 L334.44,459.57 L333.73,458.9 L333.1,458.13 L332.58,457.27 L332.2,456.32 L331.96,455.33 L331.88,454.31Z M330.84,453.3 L331.05,452.1 L331.51,450.98 L332.13,449.99 L332.83,449.12 L333.53,448.33 L334.17,447.57 L334.72,446.78 L335.23,445.89 L335.74,444.92 L336.32,443.89 L337.02,442.88 L337.87,441.99 L338.86,441.3 L339.95,440.89 L341.1,440.78 L342.19,440.96 L343.22,441.4 L344.18,442.03 L345.03,442.8 L345.79,443.64 L346.46,444.52 L347.07,445.41 L347.62,446.31 L348.13,447.22 L348.6,448.14 L349.04,449.09 L349.45,450.07 L349.81,451.1 L350.11,452.17 L350.33,453.3 L350.43,454.37 L350.39,455.46 L350.18,456.53 L349.8,457.54 L349.27,458.46 L348.61,459.28 L347.87,459.98 L347.1,460.6 L346.32,461.17 L345.54,461.73 L344.76,462.3 L343.94,462.89 L343.07,463.45 L342.12,463.92 L341.1,464.24 L339.99,464.33 L338.89,464.15 L337.86,463.72 L336.94,463.06 L336.15,462.26 L335.47,461.4 L334.86,460.54 L334.28,459.72 L333.66,458.95 L333.01,458.18 L332.34,457.38 L331.71,456.49 L331.2,455.5 L330.89,454.42Z M331.43,453.3 L331.49,452.15 L331.51,450.98 L331.55,449.78 L331.68,448.54 L331.97,447.31 L332.47,446.18 L333.18,445.19 L334.06,444.41 L335.04,443.82 L336.06,443.38 L337.06,443 L338.04,442.61 L339.02,442.16 L340.02,441.65 L341.1,441.15 L342.21,440.78 L343.36,440.64 L344.5,440.84 L345.54,441.42 L346.42,442.34 L347.07,443.51 L347.53,444.8 L347.84,446.07 L348.11,447.23 L348.44,448.26 L348.89,449.17 L349.48,450.06 L350.17,451.01 L350.86,452.08 L351.45,453.3 L351.82,454.53 L351.89,455.81 L351.64,457.05 L351.12,458.18 L350.37,459.16 L349.5,459.98 L348.57,460.67 L347.64,461.26 L346.73,461.78 L345.83,462.27 L344.92,462.7 L344,463.07 L343.05,463.35 L342.08,463.52 L341.1,463.59 L340.07,463.57 L339.03,463.5 L337.97,463.37 L336.89,463.18 L335.79,462.91 L334.7,462.51 L333.66,461.94 L332.74,461.17 L332,460.21 L331.49,459.1 L331.21,457.9 L331.13,456.69 L331.2,455.5 L331.32,454.37Z M331.55,453.3 L331.23,452.12 L330.93,450.84 L330.75,449.48 L330.76,448.07 L331.02,446.69 L331.54,445.41 L332.29,444.29 L333.22,443.35 L334.25,442.59 L335.35,441.98 L336.47,441.47 L337.6,441.04 L338.74,440.68 L339.91,440.42 L341.1,440.29 L342.24,440.35 L343.36,440.62 L344.43,441.11 L345.4,441.79 L346.29,442.61 L347.08,443.49 L347.83,444.4 L348.55,445.32 L349.27,446.24 L349.98,447.2 L350.66,448.24 L351.24,449.38 L351.65,450.63 L351.86,451.95 L351.81,453.3 L351.54,454.5 L351.07,455.62 L350.49,456.64 L349.87,457.58 L349.26,458.46 L348.7,459.35 L348.17,460.27 L347.63,461.25 L347.04,462.26 L346.35,463.26 L345.53,464.19 L344.56,464.98 L343.48,465.57 L342.31,465.95 L341.1,466.1 L339.82,466.05 L338.56,465.8 L337.35,465.38 L336.21,464.79 L335.17,464.03 L334.27,463.13 L333.54,462.08 L332.98,460.94 L332.61,459.75 L332.39,458.56 L332.27,457.41 L332.17,456.33 L332.04,455.31 L331.84,454.32Z" fill="none" stroke="#1a1acc" stroke-width="0.8" stroke-opacity="0.95"/>
</g>
<rect x="330.7" y="421.5" width="1.9" height="17.3" fill="#28c828"/>
<rect x="330.7" y="441.8" width="1.9" height="23.4" fill="#0c0cb4"/>
<line x1="333.1" y1="464.9" x2="356.1" y2="464.9" stroke="#c82040" stroke-width="1" />
<rect x="329.8" y="382.5" width="83.6" height="82.6" fill="none" stroke="#b0b0e0" stroke-width="1.4"/>
<text x="371.5" y="393.5" font-size="11.0" text-anchor="middle" fill="#222" >LPS+IL-2</text>
<g clip-path="url(#cb3)">
<path d="M416.2,428.3 L416.87,427 L417.94,425.85 L419.16,424.85 L420.33,423.97 L421.3,423.12 L422.06,422.21 L422.68,421.18 L423.32,420.06 L424.12,418.92 L425.17,417.91 L426.51,417.12 L428.06,416.64 L429.72,416.48 L431.39,416.56 L433,416.78 L434.96,417.01 L436.9,417.2 L438.88,417.34 L440.95,417.49 L443.05,417.76 L445.06,418.25 L446.8,419.02 L448.13,420.05 L449,421.26 L449.56,422.51 L450.12,423.69 L451.11,424.74 L452.98,425.73 L456.05,426.83 L460.31,428.3 L465.16,430.17 L469.37,432.57 L471.43,435.2 L470.38,437.5 L466.42,438.96 L460.79,439.46 L454.97,439.23 L449.97,438.71 L446.09,438.26 L443.18,438.04 L440.9,438.11 L438.94,438.4 L437.05,438.83 L435.08,439.24 L433,439.49 L431.32,439.48 L429.71,439.13 L428.28,438.47 L427.1,437.58 L426.14,436.62 L425.32,435.7 L424.48,434.92 L423.47,434.3 L422.21,433.79 L420.72,433.26 L419.14,432.62 L417.69,431.78 L416.61,430.74 L416.09,429.54Z" fill="#44cc44" fill-opacity="0.1" stroke="none"/>
<path d="M429.75,428.3 L429.8,428.04 L429.88,427.79 L430,427.55 L430.14,427.33 L430.31,427.11 L430.48,426.9 L430.68,426.7 L430.91,426.52 L431.16,426.36 L431.44,426.23 L431.74,426.13 L432.05,426.06 L432.37,426.03 L432.69,426.02 L433,426.02 L433.39,426.04 L433.79,426.06 L434.19,426.09 L434.6,426.13 L435.01,426.2 L435.4,426.3 L435.77,426.44 L436.1,426.61 L436.36,426.82 L436.57,427.05 L436.74,427.29 L436.88,427.54 L437.03,427.78 L437.19,428.03 L437.37,428.3 L437.52,428.56 L437.6,428.84 L437.57,429.12 L437.39,429.38 L437.09,429.6 L436.7,429.79 L436.27,429.93 L435.84,430.04 L435.41,430.14 L435.01,430.22 L434.61,430.3 L434.21,430.36 L433.81,430.42 L433.41,430.45 L433,430.47 L432.68,430.45 L432.36,430.41 L432.05,430.34 L431.76,430.25 L431.48,430.14 L431.22,430.01 L430.97,429.88 L430.73,429.73 L430.5,429.57 L430.29,429.4 L430.1,429.2 L429.94,429 L429.82,428.77 L429.76,428.54Z M429.1,428.3 L429.28,428 L429.38,427.71 L429.4,427.4 L429.39,427.07 L429.38,426.7 L429.43,426.31 L429.57,425.93 L429.81,425.58 L430.15,425.29 L430.57,425.07 L431.04,424.92 L431.53,424.83 L432.03,424.79 L432.52,424.78 L433,424.81 L433.6,424.86 L434.18,424.95 L434.73,425.08 L435.24,425.25 L435.72,425.45 L436.16,425.67 L436.58,425.9 L436.98,426.13 L437.4,426.37 L437.83,426.61 L438.29,426.87 L438.77,427.17 L439.25,427.5 L439.69,427.87 L440.02,428.3 L440.16,428.72 L440.04,429.13 L439.68,429.5 L439.14,429.81 L438.53,430.07 L437.95,430.29 L437.44,430.51 L436.98,430.74 L436.54,430.99 L436.07,431.24 L435.53,431.44 L434.92,431.56 L434.27,431.59 L433.61,431.53 L433,431.4 L432.56,431.24 L432.15,431.08 L431.76,430.97 L431.35,430.9 L430.89,430.86 L430.39,430.82 L429.85,430.75 L429.34,430.6 L428.92,430.38 L428.62,430.07 L428.48,429.71 L428.51,429.32 L428.66,428.95 L428.88,428.6Z M426.99,428.3 L426.99,427.82 L427.13,427.34 L427.36,426.89 L427.62,426.47 L427.9,426.04 L428.18,425.62 L428.48,425.18 L428.82,424.74 L429.24,424.33 L429.75,423.99 L430.36,423.75 L431.02,423.63 L431.7,423.63 L432.37,423.73 L433,423.91 L433.73,424.11 L434.4,424.32 L435.03,424.52 L435.64,424.71 L436.24,424.91 L436.81,425.12 L437.36,425.37 L437.86,425.65 L438.32,425.96 L438.78,426.28 L439.3,426.6 L439.96,426.93 L440.8,427.3 L441.85,427.74 L443,428.3 L444.03,428.94 L444.64,429.67 L444.56,430.38 L443.75,430.95 L442.38,431.29 L440.77,431.42 L439.24,431.4 L437.95,431.34 L436.95,431.3 L436.2,431.36 L435.61,431.54 L435.07,431.82 L434.49,432.16 L433.8,432.51 L433,432.78 L432.31,432.9 L431.62,432.85 L430.99,432.62 L430.49,432.24 L430.12,431.79 L429.87,431.32 L429.66,430.89 L429.45,430.54 L429.17,430.25 L428.8,430 L428.36,429.75 L427.89,429.46 L427.47,429.12 L427.15,428.73Z M424.97,428.3 L425.16,427.67 L425.56,427.09 L426.08,426.58 L426.65,426.13 L427.2,425.73 L427.71,425.35 L428.16,424.96 L428.58,424.53 L429.01,424.09 L429.5,423.65 L430.07,423.25 L430.72,422.92 L431.44,422.69 L432.21,422.56 L433,422.55 L433.99,422.62 L434.94,422.76 L435.86,422.97 L436.73,423.23 L437.54,423.54 L438.28,423.9 L438.93,424.31 L439.48,424.77 L439.95,425.25 L440.36,425.73 L440.79,426.2 L441.32,426.66 L442.05,427.14 L443,427.66 L444.11,428.3 L445.18,429.01 L445.93,429.82 L446.08,430.65 L445.54,431.39 L444.41,431.94 L442.95,432.29 L441.44,432.5 L440.07,432.64 L438.89,432.78 L437.85,432.95 L436.9,433.14 L435.96,433.34 L435,433.51 L434.01,433.61 L433,433.6 L432.22,433.47 L431.51,433.21 L430.88,432.86 L430.35,432.46 L429.9,432.05 L429.49,431.68 L429.06,431.37 L428.55,431.11 L427.95,430.87 L427.26,430.62 L426.54,430.31 L425.88,429.92 L425.35,429.44 L425.03,428.89Z M424.06,428.3 L424.34,427.6 L424.68,426.94 L425.03,426.32 L425.39,425.7 L425.77,425.1 L426.22,424.52 L426.76,423.99 L427.4,423.53 L428.13,423.16 L428.93,422.9 L429.76,422.72 L430.59,422.61 L431.4,422.53 L432.2,422.46 L433,422.41 L434.03,422.37 L435.08,422.38 L436.14,422.45 L437.18,422.62 L438.18,422.87 L439.13,423.2 L440.04,423.57 L440.95,423.97 L441.92,424.38 L443.01,424.8 L444.28,425.26 L445.77,425.79 L447.47,426.44 L449.23,427.27 L450.73,428.3 L451.46,429.37 L451.04,430.42 L449.39,431.24 L446.92,431.73 L444.26,431.89 L441.94,431.89 L440.22,431.89 L439.09,432.04 L438.36,432.37 L437.8,432.89 L437.21,433.52 L436.44,434.15 L435.45,434.66 L434.27,434.96 L433,434.99 L432.03,434.77 L431.16,434.37 L430.41,433.88 L429.77,433.38 L429.16,432.95 L428.53,432.61 L427.81,432.33 L427.01,432.08 L426.16,431.78 L425.34,431.4 L424.65,430.9 L424.16,430.31 L423.91,429.65 L423.89,428.97Z M422.71,428.3 L422.77,427.48 L423.08,426.68 L423.63,425.97 L424.33,425.34 L425.1,424.8 L425.85,424.32 L426.54,423.84 L427.17,423.34 L427.78,422.79 L428.41,422.21 L429.13,421.64 L429.96,421.14 L430.91,420.76 L431.94,420.54 L433,420.49 L434.34,420.59 L435.63,420.8 L436.88,421.08 L438.09,421.39 L439.28,421.72 L440.46,422.09 L441.61,422.51 L442.69,423.02 L443.67,423.61 L444.53,424.27 L445.32,424.98 L446.15,425.71 L447.14,426.48 L448.34,427.32 L449.66,428.3 L450.89,429.34 L451.69,430.5 L451.73,431.66 L450.86,432.69 L449.17,433.46 L446.98,433.91 L444.69,434.12 L442.58,434.18 L440.77,434.21 L439.23,434.26 L437.88,434.36 L436.65,434.51 L435.46,434.7 L434.26,434.93 L433,435.15 L431.95,435.31 L430.85,435.37 L429.76,435.28 L428.73,435.01 L427.82,434.58 L427.05,434.03 L426.42,433.42 L425.89,432.78 L425.4,432.16 L424.91,431.57 L424.38,430.99 L423.83,430.39 L423.31,429.74 L422.91,429.04Z M422.24,428.3 L422.1,427.42 L422.05,426.52 L422.14,425.59 L422.4,424.68 L422.87,423.81 L423.52,423.02 L424.35,422.33 L425.31,421.75 L426.36,421.29 L427.45,420.93 L428.56,420.66 L429.68,420.47 L430.79,420.33 L431.9,420.27 L433,420.27 L434.38,420.33 L435.75,420.46 L437.1,420.66 L438.44,420.91 L439.76,421.21 L441.08,421.57 L442.4,421.98 L443.71,422.47 L444.99,423.03 L446.27,423.66 L447.6,424.36 L449.08,425.14 L450.77,426.01 L452.63,427.05 L454.39,428.3 L455.65,429.62 L456,431 L455.26,432.3 L453.54,433.35 L451.17,434.1 L448.58,434.55 L446.12,434.83 L443.97,435.03 L442.13,435.25 L440.52,435.49 L439,435.74 L437.49,435.94 L435.99,436.06 L434.48,436.09 L433,436.04 L431.85,435.93 L430.73,435.78 L429.62,435.59 L428.52,435.35 L427.45,435.03 L426.44,434.62 L425.52,434.12 L424.72,433.52 L424.07,432.84 L423.56,432.11 L423.18,431.36 L422.88,430.6 L422.64,429.84 L422.43,429.08Z M418.77,428.3 L418.24,427.11 L418.29,425.9 L418.9,424.79 L419.98,423.86 L421.33,423.13 L422.74,422.59 L424.07,422.13 L425.23,421.69 L426.25,421.18 L427.2,420.6 L428.18,419.99 L429.25,419.46 L430.44,419.08 L431.72,418.95 L433,419.07 L434.54,419.41 L435.95,419.89 L437.25,420.38 L438.5,420.83 L439.79,421.18 L441.21,421.46 L442.76,421.74 L444.42,422.08 L446.1,422.54 L447.77,423.14 L449.46,423.86 L451.32,424.7 L453.53,425.66 L456.14,426.83 L458.98,428.3 L461.57,429.96 L463.25,431.85 L463.37,433.75 L461.63,435.35 L458.29,436.37 L454.04,436.75 L449.73,436.62 L445.93,436.24 L442.86,435.8 L440.45,435.44 L438.58,435.22 L437.05,435.2 L435.73,435.39 L434.42,435.77 L433,436.28 L431.72,436.79 L430.31,437.15 L428.86,437.22 L427.5,436.95 L426.37,436.34 L425.56,435.47 L425.04,434.49 L424.73,433.52 L424.43,432.66 L423.97,431.95 L423.24,431.34 L422.2,430.76 L420.97,430.09 L419.75,429.27Z M418.83,428.3 L419.07,427.18 L419.54,426.11 L420.1,425.09 L420.66,424.09 L421.19,423.07 L421.69,422 L422.27,420.89 L423.01,419.8 L424.01,418.82 L425.29,418.07 L426.81,417.63 L428.44,417.55 L430.08,417.77 L431.61,418.19 L433,418.67 L434.6,419.09 L436.14,419.35 L437.74,419.46 L439.48,419.49 L441.35,419.54 L443.25,419.76 L445.01,420.22 L446.49,420.95 L447.6,421.88 L448.42,422.91 L449.21,423.93 L450.33,424.89 L452.17,425.83 L455.03,426.9 L458.87,428.3 L463.16,430.05 L466.81,432.27 L468.51,434.68 L467.42,436.77 L463.73,438.1 L458.52,438.54 L453.1,438.3 L448.39,437.74 L444.68,437.19 L441.89,436.81 L439.73,436.65 L437.96,436.73 L436.34,436.99 L434.72,437.35 L433,437.7 L431.56,437.92 L430.08,437.92 L428.66,437.65 L427.38,437.13 L426.28,436.44 L425.35,435.67 L424.53,434.89 L423.71,434.16 L422.84,433.47 L421.89,432.79 L420.91,432.07 L420.01,431.26 L419.3,430.34 L418.9,429.34Z M416.2,428.3 L416.87,427 L417.94,425.85 L419.16,424.85 L420.33,423.97 L421.3,423.12 L422.06,422.21 L422.68,421.18 L423.32,420.06 L424.12,418.92 L425.17,417.91 L426.51,417.12 L428.06,416.64 L429.72,416.48 L431.39,416.56 L433,416.78 L434.96,417.01 L436.9,417.2 L438.88,417.34 L440.95,417.49 L443.05,417.76 L445.06,418.25 L446.8,419.02 L448.13,420.05 L449,421.26 L449.56,422.51 L450.12,423.69 L451.11,424.74 L452.98,425.73 L456.05,426.83 L460.31,428.3 L465.16,430.17 L469.37,432.57 L471.43,435.2 L470.38,437.5 L466.42,438.96 L460.79,439.46 L454.97,439.23 L449.97,438.71 L446.09,438.26 L443.18,438.04 L440.9,438.11 L438.94,438.4 L437.05,438.83 L435.08,439.24 L433,439.49 L431.32,439.48 L429.71,439.13 L428.28,438.47 L427.1,437.58 L426.14,436.62 L425.32,435.7 L424.48,434.92 L423.47,434.3 L422.21,433.79 L420.72,433.26 L419.14,432.62 L417.69,431.78 L416.61,430.74 L416.09,429.54Z" fill="none" stroke="#44cc44" stroke-width="0.55" stroke-opacity="0.55"/>
<path d="M426.03,450.8 L425.97,449.25 L426.01,447.67 L426.19,446.11 L426.53,444.61 L427.03,443.22 L427.65,441.96 L428.36,440.83 L429.1,439.78 L429.86,438.76 L430.63,437.73 L431.45,436.69 L432.33,435.67 L433.3,434.78 L434.37,434.14 L435.5,433.86 L436.7,434 L437.84,434.56 L438.88,435.46 L439.79,436.58 L440.59,437.78 L441.33,438.95 L442.07,440.03 L442.86,441.02 L443.7,442.01 L444.56,443.08 L445.37,444.31 L446.04,445.74 L446.48,447.36 L446.63,449.07 L446.49,450.8 L446.11,452.34 L445.56,453.75 L444.94,455.04 L444.33,456.23 L443.77,457.39 L443.25,458.58 L442.74,459.81 L442.19,461.06 L441.53,462.27 L440.75,463.36 L439.84,464.26 L438.82,464.91 L437.74,465.33 L436.62,465.53 L435.5,465.58 L434.43,465.52 L433.36,465.37 L432.29,465.12 L431.22,464.73 L430.18,464.15 L429.22,463.34 L428.37,462.28 L427.68,461.01 L427.16,459.58 L426.8,458.08 L426.57,456.57 L426.4,455.09 L426.27,453.65 L426.14,452.23Z" fill="#e41e1e" fill-opacity="0.18" stroke="none"/>
<path d="M433,450.8 L432.99,450.39 L433.01,449.98 L433.05,449.57 L433.12,449.16 L433.22,448.76 L433.36,448.39 L433.53,448.05 L433.73,447.75 L433.95,447.5 L434.19,447.29 L434.44,447.12 L434.7,446.99 L434.96,446.89 L435.23,446.81 L435.5,446.77 L435.79,446.76 L436.08,446.8 L436.36,446.89 L436.63,447.05 L436.88,447.27 L437.1,447.54 L437.29,447.86 L437.45,448.21 L437.58,448.57 L437.69,448.94 L437.78,449.3 L437.87,449.66 L437.96,450.03 L438.04,450.41 L438.11,450.8 L438.16,451.19 L438.18,451.59 L438.16,451.99 L438.1,452.4 L437.98,452.78 L437.82,453.13 L437.63,453.44 L437.4,453.71 L437.15,453.93 L436.88,454.11 L436.61,454.24 L436.33,454.34 L436.06,454.41 L435.78,454.45 L435.5,454.46 L435.24,454.45 L434.97,454.39 L434.71,454.31 L434.46,454.18 L434.22,454.02 L433.99,453.81 L433.78,453.57 L433.6,453.29 L433.44,452.97 L433.3,452.64 L433.2,452.29 L433.12,451.92 L433.06,451.55 L433.02,451.18Z M432.27,450.8 L432.25,450.27 L432.29,449.74 L432.39,449.23 L432.55,448.76 L432.76,448.34 L432.99,447.98 L433.24,447.65 L433.49,447.35 L433.74,447.05 L433.99,446.76 L434.25,446.46 L434.53,446.18 L434.83,445.94 L435.16,445.76 L435.5,445.69 L435.86,445.72 L436.21,445.85 L436.54,446.08 L436.83,446.38 L437.1,446.7 L437.35,447.04 L437.59,447.37 L437.83,447.7 L438.08,448.04 L438.32,448.4 L438.54,448.8 L438.73,449.25 L438.87,449.74 L438.94,450.27 L438.94,450.8 L438.88,451.29 L438.77,451.76 L438.62,452.2 L438.45,452.62 L438.27,453.01 L438.08,453.39 L437.88,453.75 L437.65,454.1 L437.41,454.43 L437.14,454.73 L436.85,454.98 L436.53,455.18 L436.2,455.32 L435.85,455.41 L435.5,455.44 L435.17,455.41 L434.84,455.33 L434.52,455.19 L434.21,455 L433.92,454.76 L433.66,454.47 L433.43,454.14 L433.22,453.78 L433.03,453.4 L432.86,453.01 L432.71,452.6 L432.57,452.18 L432.44,451.74 L432.34,451.28Z M431.63,450.8 L431.77,450.19 L431.95,449.63 L432.13,449.1 L432.32,448.6 L432.5,448.12 L432.69,447.64 L432.9,447.18 L433.14,446.74 L433.41,446.34 L433.71,446 L434.04,445.71 L434.39,445.48 L434.75,445.31 L435.12,445.17 L435.5,445.06 L435.91,445 L436.34,445 L436.76,445.07 L437.18,445.23 L437.58,445.49 L437.94,445.85 L438.25,446.29 L438.52,446.78 L438.75,447.32 L438.93,447.87 L439.09,448.44 L439.22,449.01 L439.33,449.6 L439.4,450.2 L439.42,450.8 L439.37,451.36 L439.27,451.91 L439.11,452.42 L438.9,452.89 L438.66,453.32 L438.42,453.73 L438.17,454.12 L437.93,454.53 L437.69,454.95 L437.42,455.38 L437.11,455.79 L436.76,456.15 L436.36,456.4 L435.94,456.53 L435.5,456.51 L435.1,456.37 L434.72,456.12 L434.37,455.82 L434.05,455.51 L433.75,455.21 L433.43,454.93 L433.1,454.66 L432.76,454.38 L432.41,454.05 L432.09,453.65 L431.83,453.17 L431.64,452.62 L431.55,452.02 L431.55,451.4Z M431.43,450.8 L431.37,450.13 L431.35,449.43 L431.37,448.72 L431.44,448 L431.58,447.29 L431.79,446.62 L432.07,446.02 L432.42,445.49 L432.81,445.06 L433.24,444.73 L433.69,444.5 L434.15,444.36 L434.61,444.29 L435.06,444.3 L435.5,444.35 L435.95,444.45 L436.39,444.59 L436.83,444.77 L437.25,445 L437.66,445.27 L438.06,445.6 L438.44,445.98 L438.79,446.42 L439.12,446.92 L439.4,447.48 L439.63,448.08 L439.82,448.73 L439.94,449.41 L440.02,450.1 L440.03,450.8 L440,451.45 L439.92,452.1 L439.79,452.73 L439.62,453.34 L439.42,453.92 L439.17,454.48 L438.88,455 L438.55,455.47 L438.18,455.89 L437.78,456.25 L437.35,456.55 L436.91,456.77 L436.44,456.93 L435.97,457.03 L435.5,457.07 L435.05,457.04 L434.6,456.95 L434.16,456.79 L433.73,456.56 L433.33,456.25 L432.96,455.87 L432.63,455.42 L432.35,454.91 L432.12,454.36 L431.94,453.78 L431.79,453.19 L431.68,452.6 L431.58,452.01 L431.5,451.41Z M430.62,450.8 L430.65,450.01 L430.74,449.23 L430.89,448.48 L431.09,447.76 L431.36,447.09 L431.67,446.48 L432.02,445.94 L432.39,445.44 L432.78,444.99 L433.18,444.58 L433.6,444.2 L434.05,443.86 L434.51,443.58 L435,443.36 L435.5,443.25 L436.04,443.23 L436.58,443.32 L437.1,443.52 L437.61,443.8 L438.1,444.16 L438.56,444.58 L439,445.06 L439.41,445.6 L439.79,446.2 L440.11,446.87 L440.37,447.6 L440.54,448.38 L440.64,449.19 L440.65,450 L440.58,450.8 L440.47,451.52 L440.31,452.21 L440.13,452.88 L439.94,453.53 L439.73,454.17 L439.49,454.8 L439.21,455.41 L438.88,455.99 L438.5,456.5 L438.06,456.92 L437.58,457.25 L437.07,457.47 L436.55,457.61 L436.02,457.67 L435.5,457.68 L435,457.64 L434.51,457.57 L434.01,457.46 L433.51,457.29 L433.02,457.04 L432.55,456.69 L432.11,456.25 L431.73,455.72 L431.41,455.11 L431.15,454.44 L430.95,453.74 L430.8,453.01 L430.7,452.28 L430.64,451.54Z M430.18,450.8 L430.25,449.94 L430.33,449.1 L430.44,448.25 L430.57,447.4 L430.76,446.56 L431.02,445.75 L431.35,445.01 L431.77,444.38 L432.25,443.87 L432.78,443.49 L433.32,443.2 L433.86,442.98 L434.4,442.8 L434.95,442.62 L435.5,442.45 L436.1,442.34 L436.72,442.32 L437.34,442.45 L437.93,442.76 L438.46,443.24 L438.91,443.88 L439.27,444.61 L439.57,445.39 L439.83,446.16 L440.08,446.89 L440.36,447.6 L440.67,448.32 L440.99,449.08 L441.29,449.9 L441.51,450.8 L441.6,451.68 L441.53,452.57 L441.3,453.4 L440.94,454.14 L440.48,454.77 L439.99,455.31 L439.5,455.78 L439.04,456.24 L438.61,456.72 L438.19,457.23 L437.75,457.76 L437.26,458.27 L436.71,458.69 L436.12,458.96 L435.5,459.06 L434.91,458.97 L434.34,458.73 L433.8,458.37 L433.31,457.95 L432.84,457.49 L432.38,457.03 L431.93,456.54 L431.5,456.02 L431.09,455.44 L430.74,454.78 L430.46,454.05 L430.27,453.26 L430.17,452.44 L430.15,451.62Z M429.37,450.8 L429.4,449.81 L429.49,448.82 L429.67,447.86 L429.91,446.94 L430.22,446.08 L430.6,445.28 L431.03,444.56 L431.51,443.93 L432.02,443.38 L432.56,442.91 L433.13,442.53 L433.7,442.23 L434.3,442.02 L434.9,441.89 L435.5,441.86 L436.13,441.91 L436.76,442.06 L437.37,442.29 L437.97,442.6 L438.56,442.98 L439.13,443.42 L439.69,443.94 L440.22,444.52 L440.73,445.19 L441.2,445.94 L441.61,446.78 L441.94,447.71 L442.16,448.71 L442.27,449.75 L442.25,450.8 L442.12,451.76 L441.88,452.67 L441.56,453.52 L441.19,454.3 L440.78,455.01 L440.35,455.67 L439.91,456.28 L439.45,456.86 L438.98,457.42 L438.48,457.94 L437.95,458.41 L437.38,458.81 L436.78,459.13 L436.15,459.35 L435.5,459.46 L434.87,459.46 L434.25,459.35 L433.63,459.13 L433.04,458.81 L432.47,458.41 L431.94,457.91 L431.44,457.34 L430.98,456.69 L430.58,455.98 L430.23,455.21 L429.93,454.39 L429.7,453.53 L429.52,452.64 L429.42,451.73Z M429.29,450.8 L429.22,449.78 L429.15,448.71 L429.13,447.59 L429.2,446.45 L429.42,445.36 L429.8,444.38 L430.33,443.59 L430.97,443.01 L431.67,442.63 L432.36,442.38 L433.02,442.18 L433.65,441.95 L434.24,441.63 L434.85,441.22 L435.5,440.77 L436.24,440.37 L437.04,440.14 L437.84,440.15 L438.62,440.46 L439.31,441.06 L439.89,441.89 L440.34,442.87 L440.68,443.91 L440.96,444.95 L441.19,445.95 L441.41,446.91 L441.63,447.86 L441.83,448.81 L441.98,449.8 L442.06,450.8 L442.04,451.75 L441.94,452.69 L441.76,453.61 L441.53,454.51 L441.27,455.4 L440.98,456.3 L440.65,457.21 L440.27,458.11 L439.8,458.98 L439.24,459.74 L438.58,460.34 L437.83,460.71 L437.05,460.84 L436.26,460.75 L435.5,460.49 L434.82,460.13 L434.19,459.75 L433.58,459.39 L432.96,459.06 L432.34,458.74 L431.7,458.38 L431.09,457.9 L430.53,457.29 L430.07,456.52 L429.73,455.63 L429.52,454.66 L429.42,453.67 L429.37,452.69 L429.34,451.74Z M428.39,450.8 L428.26,449.62 L428.24,448.41 L428.37,447.21 L428.68,446.1 L429.16,445.12 L429.75,444.33 L430.4,443.69 L431.06,443.15 L431.67,442.64 L432.25,442.07 L432.8,441.39 L433.37,440.63 L434,439.85 L434.71,439.16 L435.5,438.7 L436.37,438.56 L437.23,438.79 L438.02,439.36 L438.7,440.2 L439.26,441.18 L439.73,442.2 L440.15,443.17 L440.57,444.06 L441.03,444.87 L441.51,445.67 L442.02,446.52 L442.49,447.45 L442.87,448.49 L443.13,449.62 L443.23,450.8 L443.19,451.92 L443.04,453.01 L442.79,454.07 L442.48,455.09 L442.13,456.09 L441.72,457.04 L441.25,457.95 L440.69,458.77 L440.05,459.45 L439.33,459.96 L438.56,460.29 L437.77,460.44 L436.99,460.47 L436.23,460.45 L435.5,460.42 L434.8,460.42 L434.09,460.45 L433.34,460.45 L432.56,460.37 L431.79,460.12 L431.06,459.66 L430.43,458.97 L429.92,458.09 L429.54,457.08 L429.28,456.01 L429.09,454.94 L428.93,453.9 L428.76,452.88 L428.58,451.86Z M428.09,450.8 L428.36,449.64 L428.64,448.54 L428.89,447.47 L429.09,446.38 L429.28,445.23 L429.48,444.03 L429.76,442.78 L430.14,441.57 L430.65,440.46 L431.31,439.55 L432.07,438.87 L432.92,438.47 L433.79,438.32 L434.66,438.38 L435.5,438.59 L436.35,438.88 L437.17,439.22 L437.97,439.6 L438.75,440.02 L439.52,440.52 L440.26,441.13 L440.94,441.87 L441.55,442.75 L442.07,443.76 L442.47,444.86 L442.77,446.02 L442.97,447.22 L443.1,448.42 L443.16,449.61 L443.16,450.8 L443.12,451.91 L443.03,453.01 L442.89,454.12 L442.68,455.22 L442.41,456.31 L442.06,457.38 L441.63,458.42 L441.11,459.41 L440.51,460.32 L439.81,461.11 L439.03,461.74 L438.18,462.19 L437.29,462.43 L436.39,462.45 L435.5,462.28 L434.69,461.94 L433.93,461.5 L433.21,461.01 L432.52,460.51 L431.83,460.01 L431.14,459.5 L430.44,458.95 L429.74,458.32 L429.09,457.55 L428.53,456.63 L428.11,455.57 L427.86,454.4 L427.79,453.17 L427.89,451.96Z M427.05,450.8 L427.22,449.45 L427.44,448.15 L427.72,446.88 L428.05,445.66 L428.42,444.46 L428.85,443.31 L429.34,442.21 L429.91,441.18 L430.55,440.25 L431.27,439.44 L432.05,438.79 L432.88,438.31 L433.75,438.01 L434.63,437.9 L435.5,437.97 L436.4,438.21 L437.26,438.59 L438.07,439.1 L438.85,439.71 L439.57,440.39 L440.26,441.13 L440.92,441.91 L441.56,442.74 L442.19,443.62 L442.8,444.58 L443.37,445.63 L443.89,446.78 L444.32,448.03 L444.64,449.38 L444.83,450.8 L444.87,452.16 L444.75,453.51 L444.47,454.83 L444.06,456.06 L443.52,457.19 L442.89,458.21 L442.18,459.1 L441.41,459.86 L440.6,460.49 L439.76,460.99 L438.91,461.37 L438.05,461.62 L437.19,461.78 L436.34,461.84 L435.5,461.83 L434.71,461.76 L433.91,461.64 L433.11,461.47 L432.3,461.23 L431.47,460.91 L430.65,460.47 L429.85,459.89 L429.1,459.15 L428.43,458.24 L427.87,457.19 L427.44,456 L427.15,454.73 L427,453.42 L426.97,452.1Z M426.75,450.8 L427.05,449.42 L427.4,448.13 L427.77,446.9 L428.1,445.69 L428.41,444.46 L428.71,443.16 L429.05,441.8 L429.49,440.45 L430.05,439.17 L430.76,438.08 L431.61,437.26 L432.56,436.78 L433.56,436.65 L434.55,436.81 L435.5,437.18 L436.44,437.66 L437.32,438.15 L438.19,438.6 L439.06,439 L439.96,439.4 L440.88,439.86 L441.8,440.47 L442.66,441.28 L443.41,442.31 L444.01,443.55 L444.43,444.93 L444.67,446.4 L444.76,447.89 L444.74,449.37 L444.65,450.8 L444.51,452.11 L444.33,453.39 L444.11,454.66 L443.83,455.92 L443.46,457.15 L443,458.32 L442.42,459.4 L441.74,460.37 L440.97,461.2 L440.14,461.9 L439.26,462.46 L438.35,462.9 L437.41,463.22 L436.46,463.42 L435.5,463.49 L434.58,463.44 L433.67,463.25 L432.78,462.94 L431.91,462.5 L431.06,461.94 L430.25,461.28 L429.46,460.52 L428.72,459.65 L428.04,458.66 L427.45,457.54 L426.98,456.3 L426.66,454.96 L426.53,453.57 L426.56,452.16Z M425.74,450.8 L426,449.25 L426.35,447.78 L426.74,446.39 L427.15,445.04 L427.57,443.7 L428.03,442.38 L428.55,441.1 L429.18,439.91 L429.92,438.9 L430.78,438.12 L431.71,437.61 L432.68,437.35 L433.65,437.28 L434.58,437.3 L435.5,437.32 L436.46,437.28 L437.46,437.19 L438.51,437.11 L439.62,437.14 L440.74,437.41 L441.8,438 L442.73,438.94 L443.47,440.21 L443.98,441.7 L444.29,443.31 L444.44,444.92 L444.52,446.47 L444.62,447.94 L444.77,449.36 L444.99,450.8 L445.22,452.21 L445.39,453.7 L445.42,455.25 L445.22,456.77 L444.76,458.18 L444.07,459.39 L443.18,460.36 L442.2,461.07 L441.18,461.59 L440.18,461.99 L439.23,462.36 L438.31,462.74 L437.4,463.15 L436.47,463.55 L435.5,463.87 L434.54,464.04 L433.56,464.01 L432.6,463.75 L431.67,463.29 L430.78,462.65 L429.94,461.89 L429.14,461.04 L428.37,460.11 L427.64,459.08 L426.96,457.95 L426.39,456.68 L425.95,455.3 L425.69,453.82 L425.63,452.3Z M426.03,450.8 L425.97,449.25 L426.01,447.67 L426.19,446.11 L426.53,444.61 L427.03,443.22 L427.65,441.96 L428.36,440.83 L429.1,439.78 L429.86,438.76 L430.63,437.73 L431.45,436.69 L432.33,435.67 L433.3,434.78 L434.37,434.14 L435.5,433.86 L436.7,434 L437.84,434.56 L438.88,435.46 L439.79,436.58 L440.59,437.78 L441.33,438.95 L442.07,440.03 L442.86,441.02 L443.7,442.01 L444.56,443.08 L445.37,444.31 L446.04,445.74 L446.48,447.36 L446.63,449.07 L446.49,450.8 L446.11,452.34 L445.56,453.75 L444.94,455.04 L444.33,456.23 L443.77,457.39 L443.25,458.58 L442.74,459.81 L442.19,461.06 L441.53,462.27 L440.75,463.36 L439.84,464.26 L438.82,464.91 L437.74,465.33 L436.62,465.53 L435.5,465.58 L434.43,465.52 L433.36,465.37 L432.29,465.12 L431.22,464.73 L430.18,464.15 L429.22,463.34 L428.37,462.28 L427.68,461.01 L427.16,459.58 L426.8,458.08 L426.57,456.57 L426.4,455.09 L426.27,453.65 L426.14,452.23Z" fill="none" stroke="#e41e1e" stroke-width="0.75" stroke-opacity="0.85"/>
<ellipse cx="429" cy="453.3" rx="9.35" ry="10.62" fill="#fff" fill-opacity="0.55"/>
<path d="M417.14,453.3 L416.99,451.87 L417.17,450.44 L417.68,449.12 L418.47,447.97 L419.42,447.02 L420.42,446.22 L421.36,445.49 L422.22,444.74 L422.99,443.9 L423.75,442.97 L424.58,442.01 L425.52,441.14 L426.6,440.49 L427.79,440.19 L429,440.27 L430.17,440.7 L431.23,441.39 L432.18,442.19 L433.05,442.96 L433.91,443.63 L434.83,444.17 L435.85,444.65 L436.95,445.17 L438.05,445.83 L439.06,446.7 L439.86,447.81 L440.37,449.1 L440.58,450.5 L440.53,451.92 L440.3,453.3 L439.99,454.51 L439.68,455.67 L439.4,456.83 L439.13,458.01 L438.8,459.21 L438.33,460.38 L437.66,461.45 L436.77,462.33 L435.71,462.95 L434.53,463.32 L433.33,463.46 L432.16,463.48 L431.07,463.48 L430.03,463.54 L429,463.7 L427.93,463.93 L426.8,464.14 L425.6,464.23 L424.4,464.09 L423.27,463.67 L422.28,462.97 L421.47,462.05 L420.82,461 L420.3,459.91 L419.82,458.84 L419.3,457.81 L418.73,456.79 L418.12,455.72 L417.55,454.56Z" fill="#1a1acc" fill-opacity="0.12" stroke="none"/>
<path d="M426.83,453.3 L426.79,453.04 L426.77,452.76 L426.77,452.48 L426.82,452.2 L426.91,451.93 L427.06,451.7 L427.25,451.51 L427.47,451.37 L427.71,451.28 L427.95,451.23 L428.17,451.19 L428.39,451.15 L428.59,451.1 L428.79,451.02 L429,450.92 L429.23,450.81 L429.48,450.72 L429.75,450.67 L430.03,450.67 L430.3,450.73 L430.55,450.87 L430.76,451.08 L430.92,451.33 L431.04,451.62 L431.1,451.92 L431.12,452.23 L431.11,452.52 L431.08,452.8 L431.05,453.05 L431.02,453.3 L431,453.52 L430.98,453.74 L430.95,453.96 L430.92,454.19 L430.87,454.43 L430.8,454.67 L430.69,454.89 L430.55,455.1 L430.38,455.28 L430.18,455.43 L429.95,455.54 L429.72,455.61 L429.48,455.66 L429.24,455.68 L429,455.68 L428.76,455.67 L428.52,455.65 L428.28,455.61 L428.04,455.55 L427.81,455.45 L427.59,455.32 L427.4,455.16 L427.24,454.96 L427.12,454.73 L427.03,454.49 L426.97,454.24 L426.93,454 L426.9,453.77 L426.86,453.53Z M426.11,453.3 L426.26,452.97 L426.42,452.68 L426.56,452.4 L426.66,452.12 L426.73,451.81 L426.8,451.48 L426.88,451.13 L427.01,450.79 L427.2,450.48 L427.44,450.23 L427.74,450.07 L428.06,450 L428.38,450.01 L428.7,450.06 L429,450.13 L429.29,450.2 L429.57,450.24 L429.87,450.27 L430.17,450.3 L430.49,450.36 L430.81,450.47 L431.1,450.65 L431.36,450.89 L431.55,451.19 L431.69,451.54 L431.76,451.9 L431.79,452.27 L431.79,452.63 L431.76,452.97 L431.72,453.3 L431.66,453.59 L431.6,453.88 L431.51,454.15 L431.41,454.42 L431.3,454.69 L431.17,454.95 L431.03,455.21 L430.87,455.48 L430.7,455.75 L430.5,456.01 L430.26,456.25 L429.98,456.45 L429.67,456.59 L429.34,456.65 L429,456.62 L428.68,456.5 L428.38,456.33 L428.12,456.12 L427.89,455.91 L427.66,455.72 L427.43,455.56 L427.18,455.41 L426.91,455.27 L426.63,455.1 L426.36,454.89 L426.14,454.63 L426,454.32 L425.95,453.98 L425.99,453.63Z M425.57,453.3 L425.71,452.91 L425.82,452.53 L425.9,452.15 L425.94,451.75 L425.98,451.32 L426.06,450.87 L426.2,450.43 L426.42,450.04 L426.73,449.74 L427.1,449.56 L427.51,449.49 L427.92,449.51 L428.31,449.59 L428.67,449.68 L429,449.76 L429.32,449.8 L429.65,449.81 L430,449.81 L430.36,449.84 L430.72,449.92 L431.07,450.07 L431.39,450.29 L431.67,450.57 L431.92,450.89 L432.14,451.24 L432.35,451.61 L432.54,451.99 L432.7,452.41 L432.83,452.84 L432.9,453.3 L432.89,453.73 L432.77,454.14 L432.57,454.51 L432.29,454.83 L431.97,455.09 L431.65,455.31 L431.34,455.51 L431.07,455.71 L430.83,455.93 L430.6,456.19 L430.35,456.46 L430.07,456.73 L429.74,456.94 L429.38,457.08 L429,457.11 L428.62,457.05 L428.27,456.91 L427.94,456.72 L427.63,456.53 L427.32,456.34 L427,456.18 L426.67,456.01 L426.32,455.82 L425.99,455.59 L425.7,455.29 L425.49,454.93 L425.38,454.53 L425.37,454.11 L425.45,453.69Z M424.88,453.3 L424.85,452.8 L424.85,452.3 L424.89,451.78 L424.99,451.27 L425.15,450.78 L425.39,450.32 L425.7,449.92 L426.07,449.6 L426.49,449.37 L426.93,449.22 L427.37,449.13 L427.8,449.1 L428.21,449.08 L428.61,449.06 L429,449.02 L429.4,448.98 L429.82,448.94 L430.25,448.93 L430.7,448.96 L431.15,449.07 L431.58,449.26 L431.98,449.54 L432.32,449.9 L432.6,450.33 L432.81,450.8 L432.96,451.3 L433.04,451.81 L433.08,452.32 L433.06,452.82 L433.01,453.3 L432.92,453.73 L432.81,454.15 L432.67,454.55 L432.52,454.94 L432.36,455.33 L432.18,455.71 L431.98,456.1 L431.74,456.49 L431.47,456.86 L431.15,457.2 L430.79,457.49 L430.37,457.72 L429.93,457.86 L429.46,457.92 L429,457.89 L428.55,457.78 L428.12,457.61 L427.73,457.4 L427.36,457.16 L427.01,456.91 L426.68,456.64 L426.36,456.36 L426.07,456.06 L425.79,455.74 L425.55,455.38 L425.34,455 L425.17,454.6 L425.04,454.18 L424.95,453.75Z M424.35,453.3 L424.3,452.74 L424.29,452.16 L424.34,451.58 L424.47,451.01 L424.69,450.47 L425,450 L425.38,449.6 L425.81,449.27 L426.25,449 L426.7,448.76 L427.14,448.54 L427.57,448.32 L428.03,448.09 L428.5,447.89 L429,447.74 L429.52,447.68 L430.04,447.73 L430.55,447.89 L431.01,448.17 L431.42,448.54 L431.78,448.95 L432.1,449.39 L432.4,449.82 L432.69,450.25 L432.97,450.69 L433.24,451.15 L433.48,451.65 L433.66,452.17 L433.77,452.73 L433.79,453.3 L433.72,453.82 L433.59,454.32 L433.41,454.8 L433.21,455.26 L433,455.72 L432.79,456.18 L432.55,456.64 L432.28,457.1 L431.94,457.53 L431.54,457.9 L431.08,458.18 L430.57,458.35 L430.04,458.4 L429.51,458.36 L429,458.26 L428.52,458.11 L428.05,457.96 L427.6,457.81 L427.14,457.66 L426.68,457.49 L426.23,457.28 L425.8,457.01 L425.42,456.67 L425.1,456.26 L424.86,455.8 L424.68,455.31 L424.56,454.81 L424.48,454.31 L424.41,453.8Z M423.68,453.3 L423.66,452.66 L423.68,452.02 L423.76,451.37 L423.89,450.72 L424.1,450.09 L424.4,449.5 L424.78,448.98 L425.23,448.54 L425.74,448.2 L426.28,447.95 L426.84,447.78 L427.38,447.65 L427.92,447.54 L428.46,447.45 L429,447.37 L429.55,447.33 L430.11,447.36 L430.66,447.48 L431.19,447.7 L431.68,448.03 L432.11,448.43 L432.5,448.89 L432.84,449.37 L433.18,449.85 L433.53,450.33 L433.9,450.82 L434.27,451.35 L434.61,451.94 L434.87,452.6 L435,453.3 L434.96,453.96 L434.75,454.58 L434.38,455.13 L433.9,455.58 L433.39,455.95 L432.88,456.25 L432.44,456.54 L432.07,456.86 L431.75,457.25 L431.44,457.72 L431.1,458.23 L430.69,458.74 L430.2,459.19 L429.62,459.5 L429,459.63 L428.37,459.58 L427.77,459.37 L427.22,459.02 L426.74,458.6 L426.33,458.14 L425.95,457.7 L425.59,457.26 L425.24,456.84 L424.9,456.42 L424.57,455.97 L424.28,455.5 L424.05,454.98 L423.87,454.44 L423.74,453.88Z M423.08,453.3 L423.08,452.59 L423.13,451.88 L423.26,451.18 L423.46,450.5 L423.74,449.85 L424.1,449.25 L424.51,448.71 L424.98,448.23 L425.49,447.81 L426.02,447.43 L426.57,447.1 L427.14,446.8 L427.74,446.56 L428.36,446.39 L429,446.3 L429.65,446.32 L430.28,446.46 L430.89,446.7 L431.45,447.04 L431.97,447.46 L432.43,447.93 L432.86,448.43 L433.26,448.94 L433.65,449.46 L434.03,450 L434.39,450.57 L434.71,451.19 L434.98,451.86 L435.17,452.56 L435.26,453.3 L435.24,453.99 L435.11,454.66 L434.89,455.3 L434.59,455.9 L434.24,456.46 L433.84,456.98 L433.42,457.46 L432.96,457.9 L432.47,458.3 L431.95,458.65 L431.41,458.95 L430.83,459.19 L430.23,459.37 L429.62,459.48 L429,459.52 L428.38,459.51 L427.75,459.43 L427.14,459.29 L426.53,459.09 L425.95,458.82 L425.4,458.48 L424.9,458.06 L424.45,457.58 L424.08,457.04 L423.77,456.46 L423.53,455.85 L423.35,455.22 L423.22,454.59 L423.13,453.95Z M422.67,453.3 L422.66,452.54 L422.7,451.78 L422.81,451.01 L422.98,450.26 L423.23,449.52 L423.56,448.81 L423.97,448.15 L424.45,447.56 L425,447.04 L425.6,446.62 L426.25,446.29 L426.93,446.05 L427.62,445.91 L428.31,445.86 L429,445.87 L429.68,445.96 L430.35,446.09 L431.01,446.27 L431.66,446.5 L432.31,446.78 L432.96,447.11 L433.58,447.52 L434.17,448.01 L434.71,448.59 L435.16,449.26 L435.5,450.01 L435.71,450.82 L435.79,451.66 L435.74,452.5 L435.58,453.3 L435.33,454 L435.03,454.64 L434.72,455.24 L434.4,455.82 L434.1,456.38 L433.81,456.95 L433.51,457.54 L433.18,458.15 L432.79,458.75 L432.33,459.33 L431.79,459.85 L431.17,460.28 L430.48,460.59 L429.75,460.77 L429,460.82 L428.25,460.75 L427.52,460.56 L426.83,460.28 L426.18,459.91 L425.58,459.48 L425.04,459 L424.55,458.47 L424.12,457.89 L423.75,457.29 L423.43,456.66 L423.18,456.01 L422.98,455.35 L422.83,454.67 L422.72,453.99Z M422.11,453.3 L422.26,452.49 L422.38,451.7 L422.5,450.9 L422.63,450.08 L422.83,449.25 L423.13,448.45 L423.56,447.73 L424.12,447.14 L424.77,446.69 L425.49,446.39 L426.22,446.2 L426.94,446.08 L427.63,445.96 L428.31,445.82 L429,445.62 L429.73,445.4 L430.51,445.21 L431.34,445.11 L432.19,445.16 L433.01,445.42 L433.75,445.87 L434.38,446.51 L434.89,447.28 L435.26,448.13 L435.54,449.01 L435.75,449.89 L435.91,450.75 L436.04,451.6 L436.14,452.45 L436.19,453.3 L436.17,454.09 L436.05,454.87 L435.83,455.62 L435.51,456.33 L435.1,456.98 L434.63,457.57 L434.12,458.12 L433.58,458.61 L433.02,459.08 L432.43,459.51 L431.81,459.9 L431.15,460.23 L430.46,460.48 L429.74,460.65 L429,460.74 L428.25,460.74 L427.5,460.68 L426.74,460.56 L425.98,460.39 L425.21,460.16 L424.45,459.85 L423.72,459.43 L423.06,458.89 L422.51,458.23 L422.1,457.46 L421.86,456.62 L421.78,455.75 L421.82,454.89 L421.95,454.07Z M420.71,453.3 L420.88,452.33 L421.14,451.4 L421.48,450.52 L421.89,449.7 L422.35,448.93 L422.85,448.23 L423.41,447.58 L423.99,446.98 L424.62,446.44 L425.27,445.96 L425.95,445.52 L426.67,445.14 L427.41,444.81 L428.19,444.56 L429,444.38 L429.83,444.31 L430.67,444.36 L431.5,444.54 L432.31,444.86 L433.06,445.31 L433.75,445.88 L434.36,446.54 L434.89,447.27 L435.36,448.05 L435.76,448.86 L436.11,449.7 L436.41,450.57 L436.65,451.45 L436.83,452.36 L436.94,453.3 L436.96,454.18 L436.89,455.05 L436.72,455.92 L436.44,456.76 L436.06,457.56 L435.59,458.3 L435.02,458.97 L434.39,459.56 L433.69,460.05 L432.95,460.45 L432.17,460.74 L431.37,460.94 L430.57,461.04 L429.78,461.06 L429,461.02 L428.23,460.92 L427.48,460.79 L426.72,460.62 L425.97,460.42 L425.2,460.18 L424.43,459.87 L423.68,459.48 L422.95,458.99 L422.28,458.4 L421.71,457.7 L421.24,456.91 L420.9,456.05 L420.71,455.14 L420.65,454.22Z M420.67,453.3 L420.69,452.31 L420.8,451.32 L421.02,450.36 L421.39,449.45 L421.89,448.63 L422.48,447.91 L423.11,447.27 L423.74,446.67 L424.36,446.05 L424.98,445.39 L425.62,444.68 L426.34,443.98 L427.14,443.36 L428.04,442.92 L429,442.74 L429.97,442.86 L430.88,443.26 L431.7,443.86 L432.42,444.57 L433.08,445.27 L433.73,445.91 L434.42,446.45 L435.19,446.96 L436.02,447.5 L436.83,448.16 L437.53,448.99 L437.99,449.98 L438.16,451.09 L438,452.23 L437.57,453.3 L436.97,454.18 L436.35,454.93 L435.81,455.61 L435.44,456.3 L435.24,457.06 L435.13,457.96 L435.03,458.98 L434.81,460.05 L434.39,461.06 L433.75,461.89 L432.9,462.45 L431.92,462.68 L430.9,462.63 L429.91,462.36 L429,462 L428.16,461.66 L427.35,461.39 L426.54,461.22 L425.68,461.1 L424.77,460.95 L423.86,460.7 L422.99,460.28 L422.24,459.66 L421.65,458.88 L421.23,457.99 L420.97,457.04 L420.83,456.08 L420.74,455.13 L420.69,454.21Z M419.35,453.3 L419.64,452.18 L420.11,451.15 L420.68,450.23 L421.25,449.38 L421.78,448.57 L422.26,447.73 L422.69,446.84 L423.14,445.91 L423.68,444.97 L424.33,444.11 L425.13,443.41 L426.04,442.95 L427.02,442.74 L428.03,442.77 L429,442.96 L429.93,443.25 L430.82,443.55 L431.71,443.83 L432.61,444.08 L433.54,444.36 L434.48,444.73 L435.38,445.24 L436.19,445.94 L436.84,446.82 L437.31,447.85 L437.6,448.95 L437.74,450.07 L437.78,451.18 L437.79,452.25 L437.8,453.3 L437.82,454.27 L437.81,455.26 L437.72,456.26 L437.5,457.25 L437.11,458.19 L436.54,459.03 L435.83,459.73 L435.02,460.29 L434.17,460.73 L433.32,461.12 L432.49,461.49 L431.67,461.88 L430.83,462.28 L429.94,462.67 L429,462.98 L428.01,463.13 L427.01,463.08 L426.05,462.81 L425.16,462.33 L424.36,461.7 L423.66,460.99 L423.01,460.25 L422.39,459.53 L421.75,458.81 L421.09,458.08 L420.45,457.28 L419.89,456.39 L419.48,455.41 L419.29,454.37Z M419.91,453.3 L420.14,452.24 L420.47,451.24 L420.84,450.29 L421.19,449.35 L421.5,448.38 L421.76,447.33 L422.04,446.18 L422.41,444.98 L422.93,443.8 L423.64,442.75 L424.56,441.96 L425.63,441.51 L426.78,441.43 L427.92,441.67 L429,442.12 L429.99,442.65 L430.9,443.14 L431.8,443.5 L432.74,443.75 L433.76,443.94 L434.84,444.16 L435.94,444.55 L436.95,445.16 L437.78,446.05 L438.36,447.16 L438.66,448.41 L438.69,449.72 L438.55,450.99 L438.32,452.19 L438.09,453.3 L437.91,454.28 L437.78,455.25 L437.65,456.24 L437.46,457.24 L437.14,458.21 L436.66,459.11 L436,459.89 L435.22,460.52 L434.37,461.02 L433.5,461.45 L432.64,461.85 L431.8,462.3 L430.94,462.82 L430.01,463.39 L429,463.93 L427.89,464.34 L426.71,464.54 L425.54,464.45 L424.42,464.04 L423.44,463.36 L422.63,462.47 L421.97,461.46 L421.46,460.4 L421.03,459.36 L420.65,458.34 L420.32,457.34 L420.05,456.34 L419.87,455.33 L419.82,454.31Z M418.52,453.3 L418.43,452.04 L418.54,450.77 L418.85,449.55 L419.36,448.42 L420.01,447.4 L420.75,446.49 L421.52,445.64 L422.29,444.83 L423.06,444.01 L423.87,443.2 L424.73,442.41 L425.69,441.72 L426.74,441.19 L427.85,440.89 L429,440.85 L430.13,441.04 L431.22,441.42 L432.25,441.93 L433.23,442.51 L434.17,443.13 L435.08,443.8 L435.94,444.54 L436.74,445.38 L437.41,446.36 L437.9,447.46 L438.18,448.65 L438.27,449.88 L438.22,451.07 L438.11,452.21 L438.03,453.3 L438.05,454.29 L438.2,455.35 L438.43,456.5 L438.65,457.79 L438.73,459.17 L438.56,460.56 L438.06,461.83 L437.23,462.86 L436.12,463.55 L434.84,463.88 L433.5,463.88 L432.22,463.66 L431.04,463.35 L429.98,463.09 L429,462.94 L428.03,462.93 L427.03,463.01 L425.96,463.08 L424.86,463.03 L423.76,462.78 L422.75,462.29 L421.88,461.57 L421.17,460.67 L420.62,459.67 L420.17,458.63 L419.79,457.59 L419.43,456.55 L419.08,455.5 L418.76,454.43Z M417.14,453.3 L416.99,451.87 L417.17,450.44 L417.68,449.12 L418.47,447.97 L419.42,447.02 L420.42,446.22 L421.36,445.49 L422.22,444.74 L422.99,443.9 L423.75,442.97 L424.58,442.01 L425.52,441.14 L426.6,440.49 L427.79,440.19 L429,440.27 L430.17,440.7 L431.23,441.39 L432.18,442.19 L433.05,442.96 L433.91,443.63 L434.83,444.17 L435.85,444.65 L436.95,445.17 L438.05,445.83 L439.06,446.7 L439.86,447.81 L440.37,449.1 L440.58,450.5 L440.53,451.92 L440.3,453.3 L439.99,454.51 L439.68,455.67 L439.4,456.83 L439.13,458.01 L438.8,459.21 L438.33,460.38 L437.66,461.45 L436.77,462.33 L435.71,462.95 L434.53,463.32 L433.33,463.46 L432.16,463.48 L431.07,463.48 L430.03,463.54 L429,463.7 L427.93,463.93 L426.8,464.14 L425.6,464.23 L424.4,464.09 L423.27,463.67 L422.28,462.97 L421.47,462.05 L420.82,461 L420.3,459.91 L419.82,458.84 L419.3,457.81 L418.73,456.79 L418.12,455.72 L417.55,454.56Z" fill="none" stroke="#1a1acc" stroke-width="0.8" stroke-opacity="0.95"/>
</g>
<rect x="418.6" y="417" width="1.9" height="22.6" fill="#28c828"/>
<rect x="418.6" y="441.8" width="1.9" height="23.4" fill="#0c0cb4"/>
<line x1="421" y1="464.9" x2="444" y2="464.9" stroke="#c82040" stroke-width="1" />
<rect x="417.7" y="382.5" width="83.6" height="82.6" fill="none" stroke="#b0b0e0" stroke-width="1.4"/>
<text x="460" y="393.5" font-size="11.0" text-anchor="middle" fill="#222" textLength="77.8" lengthAdjust="spacingAndGlyphs" >LPS+IL-15/IL-18</text>
<rect x="329.8" y="468.8" width="11.3" height="10.8" fill="#ee1c1c"/>
<text x="343.8" y="478.7" font-size="11.7" text-anchor="start" fill="#000" font-weight="bold" textLength="25" lengthAdjust="spacingAndGlyphs" >PMN</text>
<rect x="378.8" y="468.8" width="11.6" height="10.8" fill="#2222ee"/>
<text x="392.9" y="478.7" font-size="11.7" text-anchor="start" fill="#000" font-weight="bold" textLength="45.9" lengthAdjust="spacingAndGlyphs" >NK cells</text>
<rect x="448.5" y="468.8" width="11" height="10.8" fill="#33dd33"/>
<text x="461.8" y="478.7" font-size="11.7" text-anchor="start" fill="#000" font-weight="bold" textLength="40.2" lengthAdjust="spacingAndGlyphs" >slanDC</text>
</svg>
</body></html>
